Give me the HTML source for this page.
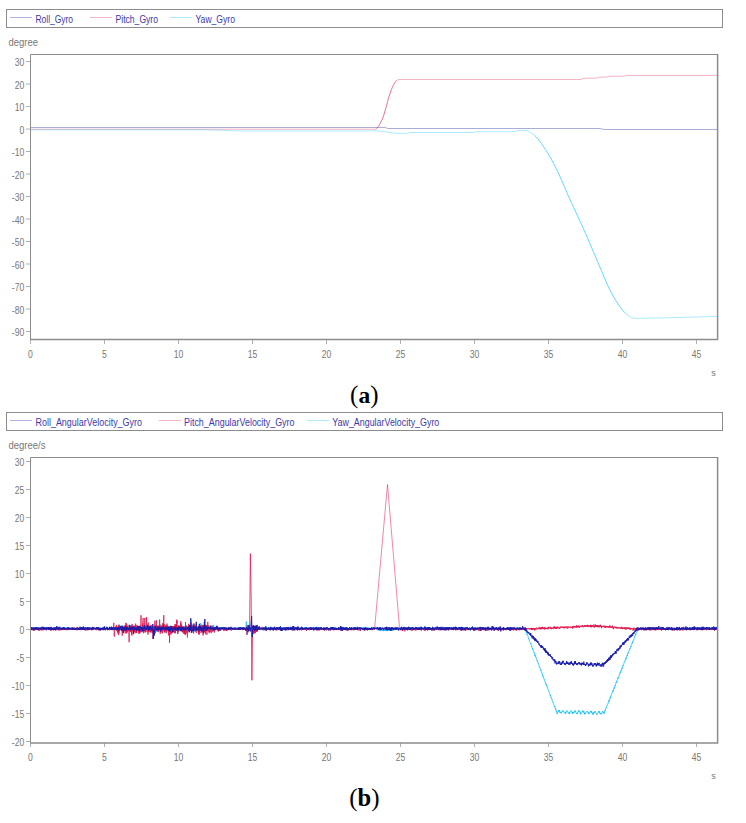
<!DOCTYPE html>
<html><head><meta charset="utf-8"><style>
html,body{margin:0;padding:0;background:#fff;width:746px;height:823px;overflow:hidden}
svg{display:block}

</style></head><body>
<svg width="746" height="823" viewBox="0 0 746 823">
<rect width="746" height="823" fill="#fff"/>
<rect x="6.5" y="9.5" width="716" height="18" fill="none" stroke="#8c8c8c" stroke-width="1"/>
<line x1="10" y1="17.5" x2="32" y2="17.5" stroke="#b4b4e0" stroke-width="1"/>
<text x="35.5" y="23" font-size="10" fill="#4038a8" text-anchor="start" font-family="'Liberation Sans', sans-serif" font-weight="normal" textLength="37.5" lengthAdjust="spacingAndGlyphs">Roll_Gyro</text>
<line x1="90" y1="17.5" x2="112" y2="17.5" stroke="#f2b4c6" stroke-width="1"/>
<text x="115.5" y="23" font-size="10" fill="#4038a8" text-anchor="start" font-family="'Liberation Sans', sans-serif" font-weight="normal" textLength="42.5" lengthAdjust="spacingAndGlyphs">Pitch_Gyro</text>
<line x1="170" y1="17.5" x2="192" y2="17.5" stroke="#afe9fa" stroke-width="1"/>
<text x="195.5" y="23" font-size="10" fill="#4038a8" text-anchor="start" font-family="'Liberation Sans', sans-serif" font-weight="normal" textLength="39.5" lengthAdjust="spacingAndGlyphs">Yaw_Gyro</text>
<text x="8.5" y="45.6" font-size="10" fill="#777777" text-anchor="start" font-family="'Liberation Sans', sans-serif" font-weight="normal" textLength="29.5" lengthAdjust="spacingAndGlyphs">degree</text>
<line x1="26" y1="61.5" x2="30" y2="61.5" stroke="#b0b0b0" stroke-width="1"/>
<text x="24.2" y="66.1" font-size="10" fill="#777777" text-anchor="end" font-family="'Liberation Sans', sans-serif" font-weight="normal" textLength="9.56" lengthAdjust="spacingAndGlyphs">30</text>
<line x1="26" y1="84" x2="30" y2="84" stroke="#b0b0b0" stroke-width="1"/>
<text x="24.2" y="88.6" font-size="10" fill="#777777" text-anchor="end" font-family="'Liberation Sans', sans-serif" font-weight="normal" textLength="9.56" lengthAdjust="spacingAndGlyphs">20</text>
<line x1="26" y1="106.5" x2="30" y2="106.5" stroke="#b0b0b0" stroke-width="1"/>
<text x="24.2" y="111.1" font-size="10" fill="#777777" text-anchor="end" font-family="'Liberation Sans', sans-serif" font-weight="normal" textLength="9.56" lengthAdjust="spacingAndGlyphs">10</text>
<line x1="26" y1="129" x2="30" y2="129" stroke="#b0b0b0" stroke-width="1"/>
<text x="24.2" y="133.6" font-size="10" fill="#777777" text-anchor="end" font-family="'Liberation Sans', sans-serif" font-weight="normal" textLength="4.78" lengthAdjust="spacingAndGlyphs">0</text>
<line x1="26" y1="151.5" x2="30" y2="151.5" stroke="#b0b0b0" stroke-width="1"/>
<text x="24.2" y="156.1" font-size="10" fill="#777777" text-anchor="end" font-family="'Liberation Sans', sans-serif" font-weight="normal" textLength="12.43" lengthAdjust="spacingAndGlyphs">-10</text>
<line x1="26" y1="174" x2="30" y2="174" stroke="#b0b0b0" stroke-width="1"/>
<text x="24.2" y="178.6" font-size="10" fill="#777777" text-anchor="end" font-family="'Liberation Sans', sans-serif" font-weight="normal" textLength="12.43" lengthAdjust="spacingAndGlyphs">-20</text>
<line x1="26" y1="196.5" x2="30" y2="196.5" stroke="#b0b0b0" stroke-width="1"/>
<text x="24.2" y="201.1" font-size="10" fill="#777777" text-anchor="end" font-family="'Liberation Sans', sans-serif" font-weight="normal" textLength="12.43" lengthAdjust="spacingAndGlyphs">-30</text>
<line x1="26" y1="219" x2="30" y2="219" stroke="#b0b0b0" stroke-width="1"/>
<text x="24.2" y="223.6" font-size="10" fill="#777777" text-anchor="end" font-family="'Liberation Sans', sans-serif" font-weight="normal" textLength="12.43" lengthAdjust="spacingAndGlyphs">-40</text>
<line x1="26" y1="241.5" x2="30" y2="241.5" stroke="#b0b0b0" stroke-width="1"/>
<text x="24.2" y="246.1" font-size="10" fill="#777777" text-anchor="end" font-family="'Liberation Sans', sans-serif" font-weight="normal" textLength="12.43" lengthAdjust="spacingAndGlyphs">-50</text>
<line x1="26" y1="264" x2="30" y2="264" stroke="#b0b0b0" stroke-width="1"/>
<text x="24.2" y="268.6" font-size="10" fill="#777777" text-anchor="end" font-family="'Liberation Sans', sans-serif" font-weight="normal" textLength="12.43" lengthAdjust="spacingAndGlyphs">-60</text>
<line x1="26" y1="286.5" x2="30" y2="286.5" stroke="#b0b0b0" stroke-width="1"/>
<text x="24.2" y="291.1" font-size="10" fill="#777777" text-anchor="end" font-family="'Liberation Sans', sans-serif" font-weight="normal" textLength="12.43" lengthAdjust="spacingAndGlyphs">-70</text>
<line x1="26" y1="309" x2="30" y2="309" stroke="#b0b0b0" stroke-width="1"/>
<text x="24.2" y="313.6" font-size="10" fill="#777777" text-anchor="end" font-family="'Liberation Sans', sans-serif" font-weight="normal" textLength="12.43" lengthAdjust="spacingAndGlyphs">-80</text>
<line x1="26" y1="331.5" x2="30" y2="331.5" stroke="#b0b0b0" stroke-width="1"/>
<text x="24.2" y="336.1" font-size="10" fill="#777777" text-anchor="end" font-family="'Liberation Sans', sans-serif" font-weight="normal" textLength="12.43" lengthAdjust="spacingAndGlyphs">-90</text>
<line x1="30.5" y1="340" x2="30.5" y2="344" stroke="#b0b0b0" stroke-width="1"/>
<text x="30.5" y="357.6" font-size="10" fill="#777777" text-anchor="middle" font-family="'Liberation Sans', sans-serif" font-weight="normal" textLength="4.78" lengthAdjust="spacingAndGlyphs">0</text>
<line x1="104.5" y1="340" x2="104.5" y2="344" stroke="#b0b0b0" stroke-width="1"/>
<text x="104.5" y="357.6" font-size="10" fill="#777777" text-anchor="middle" font-family="'Liberation Sans', sans-serif" font-weight="normal" textLength="4.78" lengthAdjust="spacingAndGlyphs">5</text>
<line x1="178.5" y1="340" x2="178.5" y2="344" stroke="#b0b0b0" stroke-width="1"/>
<text x="178.5" y="357.6" font-size="10" fill="#777777" text-anchor="middle" font-family="'Liberation Sans', sans-serif" font-weight="normal" textLength="9.56" lengthAdjust="spacingAndGlyphs">10</text>
<line x1="252.5" y1="340" x2="252.5" y2="344" stroke="#b0b0b0" stroke-width="1"/>
<text x="252.5" y="357.6" font-size="10" fill="#777777" text-anchor="middle" font-family="'Liberation Sans', sans-serif" font-weight="normal" textLength="9.56" lengthAdjust="spacingAndGlyphs">15</text>
<line x1="326.5" y1="340" x2="326.5" y2="344" stroke="#b0b0b0" stroke-width="1"/>
<text x="326.5" y="357.6" font-size="10" fill="#777777" text-anchor="middle" font-family="'Liberation Sans', sans-serif" font-weight="normal" textLength="9.56" lengthAdjust="spacingAndGlyphs">20</text>
<line x1="400.5" y1="340" x2="400.5" y2="344" stroke="#b0b0b0" stroke-width="1"/>
<text x="400.5" y="357.6" font-size="10" fill="#777777" text-anchor="middle" font-family="'Liberation Sans', sans-serif" font-weight="normal" textLength="9.56" lengthAdjust="spacingAndGlyphs">25</text>
<line x1="474.5" y1="340" x2="474.5" y2="344" stroke="#b0b0b0" stroke-width="1"/>
<text x="474.5" y="357.6" font-size="10" fill="#777777" text-anchor="middle" font-family="'Liberation Sans', sans-serif" font-weight="normal" textLength="9.56" lengthAdjust="spacingAndGlyphs">30</text>
<line x1="548.5" y1="340" x2="548.5" y2="344" stroke="#b0b0b0" stroke-width="1"/>
<text x="548.5" y="357.6" font-size="10" fill="#777777" text-anchor="middle" font-family="'Liberation Sans', sans-serif" font-weight="normal" textLength="9.56" lengthAdjust="spacingAndGlyphs">35</text>
<line x1="622.5" y1="340" x2="622.5" y2="344" stroke="#b0b0b0" stroke-width="1"/>
<text x="622.5" y="357.6" font-size="10" fill="#777777" text-anchor="middle" font-family="'Liberation Sans', sans-serif" font-weight="normal" textLength="9.56" lengthAdjust="spacingAndGlyphs">40</text>
<line x1="696.5" y1="340" x2="696.5" y2="344" stroke="#b0b0b0" stroke-width="1"/>
<text x="696.5" y="357.6" font-size="10" fill="#777777" text-anchor="middle" font-family="'Liberation Sans', sans-serif" font-weight="normal" textLength="9.56" lengthAdjust="spacingAndGlyphs">45</text>
<text x="713.6" y="375.6" font-size="9" fill="#777777" text-anchor="middle" font-family="'Liberation Sans', sans-serif" font-weight="normal">s</text>
<g fill="none" stroke-width="1" stroke-linejoin="round">
<path d="M30,127.5 L385,127.5 L388,128.5 L600,128.5 L604,129.5 L717,129.5" stroke="#00008b" stroke-width="0.33"/>
<path d="M30,129.2 L375.5,129.2" stroke="#dc143c" stroke-width="0.33"/>
<path d="M375.5,129.2 L375.86,128.87 L376.36,128.46 L376.95,127.96 L377.6,127.34 L378.26,126.59 L378.9,125.7 L379.54,124.65 L380.21,123.44 L380.91,122.1 L381.6,120.66 L382.27,119.15 L382.9,117.6 L383.5,115.94 L384.1,114.13 L384.67,112.24 L385.21,110.36 L385.73,108.56 L386.2,106.9 L386.61,105.41 L386.97,104.04 L387.29,102.74 L387.6,101.47 L387.93,100.21 L388.3,98.9 L388.72,97.53 L389.16,96.13 L389.62,94.73 L390.09,93.35 L390.55,92.03 L391,90.8 L391.44,89.66 L391.87,88.57 L392.3,87.54 L392.73,86.57 L393.16,85.66 L393.6,84.8 L394.04,83.99 L394.49,83.22 L394.94,82.51 L395.4,81.86 L395.85,81.29 L396.3,80.8 L396.78,80.41" stroke="#dc143c" stroke-width="0.62"/>
<path d="M396.78,80.41 L397.3,80.12 L397.82,79.9 L398.3,79.74 L398.71,79.61 L399,79.5 L581,79.5 L583,78.3 L597,78.1 L599,77.2 L607,77.1 L609,76.3 L624,76.2 L626,75.4 L717,75.4" stroke="#dc143c" stroke-width="0.33"/>
<path d="M30,129.9 L210,129.9 L236,130.9 L377,130.9 L390,132.4 L397,133.3 L408,133.3 L410,132.5 L473,132.5 L476,131.7 L515,131.7 L518,130.4 L527,130.4 L527.03,130.39" stroke="#00bfff" stroke-width="0.33"/>
<path d="M527.03,130.39 L527,130.33 L526.99,130.28" stroke="#00bfff" stroke-width="0.62"/>
<path d="M526.99,130.28 L527.1,130.31 L527.41,130.5 L528,130.9 L528.94,131.52 L530.18,132.29 L531.61,133.21 L533.14,134.28 L534.67,135.48" stroke="#00bfff" stroke-width="0.33"/>
<path d="M534.67,135.48 L536.1,136.8 L537.44,138.27 L538.77,139.91 L540.1,141.68 L541.43,143.56 L542.76,145.5 L544.1,147.5 L545.45,149.55 L546.8,151.67 L548.15,153.86 L549.5,156.13 L550.85,158.48 L552.2,160.9 L553.54,163.4 L554.87,165.97 L556.2,168.61 L557.53,171.33 L558.86,174.13 L560.2,177 L561.55,179.99 L562.9,183.12 L564.25,186.32 L565.6,189.54 L566.95,192.72 L568.3,195.8 L569.64,198.78 L570.97,201.7 L572.31,204.59 L573.64,207.45 L574.97,210.32 L576.3,213.2 L577.63,216.08 L578.96,218.95 L580.29,221.81 L581.63,224.7 L582.96,227.62 L584.3,230.6 L585.65,233.65 L587,236.76 L588.35,239.91 L589.7,243.08 L591.05,246.25 L592.4,249.4 L593.74,252.53 L595.07,255.67 L596.4,258.8 L597.73,261.93 L599.06,265.07 L600.4,268.2 L601.75,271.38 L603.1,274.62 L604.45,277.86 L605.8,281.04 L607.15,284.1 L608.5,287 L609.84,289.73 L611.17,292.35 L612.5,294.86 L613.83,297.25 L615.16,299.53 L616.5,301.7 L617.85,303.78 L619.2,305.76 L620.55,307.63 L621.9,309.37 L623.25,310.97 L624.6,312.4 L625.97,313.66" stroke="#00bfff" stroke-width="0.62"/>
<path d="M625.97,313.66 L627.37,314.77 L628.77,315.74 L630.13,316.56 L631.42,317.24 L632.6,317.8 L633.71,318.17 L634.79,318.35 L635.8,318.39 L636.7,318.35 L637.44,318.3 L638,318.3 L667.5,317.8 L694.3,317 L717,316.4" stroke="#00bfff" stroke-width="0.33"/>
</g>
<path d="M30.5,339.6 L30.5,54.5 L717.6,54.5" fill="none" stroke="#8c8c8c" stroke-width="1"/>
<path d="M30,339.6 L717.6,339.6 L717.6,54" fill="none" stroke="#8c8c8c" stroke-width="1.5"/>
<text x="364.3" y="403" font-size="23.5" fill="#000" text-anchor="middle" font-family="'Liberation Serif', serif"><tspan font-size="25">(</tspan><tspan font-weight="bold">a</tspan><tspan font-size="25">)</tspan></text>
<rect x="6.5" y="412.5" width="716" height="18" fill="none" stroke="#8c8c8c" stroke-width="1"/>
<line x1="10" y1="420.5" x2="32" y2="420.5" stroke="#b4b4e0" stroke-width="1"/>
<text x="35.5" y="426" font-size="10" fill="#4038a8" text-anchor="start" font-family="'Liberation Sans', sans-serif" font-weight="normal" textLength="106.5" lengthAdjust="spacingAndGlyphs">Roll_AngularVelocity_Gyro</text>
<line x1="159" y1="420.5" x2="181" y2="420.5" stroke="#f2b4c6" stroke-width="1"/>
<text x="184" y="426" font-size="10" fill="#4038a8" text-anchor="start" font-family="'Liberation Sans', sans-serif" font-weight="normal" textLength="110.5" lengthAdjust="spacingAndGlyphs">Pitch_AngularVelocity_Gyro</text>
<line x1="307" y1="420.5" x2="329" y2="420.5" stroke="#afe9fa" stroke-width="1"/>
<text x="332.3" y="426" font-size="10" fill="#4038a8" text-anchor="start" font-family="'Liberation Sans', sans-serif" font-weight="normal" textLength="107" lengthAdjust="spacingAndGlyphs">Yaw_AngularVelocity_Gyro</text>
<text x="8.5" y="448.6" font-size="10" fill="#777777" text-anchor="start" font-family="'Liberation Sans', sans-serif" font-weight="normal" textLength="37" lengthAdjust="spacingAndGlyphs">degree/s</text>
<line x1="26" y1="461.5" x2="30" y2="461.5" stroke="#b0b0b0" stroke-width="1"/>
<text x="24.2" y="466.1" font-size="10" fill="#777777" text-anchor="end" font-family="'Liberation Sans', sans-serif" font-weight="normal" textLength="9.56" lengthAdjust="spacingAndGlyphs">30</text>
<line x1="26" y1="489.5" x2="30" y2="489.5" stroke="#b0b0b0" stroke-width="1"/>
<text x="24.2" y="494.1" font-size="10" fill="#777777" text-anchor="end" font-family="'Liberation Sans', sans-serif" font-weight="normal" textLength="9.56" lengthAdjust="spacingAndGlyphs">25</text>
<line x1="26" y1="517.5" x2="30" y2="517.5" stroke="#b0b0b0" stroke-width="1"/>
<text x="24.2" y="522.1" font-size="10" fill="#777777" text-anchor="end" font-family="'Liberation Sans', sans-serif" font-weight="normal" textLength="9.56" lengthAdjust="spacingAndGlyphs">20</text>
<line x1="26" y1="545.5" x2="30" y2="545.5" stroke="#b0b0b0" stroke-width="1"/>
<text x="24.2" y="550.1" font-size="10" fill="#777777" text-anchor="end" font-family="'Liberation Sans', sans-serif" font-weight="normal" textLength="9.56" lengthAdjust="spacingAndGlyphs">15</text>
<line x1="26" y1="573.5" x2="30" y2="573.5" stroke="#b0b0b0" stroke-width="1"/>
<text x="24.2" y="578.1" font-size="10" fill="#777777" text-anchor="end" font-family="'Liberation Sans', sans-serif" font-weight="normal" textLength="9.56" lengthAdjust="spacingAndGlyphs">10</text>
<line x1="26" y1="601.5" x2="30" y2="601.5" stroke="#b0b0b0" stroke-width="1"/>
<text x="24.2" y="606.1" font-size="10" fill="#777777" text-anchor="end" font-family="'Liberation Sans', sans-serif" font-weight="normal" textLength="4.78" lengthAdjust="spacingAndGlyphs">5</text>
<line x1="26" y1="629.5" x2="30" y2="629.5" stroke="#b0b0b0" stroke-width="1"/>
<text x="24.2" y="634.1" font-size="10" fill="#777777" text-anchor="end" font-family="'Liberation Sans', sans-serif" font-weight="normal" textLength="4.78" lengthAdjust="spacingAndGlyphs">0</text>
<line x1="26" y1="657.5" x2="30" y2="657.5" stroke="#b0b0b0" stroke-width="1"/>
<text x="24.2" y="662.1" font-size="10" fill="#777777" text-anchor="end" font-family="'Liberation Sans', sans-serif" font-weight="normal" textLength="7.65" lengthAdjust="spacingAndGlyphs">-5</text>
<line x1="26" y1="685.5" x2="30" y2="685.5" stroke="#b0b0b0" stroke-width="1"/>
<text x="24.2" y="690.1" font-size="10" fill="#777777" text-anchor="end" font-family="'Liberation Sans', sans-serif" font-weight="normal" textLength="12.43" lengthAdjust="spacingAndGlyphs">-10</text>
<line x1="26" y1="713.5" x2="30" y2="713.5" stroke="#b0b0b0" stroke-width="1"/>
<text x="24.2" y="718.1" font-size="10" fill="#777777" text-anchor="end" font-family="'Liberation Sans', sans-serif" font-weight="normal" textLength="12.43" lengthAdjust="spacingAndGlyphs">-15</text>
<line x1="26" y1="741.5" x2="30" y2="741.5" stroke="#b0b0b0" stroke-width="1"/>
<text x="24.2" y="746.1" font-size="10" fill="#777777" text-anchor="end" font-family="'Liberation Sans', sans-serif" font-weight="normal" textLength="12.43" lengthAdjust="spacingAndGlyphs">-20</text>
<line x1="30.5" y1="743" x2="30.5" y2="747" stroke="#b0b0b0" stroke-width="1"/>
<text x="30.5" y="760.6" font-size="10" fill="#777777" text-anchor="middle" font-family="'Liberation Sans', sans-serif" font-weight="normal" textLength="4.78" lengthAdjust="spacingAndGlyphs">0</text>
<line x1="104.5" y1="743" x2="104.5" y2="747" stroke="#b0b0b0" stroke-width="1"/>
<text x="104.5" y="760.6" font-size="10" fill="#777777" text-anchor="middle" font-family="'Liberation Sans', sans-serif" font-weight="normal" textLength="4.78" lengthAdjust="spacingAndGlyphs">5</text>
<line x1="178.5" y1="743" x2="178.5" y2="747" stroke="#b0b0b0" stroke-width="1"/>
<text x="178.5" y="760.6" font-size="10" fill="#777777" text-anchor="middle" font-family="'Liberation Sans', sans-serif" font-weight="normal" textLength="9.56" lengthAdjust="spacingAndGlyphs">10</text>
<line x1="252.5" y1="743" x2="252.5" y2="747" stroke="#b0b0b0" stroke-width="1"/>
<text x="252.5" y="760.6" font-size="10" fill="#777777" text-anchor="middle" font-family="'Liberation Sans', sans-serif" font-weight="normal" textLength="9.56" lengthAdjust="spacingAndGlyphs">15</text>
<line x1="326.5" y1="743" x2="326.5" y2="747" stroke="#b0b0b0" stroke-width="1"/>
<text x="326.5" y="760.6" font-size="10" fill="#777777" text-anchor="middle" font-family="'Liberation Sans', sans-serif" font-weight="normal" textLength="9.56" lengthAdjust="spacingAndGlyphs">20</text>
<line x1="400.5" y1="743" x2="400.5" y2="747" stroke="#b0b0b0" stroke-width="1"/>
<text x="400.5" y="760.6" font-size="10" fill="#777777" text-anchor="middle" font-family="'Liberation Sans', sans-serif" font-weight="normal" textLength="9.56" lengthAdjust="spacingAndGlyphs">25</text>
<line x1="474.5" y1="743" x2="474.5" y2="747" stroke="#b0b0b0" stroke-width="1"/>
<text x="474.5" y="760.6" font-size="10" fill="#777777" text-anchor="middle" font-family="'Liberation Sans', sans-serif" font-weight="normal" textLength="9.56" lengthAdjust="spacingAndGlyphs">30</text>
<line x1="548.5" y1="743" x2="548.5" y2="747" stroke="#b0b0b0" stroke-width="1"/>
<text x="548.5" y="760.6" font-size="10" fill="#777777" text-anchor="middle" font-family="'Liberation Sans', sans-serif" font-weight="normal" textLength="9.56" lengthAdjust="spacingAndGlyphs">35</text>
<line x1="622.5" y1="743" x2="622.5" y2="747" stroke="#b0b0b0" stroke-width="1"/>
<text x="622.5" y="760.6" font-size="10" fill="#777777" text-anchor="middle" font-family="'Liberation Sans', sans-serif" font-weight="normal" textLength="9.56" lengthAdjust="spacingAndGlyphs">40</text>
<line x1="696.5" y1="743" x2="696.5" y2="747" stroke="#b0b0b0" stroke-width="1"/>
<text x="696.5" y="760.6" font-size="10" fill="#777777" text-anchor="middle" font-family="'Liberation Sans', sans-serif" font-weight="normal" textLength="9.56" lengthAdjust="spacingAndGlyphs">45</text>
<text x="713.6" y="778.6" font-size="9" fill="#777777" text-anchor="middle" font-family="'Liberation Sans', sans-serif" font-weight="normal">s</text>
<g fill="none" stroke-width="0.45" stroke-linejoin="round">
<path d="M30.5,627.92 L30.65,628.78 L30.8,628.13 L30.94,628.61 L31.09,628.43 L31.24,628.33 L31.39,629.03 L31.53,627.89 L31.68,627.95 L31.83,628.13 L31.98,628.77 L32.13,627.82 L32.27,628.46 L32.42,628.39 L32.57,628.57 L32.72,629.6 L32.86,628.53 L33.01,628.45 L33.16,627.97 L33.31,628.84 L33.45,628.78 L33.6,627.71 L33.75,627.74 L33.9,628.34 L34.05,629.26 L34.19,628.14 L34.34,628.38 L34.49,629.07 L34.64,629.38 L34.78,628.18 L34.93,628.8 L35.08,628.4 L35.23,628.09 L35.38,628.23 L35.52,627.43 L35.67,629.35 L35.82,628.53 L35.97,628.44 L36.11,628.8 L36.26,628.16 L36.41,628.45 L36.56,628.34 L36.71,628.03 L36.85,628.38 L37,627.56 L37.15,628.1 L37.3,627.71 L37.44,628.93 L37.59,628.46 L37.74,628.17 L37.89,628.55 L38.04,627.89 L38.18,628.04 L38.33,628.48 L38.48,627.63 L38.63,627.78 L38.77,628.38 L38.92,627.85 L39.07,628.17 L39.22,628.8 L39.36,628.61 L39.51,628.38 L39.66,629.01 L39.81,628.31 L39.96,627.98 L40.1,628.84 L40.25,628.14 L40.4,628.43 L40.55,627.7 L40.69,628.36 L40.84,628 L40.99,628.3 L41.14,627.96 L41.29,628.38 L41.43,628.16 L41.58,629.08 L41.73,628.22 L41.88,628.43 L42.02,628.33 L42.17,628.14 L42.32,628.14 L42.47,628.4 L42.62,628.39 L42.76,628.37 L42.91,628.15 L43.06,628.17 L43.21,628.18 L43.35,628.56 L43.5,628.19 L43.65,628.77 L43.8,628.42 L43.94,627.82 L44.09,629.39 L44.24,628.53 L44.39,629.1 L44.54,628.53 L44.68,628.65 L44.83,628.71 L44.98,627.97 L45.13,628.82 L45.27,629.5 L45.42,628.09 L45.57,628.1 L45.72,628.66 L45.87,628.28 L46.01,628.23 L46.16,628.74 L46.31,628.05 L46.46,628.37 L46.6,628.76 L46.75,628.65 L46.9,629.02 L47.05,627.52 L47.2,628.76 L47.34,628.44 L47.49,628.39 L47.64,629.22 L47.79,627.51 L47.93,628.6 L48.08,627.56 L48.23,628.94 L48.38,628.04 L48.52,627.93 L48.67,628.26 L48.82,628.17 L48.97,627.89 L49.12,628.23 L49.26,628.33 L49.41,628.77 L49.56,628.24 L49.71,628.52 L49.85,628.43 L50,628.56 L50.15,629.05 L50.3,628.69 L50.45,628.82 L50.59,629.59 L50.74,629.07 L50.89,628.97 L51.04,628.99 L51.18,628.62 L51.33,628.77 L51.48,628.17 L51.63,628.54 L51.78,627.73 L51.92,628.18 L52.07,628.99 L52.22,629.24 L52.37,628.91 L52.51,628.71 L52.66,628.99 L52.81,628.72 L52.96,628.17 L53.11,628.56 L53.25,628.09 L53.4,628.58 L53.55,628.23 L53.7,628.58 L53.84,627.96 L53.99,628.57 L54.14,628.32 L54.29,628.4 L54.43,627.73 L54.58,628.77 L54.73,628.97 L54.88,628.68 L55.03,629.14 L55.17,627.56 L55.32,628.49 L55.47,628.68 L55.62,629.22 L55.76,628.76 L55.91,628.32 L56.06,628.7 L56.21,628.29 L56.36,628.75 L56.5,628.63 L56.65,628.31 L56.8,628.55 L56.95,628.36 L57.09,627.75 L57.24,628.15 L57.39,628.43 L57.54,627.44 L57.69,629.28 L57.83,628.3 L57.98,628.11 L58.13,628.79 L58.28,628.43 L58.42,627.95 L58.57,627.84 L58.72,628.93 L58.87,628.07 L59.01,627.78 L59.16,628.91 L59.31,628.39 L59.46,628.31 L59.61,627.87 L59.75,628.86 L59.9,628.29 L60.05,628.85 L60.2,628.44 L60.34,627.9 L60.49,628.76 L60.64,628.17 L60.79,628.05 L60.94,628.15 L61.08,628.35 L61.23,629.53 L61.38,628.44 L61.53,628.23 L61.67,628.09 L61.82,629.94 L61.97,628.62 L62.12,628.96 L62.27,628.6 L62.41,628.91 L62.56,629.05 L62.71,628.95 L62.86,628.37 L63,628.33 L63.15,628.8 L63.3,627.58 L63.45,628.36 L63.59,628.56 L63.74,627.78 L63.89,627.99 L64.04,628.81 L64.19,628.47 L64.33,628.94 L64.48,627.99 L64.63,628.5 L64.78,628.14 L64.92,628.14 L65.07,628.22 L65.22,628.45 L65.37,628.01 L65.52,628.53 L65.66,628.44 L65.81,628.37 L65.96,627.99 L66.11,628.86 L66.25,629.1 L66.4,628.57 L66.55,628.56 L66.7,627.98 L66.85,628.58 L66.99,627.8 L67.14,628.76 L67.29,627.49 L67.44,629.49 L67.58,628.27 L67.73,628.16 L67.88,627.42 L68.03,628.55 L68.18,628.59 L68.32,628.17 L68.47,628.95 L68.62,629.21 L68.77,628.59 L68.91,627.78 L69.06,627.59 L69.21,628.47 L69.36,628.54 L69.5,628.15 L69.65,628.31 L69.8,628.57 L69.95,628.18 L70.1,627.79 L70.24,628.46 L70.39,627.84 L70.54,628.63 L70.69,628.97 L70.83,628.85 L70.98,628 L71.13,629.19 L71.28,628.47 L71.43,628.53 L71.57,628.11 L71.72,627.78 L71.87,628.23 L72.02,628.2 L72.16,628.56 L72.31,628.34 L72.46,628.14 L72.61,628.46 L72.76,628.22 L72.9,627.84 L73.05,628.34 L73.2,628.14 L73.35,628.78 L73.49,627.43 L73.64,628.16 L73.79,628.3 L73.94,628.75 L74.08,628.6 L74.23,628.42 L74.38,628.63 L74.53,629.43 L74.68,628.4 L74.82,628.52 L74.97,629.59 L75.12,628.55 L75.27,628.88 L75.41,627.99 L75.56,628.29 L75.71,629.59 L75.86,628.71 L76.01,628.45 L76.15,628.22 L76.3,628.22 L76.45,628.46 L76.6,628.87 L76.74,628.73 L76.89,627.65 L77.04,627.73 L77.19,627.04 L77.34,628.02 L77.48,628.89 L77.63,628.83 L77.78,629.38 L77.93,628.61 L78.07,628.25 L78.22,628.43 L78.37,628.72 L78.52,628.47 L78.66,628.48 L78.81,628.38 L78.96,628.51 L79.11,628.46 L79.26,628.57 L79.4,627.98 L79.55,628.02 L79.7,628.09 L79.85,629.32 L79.99,628.18 L80.14,629.03 L80.29,628.22 L80.44,628.36 L80.59,627.59 L80.73,627.93 L80.88,627.88 L81.03,628.12 L81.18,628.35 L81.32,628.2 L81.47,627.97 L81.62,628.54 L81.77,628.81 L81.92,628.23 L82.06,628.25 L82.21,627.92 L82.36,629.44 L82.51,629.18 L82.65,628.38 L82.8,628.96 L82.95,628.15 L83.1,628.27 L83.25,628.51 L83.39,628.11 L83.54,628.89 L83.69,629.03 L83.84,629.02 L83.98,628.09 L84.13,628.62 L84.28,628.11 L84.43,628.51 L84.57,628.42 L84.72,629.05 L84.87,628.43 L85.02,629.15 L85.17,628.22 L85.31,628.52 L85.46,627.57 L85.61,628.51 L85.76,628.15 L85.9,628.5 L86.05,628.05 L86.2,628.21 L86.35,628.23 L86.5,627.9 L86.64,628.42 L86.79,629.04 L86.94,628.17 L87.09,628.83 L87.23,628.51 L87.38,628.19 L87.53,627.8 L87.68,628.07 L87.83,629.16 L87.97,628.42 L88.12,628.58 L88.27,628.64 L88.42,628.59 L88.56,627.65 L88.71,629.03 L88.86,627.69 L89.01,627.62 L89.15,628.63 L89.3,629.21 L89.45,628.67 L89.6,627.7 L89.75,628.43 L89.89,628.49 L90.04,628.01 L90.19,628.09 L90.34,627.94 L90.48,628.85 L90.63,628.48 L90.78,628.28 L90.93,628.19 L91.08,627.85 L91.22,627.87 L91.37,628.4 L91.52,628.35 L91.67,628.89 L91.81,628.29 L91.96,629.3 L92.11,629.77 L92.26,628.58 L92.41,628.4 L92.55,628.97 L92.7,628.85 L92.85,628.47 L93,628.13 L93.14,628.64 L93.29,628.74 L93.44,627.62 L93.59,628.42 L93.74,628.77 L93.88,628.46 L94.03,628.71 L94.18,628.63 L94.33,628.06 L94.47,628.66 L94.62,628.87 L94.77,628.13 L94.92,628.13 L95.06,628.57 L95.21,628.31 L95.36,628.2 L95.51,627.8 L95.66,627.99 L95.8,628.72 L95.95,627.44 L96.1,628.03 L96.25,627.42 L96.39,628.24 L96.54,628.42 L96.69,628.4 L96.84,628.13 L96.99,628 L97.13,628.42 L97.28,627.81 L97.43,628.62 L97.58,628.2 L97.72,628.8 L97.87,628.29 L98.02,628.61 L98.17,629.1 L98.32,627.71 L98.46,629.2 L98.61,628.78 L98.76,629.05 L98.91,628.33 L99.05,629.42 L99.2,628.85 L99.35,628.66 L99.5,628.5 L99.64,628.07 L99.79,628.66 L99.94,629.5 L100.09,628.73 L100.24,628.43 L100.38,629 L100.53,628.96 L100.68,628.9 L100.83,628.85 L100.97,628.79 L101.12,628.05 L101.27,628.65 L101.42,628.23 L101.57,628.93 L101.71,628.46 L101.86,629.12 L102.01,627.89 L102.16,627.58 L102.3,628.67 L102.45,628.69 L102.6,627.7 L102.75,628.34 L102.9,627.95 L103.04,628.9 L103.19,628.38 L103.34,628.38 L103.49,628.52 L103.63,628.52 L103.78,627.62 L103.93,628.39 L104.08,628.26 L104.22,628.06 L104.37,628.08 L104.52,628.75 L104.67,628.32 L104.82,627.71 L104.96,629.21 L105.11,628.48 L105.26,627.81 L105.41,628.53 L105.55,629.06 L105.7,628.67 L105.85,628.35 L106,628.03 L106.15,628.52 L106.29,628.03 L106.44,628.61 L106.59,628.93 L106.74,627.87 L106.88,628.25 L107.03,629.46 L107.18,628.78 L107.33,627.96 L107.48,628.93 L107.62,627.83 L107.77,628.47 L107.92,628.28 L108.07,629.1 L108.21,628.3 L108.36,627.85 L108.51,628.81 L108.66,628.85 L108.81,628.64 L108.95,627.94 L109.1,627.71 L109.25,628.43 L109.4,629.01 L109.54,628.15 L109.69,628.23 L109.84,627.96 L109.99,628.54 L110.13,628.63 L110.28,628.77 L110.43,628.73 L110.58,628.07 L110.73,628.5 L110.87,629 L111.02,629.17 L111.17,628.47 L111.32,627.44 L111.46,627.98 L111.61,627.63 L111.76,627.52 L111.91,628.01 L112.06,627.97 L112.2,628.8 L112.35,628.15 L112.5,628.28 L112.65,628.32 L112.79,628.01 L112.94,628.19 L113.09,628.32 L113.24,628.73 L113.39,628.28 L113.53,628.85 L113.68,628.08 L113.83,628.88 L113.98,628.93 L114.12,628.31 L114.27,627.73 L114.42,628.84 L114.57,627.56 L114.71,628.05 L114.86,628.15 L115.01,628.93 L115.16,627.73 L115.31,627.44 L115.45,628.91 L115.6,630.08 L115.75,628.44 L115.9,627.23 L116.04,627.46 L116.19,626.58 L116.34,627.2 L116.49,630.45 L116.64,627.94 L116.78,629.68 L116.93,629.05 L117.08,627.45 L117.23,628.33 L117.37,628.23 L117.52,630.04 L117.67,630.38 L117.82,632.4 L117.97,626.41 L118.11,628.72 L118.26,627.66 L118.41,628.74 L118.56,627.94 L118.7,627.77 L118.85,630.35 L119,624.82 L119.15,626.82 L119.29,632.93 L119.44,628.68 L119.59,629.39 L119.74,626.34 L119.89,625.18 L120.03,630.67 L120.18,629.39 L120.33,628.13 L120.48,626.28 L120.62,629.77 L120.77,628.87 L120.92,627.8 L121.07,626.88 L121.22,628.62 L121.36,629.18 L121.51,626.25 L121.66,629.46 L121.81,628.3 L121.95,625.27 L122.1,628.59 L122.25,627.25 L122.4,628.01 L122.55,630.07 L122.69,629.51 L122.84,629.6 L122.99,630.29 L123.14,627.16 L123.28,625.7 L123.43,628.34 L123.58,629.97 L123.73,630.7 L123.88,627.1 L124.02,627.65 L124.17,629.18 L124.32,627.06 L124.47,627.08 L124.61,630.32 L124.76,627.15 L124.91,627.35 L125.06,629.05 L125.2,626.76 L125.35,631.03 L125.5,627.52 L125.65,627.56 L125.8,631.18 L125.94,628.68 L126.09,629.03 L126.24,630.28 L126.39,629.28 L126.53,628.15 L126.68,629.67 L126.83,626.84 L126.98,631.19 L127.13,628.98 L127.27,628.32 L127.42,630.47 L127.57,631.48 L127.72,627.92 L127.86,630.03 L128.01,626.8 L128.16,628.45 L128.31,629.02 L128.46,627.1 L128.6,630.06 L128.75,629.45 L128.9,627.29 L129.05,625.15 L129.19,631.99 L129.34,628.15 L129.49,629.91 L129.64,627.14 L129.78,627.37 L129.93,629.05 L130.08,626.22 L130.23,628.07 L130.38,629.36 L130.52,630.37 L130.67,631.48 L130.82,625.29 L130.97,630.14 L131.11,627.56 L131.26,625.51 L131.41,627.97 L131.56,627.64 L131.71,626.37 L131.85,630.39 L132,627.92 L132.15,629.49 L132.3,627 L132.44,627.84 L132.59,630.34 L132.74,630.34 L132.89,626.89 L133.04,630.76 L133.18,630.39 L133.33,628.64 L133.48,625.69 L133.63,627.62 L133.77,630.94 L133.92,629.03 L134.07,629.3 L134.22,628.19 L134.36,626.52 L134.51,629.33 L134.66,626.29 L134.81,630.39 L134.96,627.94 L135.1,626.76 L135.25,627.49 L135.4,625.53 L135.55,629.06 L135.69,631.04 L135.84,628.53 L135.99,626.09 L136.14,628.83 L136.29,631.94 L136.43,628.27 L136.58,627.58 L136.73,627.85 L136.88,630.17 L137.02,627.05 L137.17,630.56 L137.32,628.07 L137.47,627.04 L137.62,629.06 L137.76,630.57 L137.91,626.38 L138.06,626.23 L138.21,630.63 L138.35,627.29 L138.5,629.85 L138.65,627.9 L138.8,629.53 L138.95,631.17 L139.09,628.14 L139.24,627.07 L139.39,626.18 L139.54,628.3 L139.68,629.43 L139.83,628.87 L139.98,630.83 L140.13,627.43 L140.27,628.43 L140.42,626.46 L140.57,630.54 L140.72,625.64 L140.87,629.49 L141.01,628.64 L141.16,628.84 L141.31,627.68 L141.46,630.24 L141.6,628.3 L141.75,628.53 L141.9,627.32 L142.05,627.39 L142.2,627.6 L142.34,628.93 L142.49,626.78 L142.64,630.7 L142.79,630.59 L142.93,625.96 L143.08,630.3 L143.23,625.76 L143.38,625.18 L143.53,629.12 L143.67,626.03 L143.82,629.08 L143.97,626.48 L144.12,628.99 L144.26,629.29 L144.41,627.75 L144.56,630.6 L144.71,627.98 L144.85,629.32 L145,628.66 L145.15,626.51 L145.3,630.37 L145.45,627.28 L145.59,628.17 L145.74,626.83 L145.89,625.49 L146.04,626.45 L146.18,625.12 L146.33,627.65 L146.48,630 L146.63,629.82 L146.78,627.29 L146.92,629.28 L147.07,628.51 L147.22,627.47 L147.37,624.2 L147.51,625.37 L147.66,629.26 L147.81,625.94 L147.96,629.43 L148.11,629.52 L148.25,627.98 L148.4,628.68 L148.55,625.78 L148.7,630.59 L148.84,629.97 L148.99,625.82 L149.14,630.75 L149.29,630.44 L149.44,630 L149.58,627.64 L149.73,626.46 L149.88,626.46 L150.03,629.08 L150.17,631.55 L150.32,626.19 L150.47,631.58 L150.62,628.58 L150.76,629.08 L150.91,629.66 L151.06,630.15 L151.21,629.93 L151.36,627.12 L151.5,629.13 L151.65,629.04 L151.8,628.55 L151.95,628.75 L152.09,627.81 L152.24,631.34 L152.39,627.99 L152.54,628.67 L152.69,628.95 L152.83,631.37 L152.98,626.92 L153.13,628.9 L153.28,627.66 L153.42,628.6 L153.57,628.46 L153.72,625.92 L153.87,626.11 L154.02,629.61 L154.16,630.27 L154.31,629.72 L154.46,629.36 L154.61,627.69 L154.75,629.64 L154.9,629.39 L155.05,628 L155.2,629.36 L155.34,628.9 L155.49,627.6 L155.64,629.03 L155.79,629.47 L155.94,625.56 L156.08,629 L156.23,629.33 L156.38,626.56 L156.53,626.51 L156.67,630.01 L156.82,631.85 L156.97,628.76 L157.12,626.57 L157.27,628.02 L157.41,628.13 L157.56,629.15 L157.71,627.3 L157.86,627.1 L158,628.76 L158.15,630.64 L158.3,628.29 L158.45,627.41 L158.6,626.19 L158.74,628.02 L158.89,628.93 L159.04,626.72 L159.19,629.79 L159.33,630.86 L159.48,628.45 L159.63,626.41 L159.78,625.67 L159.92,627.27 L160.07,628.3 L160.22,626.35 L160.37,628.37 L160.52,628.78 L160.66,626.46 L160.81,628.11 L160.96,624.29 L161.11,627.34 L161.25,628.05 L161.4,628.67 L161.55,625.67 L161.7,627.11 L161.85,627.25 L161.99,629.16 L162.14,627.82 L162.29,630.73 L162.44,628.55 L162.58,627.6 L162.73,627.32 L162.88,626.73 L163.03,630.02 L163.18,631.43 L163.32,628.27 L163.47,629.44 L163.62,629.14 L163.77,626.61 L163.91,630.06 L164.06,626.56 L164.21,628.5 L164.36,630.54 L164.51,632.53 L164.65,630.02 L164.8,631.41 L164.95,627.51 L165.1,631.7 L165.24,628.23 L165.39,631.21 L165.54,626.96 L165.69,630.55 L165.83,628.51 L165.98,629.31 L166.13,627.21 L166.28,627.15 L166.43,626.52 L166.57,630.8 L166.72,628.37 L166.87,626.9 L167.02,628.76 L167.16,628.6 L167.31,631.59 L167.46,629.72 L167.61,627.96 L167.76,627.94 L167.9,625.44 L168.05,629.65 L168.2,628.65 L168.35,627.28 L168.49,627.47 L168.64,631.3 L168.79,630.2 L168.94,630.87 L169.09,625.97 L169.23,630.63 L169.38,629.85 L169.53,628.95 L169.68,630.3 L169.82,626.98 L169.97,628.5 L170.12,630.06 L170.27,625.7 L170.41,627.84 L170.56,626.06 L170.71,627.05 L170.86,626.85 L171.01,626.11 L171.15,625.79 L171.3,629.88 L171.45,626.98 L171.6,628.12 L171.74,628.2 L171.89,629.44 L172.04,628.14 L172.19,628.23 L172.34,627.13 L172.48,627.42 L172.63,627.64 L172.78,626.39 L172.93,626.36 L173.07,628.2 L173.22,628.41 L173.37,626.24 L173.52,628.3 L173.67,626.83 L173.81,627.35 L173.96,626.94 L174.11,629.29 L174.26,626.9 L174.4,629.76 L174.55,626.44 L174.7,628.53 L174.85,628.15 L174.99,626.89 L175.14,627.33 L175.29,629.92 L175.44,631.59 L175.59,628.15 L175.73,628.95 L175.88,629.38 L176.03,625.59 L176.18,628.91 L176.32,629.01 L176.47,626.47 L176.62,625.62 L176.77,627.61 L176.92,627.23 L177.06,629.82 L177.21,626.66 L177.36,627.51 L177.51,626.65 L177.65,633.71 L177.8,629.79 L177.95,630.66 L178.1,627.57 L178.25,629.56 L178.39,629.79 L178.54,628.03 L178.69,627.52 L178.84,627.24 L178.98,626.16 L179.13,625.3 L179.28,627.64 L179.43,630.17 L179.58,629.13 L179.72,627.56 L179.87,626.39 L180.02,626.95 L180.17,628.11 L180.31,628.8 L180.46,629.91 L180.61,625 L180.76,630.35 L180.9,629.04 L181.05,630.03 L181.2,628.78 L181.35,632.02 L181.5,626.65 L181.64,624.88 L181.79,624.7 L181.94,627.31 L182.09,627.42 L182.23,629.15 L182.38,628.06 L182.53,631.83 L182.68,630 L182.83,628.16 L182.97,627.63 L183.12,627.83 L183.27,628.23 L183.42,627.82 L183.56,629.65 L183.71,626.8 L183.86,629.37 L184.01,628.06 L184.16,628.91 L184.3,630.11 L184.45,631.11 L184.6,627.91 L184.75,628.98 L184.89,626.54 L185.04,626.13 L185.19,628.53 L185.34,626.92 L185.48,629.19 L185.63,627.13 L185.78,626.4 L185.93,627.9 L186.08,626.35 L186.22,627.7 L186.37,632.61 L186.52,628.27 L186.67,626.82 L186.81,630.61 L186.96,626.69 L187.11,630.33 L187.26,628.2 L187.41,628.6 L187.55,628.06 L187.7,629.89 L187.85,626.33 L188,630.09 L188.14,628.39 L188.29,626.24 L188.44,629.49 L188.59,629.24 L188.74,630.18 L188.88,625.86 L189.03,627.08 L189.18,629.76 L189.33,629.06 L189.47,626.75 L189.62,626.04 L189.77,628.33 L189.92,628.15 L190.07,628.02 L190.21,627.75 L190.36,630.73 L190.51,627.02 L190.66,628.94 L190.8,629.29 L190.95,627.68 L191.1,629.25 L191.25,625.89 L191.39,630.48 L191.54,628.47 L191.69,626.69 L191.84,627.96 L191.99,626.72 L192.13,629.05 L192.28,628.76 L192.43,629.34 L192.58,628.98 L192.72,625.81 L192.87,626.77 L193.02,631.75 L193.17,628.02 L193.32,626.59 L193.46,629.44 L193.61,628.28 L193.76,625.09 L193.91,630.35 L194.05,625.46 L194.2,629.7 L194.35,626.67 L194.5,627.84 L194.65,629.14 L194.79,626.47 L194.94,624.06 L195.09,627.87 L195.24,631.82 L195.38,625.72 L195.53,631.08 L195.68,626.5 L195.83,631.79 L195.97,626.96 L196.12,627.75 L196.27,627.02 L196.42,628.54 L196.57,629.14 L196.71,628.68 L196.86,627.62 L197.01,627.45 L197.16,627.28 L197.3,629.26 L197.45,627.89 L197.6,627.79 L197.75,627.51 L197.9,628.26 L198.04,628.97 L198.19,627.21 L198.34,629.89 L198.49,628.27 L198.63,627.35 L198.78,628.92 L198.93,627.72 L199.08,626.18 L199.23,628.18 L199.37,628.45 L199.52,628.62 L199.67,627.29 L199.82,627.96 L199.96,628.08 L200.11,629.24 L200.26,627.75 L200.41,626.07 L200.55,628.19 L200.7,623.11 L200.85,629.74 L201,628.12 L201.15,630.24 L201.29,630.6 L201.44,629.73 L201.59,627.63 L201.74,626.33 L201.88,628.67 L202.03,630.82 L202.18,628.97 L202.33,625.17 L202.48,625.01 L202.62,628.05 L202.77,633.57 L202.92,625.85 L203.07,627.97 L203.21,632.94 L203.36,628.69 L203.51,628.54 L203.66,625.54 L203.81,629.6 L203.95,628.05 L204.1,627.72 L204.25,628.41 L204.4,626.52 L204.54,630.14 L204.69,629.94 L204.84,628.72 L204.99,624.93 L205.14,630.01 L205.28,629.71 L205.43,628.39 L205.58,627.43 L205.73,629.43 L205.87,629.53 L206.02,629.6 L206.17,627.52 L206.32,626.16 L206.46,628.96 L206.61,626.73 L206.76,629.11 L206.91,631.38 L207.06,626.39 L207.2,629.58 L207.35,630.27 L207.5,628.98 L207.65,628.85 L207.79,627.97 L207.94,629.86 L208.09,626.26 L208.24,629.02 L208.39,627.12 L208.53,628.96 L208.68,628.41 L208.83,629.19 L208.98,631.25 L209.12,628.31 L209.27,629.93 L209.42,626.96 L209.57,628.37 L209.72,628.3 L209.86,629.89 L210.01,629.06 L210.16,629.23 L210.31,628 L210.45,628.27 L210.6,631.78 L210.75,627.78 L210.9,627.73 L211.04,626.19 L211.19,627.16 L211.34,630.13 L211.49,628.88 L211.64,627.2 L211.78,629.53 L211.93,627.98 L212.08,628.66 L212.23,629.72 L212.37,625.67 L212.52,630.24 L212.67,626.33 L212.82,627.04 L212.97,628.14 L213.11,628.38 L213.26,629.87 L213.41,628.74 L213.56,624.85 L213.7,630.8 L213.85,627.7 L214,626.78 L214.15,629.42 L214.3,627.21 L214.44,628.97 L214.59,629.9 L214.74,628.1 L214.89,628.11 L215.03,628.71 L215.18,627.32 L215.33,629.39 L215.48,629 L215.62,627.06 L215.77,627.9 L215.92,628.63 L216.07,628.63 L216.22,628.93 L216.36,627.19 L216.51,627.73 L216.66,625.93 L216.81,629.11 L216.95,629.12 L217.1,629.99 L217.25,629.93 L217.4,628.76 L217.55,627.63 L217.69,627.75 L217.84,627.86 L217.99,628.57 L218.14,628.95 L218.28,628.43 L218.43,628.21 L218.58,628.43 L218.73,628.51 L218.88,628.48 L219.02,629.24 L219.17,627.84 L219.32,628.56 L219.47,627.85 L219.61,629.22 L219.76,629.06 L219.91,628.75 L220.06,627.65 L220.21,628.09 L220.35,628.67 L220.5,627.63 L220.65,628.86 L220.8,627.76 L220.94,628.07 L221.09,627.55 L221.24,627.58 L221.39,628.39 L221.53,627.39 L221.68,628.53 L221.83,628.64 L221.98,627.76 L222.13,627.88 L222.27,628.22 L222.42,627.98 L222.57,628.66 L222.72,627.9 L222.86,628.18 L223.01,628.65 L223.16,627.67 L223.31,629.08 L223.46,628.48 L223.6,628.64 L223.75,628.71 L223.9,627.41 L224.05,628.17 L224.19,628.34 L224.34,628.48 L224.49,628.09 L224.64,629.07 L224.79,627.94 L224.93,628.24 L225.08,629.22 L225.23,628.21 L225.38,628.34 L225.52,627.5 L225.67,628.47 L225.82,628.5 L225.97,628.72 L226.11,628.52 L226.26,628.8 L226.41,628.52 L226.56,628.12 L226.71,627.69 L226.85,628.63 L227,628.49 L227.15,628.44 L227.3,627.59 L227.44,628.28 L227.59,628.31 L227.74,627.88 L227.89,629.08 L228.04,628.57 L228.18,628.87 L228.33,628.26 L228.48,628.56 L228.63,629.56 L228.77,628.44 L228.92,628.59 L229.07,628.64 L229.22,628.64 L229.37,628.39 L229.51,628.32 L229.66,628.46 L229.81,628.69 L229.96,628 L230.1,628.61 L230.25,627.94 L230.4,628.98 L230.55,627.64 L230.69,628.88 L230.84,628.83 L230.99,627.99 L231.14,628.46 L231.29,627.91 L231.43,627.88 L231.58,628.08 L231.73,628.82 L231.88,629.21 L232.02,628.76 L232.17,628.67 L232.32,628.37 L232.47,628.08 L232.62,628.33 L232.76,628.54 L232.91,628.33 L233.06,628.11 L233.21,628.16 L233.35,628.38 L233.5,627.95 L233.65,628.94 L233.8,628.55 L233.95,629 L234.09,628.55 L234.24,628.17 L234.39,627.7 L234.54,628.3 L234.68,628.14 L234.83,628.53 L234.98,628.9 L235.13,628.01 L235.28,628.5 L235.42,628.09 L235.57,629.24 L235.72,627.51 L235.87,627.96 L236.01,628.39 L236.16,628.45 L236.31,628.51 L236.46,628.02 L236.6,628.07 L236.75,628.69 L236.9,629.47 L237.05,628.51 L237.2,628.35 L237.34,627.99 L237.49,629.28 L237.64,628.89 L237.79,628.68 L237.93,629.28 L238.08,628.47 L238.23,629.01 L238.38,629.23 L238.53,628.61 L238.67,627.97 L238.82,628.86 L238.97,627.73 L239.12,628.27 L239.26,628.81 L239.41,628.5 L239.56,627.84 L239.71,628.03 L239.86,628.47 L240,628.27 L240.15,627.12 L240.3,628.03 L240.45,629.17 L240.59,628.21 L240.74,628.89 L240.89,628.44 L241.04,627.86 L241.18,628.01 L241.33,628.23 L241.48,628.39 L241.63,628.48 L241.78,628.01 L241.92,628.34 L242.07,628.24 L242.22,628.17 L242.37,628.65 L242.51,628.27 L242.66,628.21 L242.81,628.03 L242.96,628.5 L243.11,628.64 L243.25,628.97 L243.4,629.04 L243.55,628.52 L243.7,628.16 L243.84,628.34 L243.99,627.97 L244.14,628.36 L244.29,628.3 L244.44,627.93 L244.58,628.78 L244.73,628.29 L244.88,628.36 L245.03,628.66 L245.17,628.82 L245.32,628.03 L245.47,628.75 L245.62,628.42 L245.77,628.82 L245.8,629 L246.3,621.5 L246.8,634.6 L247.3,629 L247.39,628.43 L247.54,628.33 L247.69,628.4 L247.83,628.54 L247.98,628.39 L248.13,627.93 L248.28,628.76 L248.42,627.81 L248.57,629.07 L248.72,629.04 L248.87,629.59 L249.02,628.46 L249.16,627.95 L249.31,627.92 L249.46,627.91 L249.61,628.43 L249.75,628.06 L249.9,628.7 L250.05,628.28 L250.2,628.14 L250.35,627.61 L250.49,628.94 L250.64,628.49 L250.79,628.03 L250.94,628.44 L251.08,627.39 L251.23,627.94 L251.38,628.54 L251.53,627.77 L251.67,627.7 L251.82,628.42 L251.97,628.2 L252.12,628.96 L252.27,628.57 L252.41,628.65 L252.56,628.09 L252.71,628.31 L252.86,628.36 L253,627.23 L253.15,628.1 L253.3,628.74 L253.45,628.96 L253.6,628.53 L253.74,629.08 L253.89,628.75 L254.04,628.98 L254.19,627.62 L254.33,628.66 L254.48,628.31 L254.63,629.21 L254.78,628.84 L254.93,628.7 L255.07,628.16 L255.22,629.1 L255.37,628.28 L255.52,628.86 L255.66,628.81 L255.81,628.71 L255.96,628.36 L256.11,627.52 L256.25,629.36 L256.4,628.89 L256.55,628.13 L256.7,628.7 L256.85,628.33 L256.99,628.64 L257.14,628.24 L257.29,628.37 L257.44,628.95 L257.58,629.06 L257.73,628.97 L257.88,627.68 L258.03,628.23 L258.18,628.18 L258.32,628.77 L258.47,627.96 L258.62,628.38 L258.77,628.94 L258.91,628.28 L259.06,628.58 L259.21,628.56 L259.36,628.2 L259.51,628.62 L259.65,628.71 L259.8,628.04 L259.95,627.79 L260.1,628.17 L260.24,628.28 L260.39,629.01 L260.54,628.14 L260.69,629.36 L260.84,628.02 L260.98,628.45 L261.13,628.41 L261.28,627.79 L261.43,627.75 L261.57,628.18 L261.72,628.78 L261.87,628.6 L262.02,628.64 L262.16,628.29 L262.31,628.51 L262.46,629.06 L262.61,627.54 L262.76,629.07 L262.9,628.77 L263.05,628.86 L263.2,629.11 L263.35,628.65 L263.49,629.08 L263.64,628.98 L263.79,627.9 L263.94,627.94 L264.09,628.73 L264.23,629.25 L264.38,628.99 L264.53,628.58 L264.68,629.02 L264.82,629.1 L264.97,628.04 L265.12,628.63 L265.27,628.14 L265.42,627.85 L265.56,629.05 L265.71,627.52 L265.86,628.87 L266.01,628.33 L266.15,628.42 L266.3,628.17 L266.45,627.34 L266.6,628.45 L266.74,628.02 L266.89,628.43 L267.04,628.84 L267.19,628.47 L267.34,627.93 L267.48,628.43 L267.63,628.4 L267.78,627.96 L267.93,628.58 L268.07,628.31 L268.22,628.6 L268.37,628.2 L268.52,628.43 L268.67,628.43 L268.81,627.26 L268.96,628.27 L269.11,627.56 L269.26,628.85 L269.4,627.78 L269.55,627.98 L269.7,628.82 L269.85,628.29 L270,628.09 L270.14,628.26 L270.29,628.54 L270.44,628.05 L270.59,628.65 L270.73,628.5 L270.88,628.16 L271.03,628.55 L271.18,627.35 L271.32,629.34 L271.47,628.25 L271.62,627.45 L271.77,628.06 L271.92,628.71 L272.06,628.02 L272.21,628.23 L272.36,627.93 L272.51,628.69 L272.65,628.49 L272.8,628.35 L272.95,627.93 L273.1,628.02 L273.25,628.11 L273.39,627.76 L273.54,628.33 L273.69,628.23 L273.84,627.75 L273.98,628.05 L274.13,628.29 L274.28,627.59 L274.43,628 L274.58,628.41 L274.72,628.43 L274.87,628.52 L275.02,628.49 L275.17,628.08 L275.31,627.74 L275.46,627.9 L275.61,628.14 L275.76,628.92 L275.91,627.86 L276.05,629.52 L276.2,628.75 L276.35,628.61 L276.5,627.98 L276.64,628.62 L276.79,628.45 L276.94,627.6 L277.09,628.22 L277.23,628.2 L277.38,629 L277.53,629.03 L277.68,628.97 L277.83,628.28 L277.97,628.6 L278.12,627.3 L278.27,628.16 L278.42,628.18 L278.56,628.24 L278.71,627.58 L278.86,627.52 L279.01,627.76 L279.16,627.76 L279.3,628.57 L279.45,628.13 L279.6,628.63 L279.75,628.35 L279.89,628.52 L280.04,628.4 L280.19,628.86 L280.34,629.51 L280.49,628.24 L280.63,628.27 L280.78,628.64 L280.93,628.29 L281.08,628.59 L281.22,628.61 L281.37,627.76 L281.52,627.98 L281.67,627.61 L281.81,628.15 L281.96,628.68 L282.11,628.36 L282.26,628.41 L282.41,627.78 L282.55,627.95 L282.7,628.18 L282.85,628.74 L283,628.45 L283.14,629.06 L283.29,628.49 L283.44,628.38 L283.59,628.36 L283.74,627.78 L283.88,628.49 L284.03,628.76 L284.18,628.38 L284.33,628.13 L284.47,628.06 L284.62,628.8 L284.77,628.35 L284.92,628.56 L285.07,628.53 L285.21,628.79 L285.36,628.2 L285.51,628.57 L285.66,628.46 L285.8,628.11 L285.95,628.23 L286.1,627.86 L286.25,628.41 L286.39,628.42 L286.54,628.28 L286.69,628.67 L286.84,628.02 L286.99,628.9 L287.13,628.61 L287.28,628.03 L287.43,628.32 L287.58,627.64 L287.72,628.96 L287.87,628.45 L288.02,628.31 L288.17,628.45 L288.32,628.51 L288.46,628.21 L288.61,628.42 L288.76,628.82 L288.91,627.99 L289.05,628.17 L289.2,628.74 L289.35,628.79 L289.5,628.22 L289.65,628.22 L289.79,628.04 L289.94,629.31 L290.09,628.27 L290.24,628.24 L290.38,628.21 L290.53,627.88 L290.68,628.25 L290.83,628.18 L290.98,628.68 L291.12,628.3 L291.27,628.45 L291.42,628.22 L291.57,628.43 L291.71,629.07 L291.86,628.87 L292.01,628.38 L292.16,628.25 L292.3,628.35 L292.45,628.26 L292.6,628.68 L292.75,628.41 L292.9,628.35 L293.04,627.87 L293.19,628.3 L293.34,628.31 L293.49,628.82 L293.63,628.82 L293.78,628.17 L293.93,628.17 L294.08,627.96 L294.23,628.06 L294.37,628.25 L294.52,628.3 L294.67,628.24 L294.82,628.24 L294.96,628.91 L295.11,628.55 L295.26,629.06 L295.41,628.3 L295.56,629 L295.7,627.67 L295.85,628.3 L296,628.32 L296.15,628.21 L296.29,628.43 L296.44,628.66 L296.59,627.74 L296.74,628.41 L296.88,628.23 L297.03,628.81 L297.18,628.87 L297.33,628.63 L297.48,628.13 L297.62,627.86 L297.77,628.08 L297.92,629.11 L298.07,627.39 L298.21,628 L298.36,628.56 L298.51,627.87 L298.66,628.73 L298.81,628.94 L298.95,628.13 L299.1,627.91 L299.25,628.76 L299.4,627.75 L299.54,628.63 L299.69,628.22 L299.84,628.92 L299.99,628.84 L300.14,628.41 L300.28,628.16 L300.43,628.79 L300.58,627.95 L300.73,628.79 L300.87,627.68 L301.02,628.27 L301.17,628.25 L301.32,628.28 L301.47,628.52 L301.61,628.65 L301.76,627.99 L301.91,628.55 L302.06,628.76 L302.2,628.99 L302.35,627.9 L302.5,628.51 L302.65,629.11 L302.79,628.12 L302.94,628.21 L303.09,628.73 L303.24,628.61 L303.39,627.71 L303.53,628.49 L303.68,627.85 L303.83,628.6 L303.98,628.3 L304.12,628.32 L304.27,628.57 L304.42,629.06 L304.57,628.96 L304.72,627.19 L304.86,629.1 L305.01,627.97 L305.16,628.55 L305.31,628.38 L305.45,628.27 L305.6,629.36 L305.75,628.77 L305.9,629.45 L306.05,627.79 L306.19,627.4 L306.34,628.56 L306.49,628.51 L306.64,628.55 L306.78,628.42 L306.93,628.25 L307.08,627.87 L307.23,628.95 L307.37,628.86 L307.52,628.62 L307.67,628.66 L307.82,628.41 L307.97,628.29 L308.11,629.36 L308.26,628.74 L308.41,628.95 L308.56,628.74 L308.7,628.3 L308.85,628.15 L309,628.44 L309.15,628.38 L309.3,628.12 L309.44,628.51 L309.59,627.3 L309.74,628.78 L309.89,628.88 L310.03,628.24 L310.18,628.32 L310.33,628.53 L310.48,628.03 L310.63,628.49 L310.77,628.65 L310.92,628.22 L311.07,627.97 L311.22,628.62 L311.36,628.46 L311.51,627.88 L311.66,628.84 L311.81,627.79 L311.95,629.21 L312.1,628.62 L312.25,628.93 L312.4,628.03 L312.55,628.42 L312.69,628.25 L312.84,627.98 L312.99,628.77 L313.14,628.46 L313.28,627.94 L313.43,628.1 L313.58,628.37 L313.73,628.28 L313.88,629.62 L314.02,628.47 L314.17,628.43 L314.32,628.13 L314.47,628.75 L314.61,628.33 L314.76,628.72 L314.91,628.26 L315.06,627.27 L315.21,628.41 L315.35,628.04 L315.5,628.16 L315.65,628.03 L315.8,628.29 L315.94,627.98 L316.09,628.43 L316.24,628.73 L316.39,628.72 L316.54,626.86 L316.68,628.63 L316.83,628.13 L316.98,628.33 L317.13,627.55 L317.27,628.39 L317.42,627.55 L317.57,628.2 L317.72,628.4 L317.86,629.04 L318.01,628.35 L318.16,628.77 L318.31,628.23 L318.46,628.36 L318.6,627.54 L318.75,628.69 L318.9,628.58 L319.05,628.57 L319.19,628.32 L319.34,628.63 L319.49,628.84 L319.64,627.92 L319.79,627.94 L319.93,628.38 L320.08,627.85 L320.23,628.93 L320.38,628.14 L320.52,627.76 L320.67,628.84 L320.82,628.44 L320.97,628.57 L321.12,628.05 L321.26,628.92 L321.41,627.64 L321.56,627.89 L321.71,628.49 L321.85,628.45 L322,628.02 L322.15,628.36 L322.3,628.71 L322.44,628.35 L322.59,627.93 L322.74,628.07 L322.89,629.02 L323.04,628.62 L323.18,628.43 L323.33,628.42 L323.48,628.92 L323.63,628.52 L323.77,628.31 L323.92,628.24 L324.07,629.23 L324.22,627.91 L324.37,628.43 L324.51,628.52 L324.66,628.26 L324.81,629.06 L324.96,628.05 L325.1,628.19 L325.25,628.26 L325.4,628.55 L325.55,628.32 L325.7,629.06 L325.84,628.9 L325.99,628.26 L326.14,628.72 L326.29,627.72 L326.43,628.66 L326.58,628.56 L326.73,628.64 L326.88,627.21 L327.02,628.1 L327.17,627.96 L327.32,628.95 L327.47,628.35 L327.62,628.41 L327.76,628.02 L327.91,628 L328.06,628.58 L328.21,628.08 L328.35,628.1 L328.5,629.18 L328.65,627.94 L328.8,629.12 L328.95,627.97 L329.09,628.19 L329.24,628.15 L329.39,628.26 L329.54,628.42 L329.68,628.22 L329.83,628.56 L329.98,628.47 L330.13,628.14 L330.28,627.93 L330.42,628.08 L330.57,627.56 L330.72,627.95 L330.87,628.55 L331.01,628.6 L331.16,628.59 L331.31,627.25 L331.46,627.89 L331.61,629.31 L331.75,627.94 L331.9,628.36 L332.05,628.4 L332.2,629.02 L332.34,628.08 L332.49,628.51 L332.64,627.7 L332.79,628.7 L332.93,628.81 L333.08,628.04 L333.23,628.7 L333.38,628.86 L333.53,628.24 L333.67,627.75 L333.82,628.48 L333.97,628.11 L334.12,629.28 L334.26,628.64 L334.41,628.7 L334.56,628.29 L334.71,627.68 L334.86,628.34 L335,628.28 L335.15,628.41 L335.3,627.99 L335.45,628.28 L335.59,628.14 L335.74,628.67 L335.89,628.95 L336.04,628.27 L336.19,628.74 L336.33,628.54 L336.48,628.19 L336.63,628.64 L336.78,629.03 L336.92,628.93 L337.07,629.2 L337.22,628.39 L337.37,628.07 L337.51,629.11 L337.66,629.28 L337.81,628.47 L337.96,628.87 L338.11,629.03 L338.25,628.28 L338.4,627.85 L338.55,628.5 L338.7,628.56 L338.84,628.48 L338.99,627.71 L339.14,627.45 L339.29,628.74 L339.44,627.47 L339.58,628.41 L339.73,628.97 L339.88,628.2 L340.03,628.08 L340.17,628.49 L340.32,628.24 L340.47,628.41 L340.62,628.58 L340.77,628.52 L340.91,628.84 L341.06,628.43 L341.21,627.48 L341.36,629.06 L341.5,627.75 L341.65,629.23 L341.8,629.16 L341.95,628.05 L342.09,629.14 L342.24,628.38 L342.39,628.33 L342.54,628.2 L342.69,628.91 L342.83,628.52 L342.98,628.57 L343.13,628.25 L343.28,628.8 L343.42,628 L343.57,628.12 L343.72,627.92 L343.87,627.9 L344.02,628.81 L344.16,628.95 L344.31,628.35 L344.46,628.19 L344.61,627.43 L344.75,628.31 L344.9,627.54 L345.05,629.06 L345.2,628.67 L345.35,628.07 L345.49,628.27 L345.64,627.68 L345.79,628.56 L345.94,629.06 L346.08,628.52 L346.23,627.88 L346.38,627.82 L346.53,628.97 L346.68,628.46 L346.82,627.59 L346.97,628.51 L347.12,628.52 L347.27,628.79 L347.41,628.56 L347.56,627.69 L347.71,627.9 L347.86,627.91 L348,628.64 L348.15,629.44 L348.3,628.43 L348.45,628.6 L348.6,629.04 L348.74,628.19 L348.89,628.45 L349.04,628.38 L349.19,628.09 L349.33,628.38 L349.48,628.25 L349.63,628.79 L349.78,629.09 L349.93,627.99 L350.07,627.65 L350.22,628.52 L350.37,628.12 L350.52,628.59 L350.66,629.22 L350.81,628.2 L350.96,628.8 L351.11,628.01 L351.26,628.41 L351.4,628.18 L351.55,628.78 L351.7,627.76 L351.85,628.31 L351.99,628.4 L352.14,628.71 L352.29,628.25 L352.44,628.42 L352.58,628.64 L352.73,628.17 L352.88,628.17 L353.03,628.75 L353.18,629.53 L353.32,628.48 L353.47,629.1 L353.62,627.84 L353.77,628.9 L353.91,628.64 L354.06,627.81 L354.21,627.69 L354.36,628.38 L354.51,628.91 L354.65,627.78 L354.8,628.24 L354.95,628.26 L355.1,628.6 L355.24,627.82 L355.39,628 L355.54,628.39 L355.69,629.3 L355.84,627.37 L355.98,629.58 L356.13,628.13 L356.28,628.45 L356.43,628.51 L356.57,628.74 L356.72,628.75 L356.87,627.88 L357.02,628.27 L357.17,628.57 L357.31,627.79 L357.46,628.51 L357.61,628.66 L357.76,627.94 L357.9,627.87 L358.05,627.88 L358.2,629.18 L358.35,628.09 L358.49,628.21 L358.64,628.57 L358.79,628.85 L358.94,628.09 L359.09,628.86 L359.23,628.4 L359.38,628.76 L359.53,628.09 L359.68,628.43 L359.82,628.14 L359.97,627.94 L360.12,628.54 L360.27,628.4 L360.42,627.72 L360.56,628.07 L360.71,628.51 L360.86,629.46 L361.01,628.91 L361.15,627.52 L361.3,628.16 L361.45,628.77 L361.6,628.68 L361.75,628.94 L361.89,627.57 L362.04,628.1 L362.19,628.24 L362.34,628.1 L362.48,627.52 L362.63,628.81 L362.78,629.13 L362.93,629.3 L363.07,628.34 L363.22,627.94 L363.37,628.83 L363.52,628.99 L363.67,628.16 L363.81,628.98 L363.96,628.06 L364.11,628.23 L364.26,628.97 L364.4,629.35 L364.55,628.08 L364.7,628.06 L364.85,628.11 L365,628.25 L365.14,628.87 L365.29,628.36 L365.44,628.73 L365.59,628.04 L365.73,628.08 L365.88,628.41 L366.03,628.51 L366.18,627.94 L366.33,628.32 L366.47,628.53 L366.62,628.38 L366.77,627.99 L366.92,628.76 L367.06,628.68 L367.21,628.44 L367.36,628.77 L367.51,627.92 L367.65,628.68 L367.8,627.73 L367.95,628.42 L368.1,628.44 L368.25,628.28 L368.39,627.95 L368.54,628.06 L368.69,627.95 L368.84,628.41 L368.98,628.89 L369.13,627.96 L369.28,628.72 L369.43,628.52 L369.58,628.01 L369.72,628.42 L369.87,627.75 L370.02,627.61 L370.17,628.21 L370.31,628.32 L370.46,628.61 L370.61,628.69 L370.76,628.29 L370.91,628.9 L371.05,628.86 L371.2,627.85 L371.35,628.14 L371.5,628.68 L371.64,628.09 L371.79,627.78 L371.94,628.67 L372.09,628.94 L372.24,628.48 L372.38,628.61 L372.53,628.55 L372.68,628.19 L372.83,628.74 L372.97,628.4 L373.12,627.89 L373.27,628.12 L373.42,627.94 L373.56,627.93 L373.71,628.49 L373.86,628.03 L374.01,628.88 L374.16,628.47 L374.3,628.12 L374.45,628.81 L374.6,628.49 L374.75,629.28 L374.89,628.37 L375.04,627.75 L375.19,628.45 L375.34,628.09 L375.49,627.7 L375.63,628.09 L375.78,628.69 L375.93,626.92 L376.08,627.66 L376.22,628.76 L376.37,628.52 L376.52,627.94 L376.67,629.3 L376.82,628.27 L376.96,628.9 L377.11,629.24 L377.26,627.27 L377.41,628.69 L377.55,627.81 L377.7,628.2 L377.85,628.74 L378,629.33 L378.14,629.35 L378.29,629.37 L378.44,629.35 L378.59,629.27 L378.74,628.79 L378.88,628.7 L379.03,629.6 L379.18,629.17 L379.33,630.3 L379.47,630.11 L379.62,630.72 L379.77,630.24 L379.92,630.28 L380.07,630.58 L380.21,630.76 L380.36,629.75 L380.51,630.76 L380.66,630.46 L380.8,629.67 L380.95,630.14 L381.1,629.65 L381.25,629.7 L381.4,630.21 L381.54,630.25 L381.69,631.01 L381.84,630.75 L381.99,630.07 L382.13,630.09 L382.28,629.88 L382.43,630.46 L382.58,630.55 L382.72,630.21 L382.87,630.34 L383.02,630.78 L383.17,630.88 L383.32,630.42 L383.46,630.08 L383.61,630.27 L383.76,629.98 L383.91,630.89 L384.05,630.05 L384.2,629.89 L384.35,630.7 L384.5,629.53 L384.65,630.79 L384.79,629.76 L384.94,629.88 L385.09,630.35 L385.24,630.46 L385.38,630.6 L385.53,630.09 L385.68,629.84 L385.83,630.68 L385.98,630.75 L386.12,631.14 L386.27,630.46 L386.42,630.62 L386.57,630.1 L386.71,630.31 L386.86,630.35 L387.01,629.87 L387.16,630.85 L387.31,630.84 L387.45,629.89 L387.6,630.71 L387.75,629.81 L387.9,630.04 L388.04,630.4 L388.19,630.74 L388.34,630.19 L388.49,630.03 L388.63,630.14 L388.78,629.43 L388.93,629.24 L389.08,629.72 L389.23,630.54 L389.37,630.37 L389.52,630.4 L389.67,630.41 L389.82,630.65 L389.96,630.89 L390.11,630.55 L390.26,630.12 L390.41,630.97 L390.56,630.02 L390.7,630.02 L390.85,630.23 L391,630.3 L391.15,630.78 L391.29,630 L391.44,630.64 L391.59,629.28 L391.74,630.55 L391.89,630.62 L392.03,630.39 L392.18,630.57 L392.33,630.89 L392.48,630.32 L392.62,630.02 L392.77,630.31 L392.92,629.99 L393.07,630.53 L393.21,630.53 L393.36,629.62 L393.51,629.37 L393.66,629.61 L393.81,629.25 L393.95,630.06 L394.1,629.36 L394.25,629.3 L394.4,628.55 L394.54,629.4 L394.69,629.56 L394.84,629.14 L394.99,629.05 L395.14,629.09 L395.28,628.98 L395.43,628 L395.58,628.52 L395.73,628.83 L395.87,628.66 L396.02,629.12 L396.17,628.29 L396.32,628.31 L396.47,628.13 L396.61,628.59 L396.76,628.43 L396.91,628.41 L397.06,628.27 L397.2,629.12 L397.35,628.39 L397.5,628.75 L397.65,628.86 L397.8,628.6 L397.94,629.19 L398.09,628.06 L398.24,628.26 L398.39,628.29 L398.53,628.6 L398.68,627.85 L398.83,628.98 L398.98,628.81 L399.12,627.9 L399.27,628.78 L399.42,627.99 L399.57,628.23 L399.72,628.59 L399.86,628.72 L400.01,628.68 L400.16,629.35 L400.31,629 L400.45,627.72 L400.6,628.85 L400.75,628.5 L400.9,628.35 L401.05,627.97 L401.19,628.89 L401.34,628.21 L401.49,627.77 L401.64,627.95 L401.78,628.26 L401.93,628.93 L402.08,628.72 L402.23,628.64 L402.38,628.1 L402.52,627.88 L402.67,628.04 L402.82,628.56 L402.97,628.54 L403.11,628.12 L403.26,628.91 L403.41,628.71 L403.56,628.15 L403.7,627.95 L403.85,628.83 L404,628.5 L404.15,628.38 L404.3,628.07 L404.44,628.92 L404.59,627.76 L404.74,627.5 L404.89,627.79 L405.03,628.44 L405.18,628.16 L405.33,628.74 L405.48,627.27 L405.63,628.34 L405.77,627.95 L405.92,629.07 L406.07,628.84 L406.22,628.09 L406.36,628.21 L406.51,629.02 L406.66,628.52 L406.81,628.96 L406.96,628.1 L407.1,627.31 L407.25,627.97 L407.4,628.21 L407.55,627.96 L407.69,627.7 L407.84,627.6 L407.99,628.44 L408.14,628.44 L408.28,628.48 L408.43,628.28 L408.58,629.14 L408.73,627.67 L408.88,628.37 L409.02,628.73 L409.17,628.51 L409.32,628.44 L409.47,628.46 L409.61,628.6 L409.76,627.83 L409.91,628.57 L410.06,627.89 L410.21,628.74 L410.35,628.17 L410.5,627.38 L410.65,628.35 L410.8,627.81 L410.94,628.19 L411.09,628.16 L411.24,627.77 L411.39,628.92 L411.54,627.87 L411.68,628.74 L411.83,628.68 L411.98,628.27 L412.13,627.94 L412.27,628.08 L412.42,628.54 L412.57,628.64 L412.72,628.15 L412.87,627.79 L413.01,628.53 L413.16,627.57 L413.31,628.35 L413.46,628.17 L413.6,629.15 L413.75,628.3 L413.9,628.31 L414.05,627.97 L414.19,629.61 L414.34,628.98 L414.49,627.99 L414.64,628.04 L414.79,628.48 L414.93,627.95 L415.08,628.81 L415.23,628.32 L415.38,628.42 L415.52,627.67 L415.67,628.9 L415.82,628.97 L415.97,628.49 L416.12,629.01 L416.26,628.34 L416.41,627.35 L416.56,628.99 L416.71,627.81 L416.85,628.04 L417,628.37 L417.15,628.24 L417.3,627.63 L417.45,628.33 L417.59,628.58 L417.74,627.78 L417.89,628.28 L418.04,627.98 L418.18,627.41 L418.33,628.78 L418.48,628.55 L418.63,628.99 L418.77,628.34 L418.92,629.11 L419.07,627.86 L419.22,628.15 L419.37,628.63 L419.51,628.44 L419.66,628.12 L419.81,628.37 L419.96,628.49 L420.1,627.97 L420.25,627.91 L420.4,628.58 L420.55,628.32 L420.7,628.78 L420.84,628.63 L420.99,628.81 L421.14,627.69 L421.29,628.65 L421.43,627.85 L421.58,628.42 L421.73,628.36 L421.88,627.83 L422.03,628.32 L422.17,629.11 L422.32,627.1 L422.47,628.79 L422.62,628.59 L422.76,628.95 L422.91,629.12 L423.06,627.29 L423.21,628.32 L423.35,628.57 L423.5,628.08 L423.65,627.81 L423.8,628 L423.95,628.76 L424.09,628.2 L424.24,629.19 L424.39,627.62 L424.54,629.04 L424.68,627.89 L424.83,629.02 L424.98,628.27 L425.13,628.27 L425.28,628.28 L425.42,628.14 L425.57,628.62 L425.72,628.65 L425.87,628.19 L426.01,627.51 L426.16,628.15 L426.31,628.55 L426.46,628.56 L426.61,628.84 L426.75,628.41 L426.9,627.72 L427.05,628.3 L427.2,628.02 L427.34,628.15 L427.49,628.27 L427.64,627.87 L427.79,628.23 L427.94,627.38 L428.08,628.18 L428.23,627.88 L428.38,628.21 L428.53,628.33 L428.67,627.5 L428.82,627.91 L428.97,628.11 L429.12,629.38 L429.26,629.01 L429.41,628.67 L429.56,628.36 L429.71,627.75 L429.86,627.91 L430,629.13 L430.15,628.61 L430.3,628.06 L430.45,628.65 L430.59,628.42 L430.74,628.58 L430.89,628.52 L431.04,627.97 L431.19,628.43 L431.33,628.84 L431.48,629.32 L431.63,628.2 L431.78,628.15 L431.92,628.86 L432.07,628.57 L432.22,628.1 L432.37,628.33 L432.52,628.66 L432.66,628 L432.81,628.46 L432.96,628.42 L433.11,628.35 L433.25,628.33 L433.4,628.66 L433.55,628.69 L433.7,628.09 L433.84,628.72 L433.99,628.55 L434.14,628.43 L434.29,627.87 L434.44,628.38 L434.58,628.66 L434.73,628.53 L434.88,628.57 L435.03,628.27 L435.17,628.35 L435.32,628.31 L435.47,628.39 L435.62,628.4 L435.77,627.98 L435.91,628.23 L436.06,628.79 L436.21,628.35 L436.36,628.29 L436.5,627.91 L436.65,628.47 L436.8,628.23 L436.95,627.63 L437.1,628.68 L437.24,629.34 L437.39,628.51 L437.54,628.03 L437.69,628.63 L437.83,627.95 L437.98,629.52 L438.13,628.6 L438.28,628.44 L438.42,628.29 L438.57,627.82 L438.72,628.23 L438.87,628.19 L439.02,628.73 L439.16,628.24 L439.31,628.59 L439.46,628.84 L439.61,628.22 L439.75,627.93 L439.9,628.11 L440.05,627.88 L440.2,628.12 L440.35,628.8 L440.49,627.98 L440.64,628.5 L440.79,628.36 L440.94,628.09 L441.08,628.65 L441.23,629.09 L441.38,628.01 L441.53,628.12 L441.68,628.05 L441.82,629.07 L441.97,629.42 L442.12,628.13 L442.27,627.92 L442.41,628.61 L442.56,628.74 L442.71,628.19 L442.86,628.64 L443.01,628.67 L443.15,627.35 L443.3,628.79 L443.45,628.46 L443.6,628.21 L443.74,627.65 L443.89,628.36 L444.04,628.28 L444.19,629.06 L444.33,628.4 L444.48,628.76 L444.63,628.19 L444.78,628.91 L444.93,628.27 L445.07,628.35 L445.22,628.33 L445.37,628.26 L445.52,628.43 L445.66,628.15 L445.81,628.22 L445.96,628.1 L446.11,628.08 L446.26,628.69 L446.4,627.83 L446.55,629.1 L446.7,629.66 L446.85,627.95 L446.99,628.37 L447.14,628.64 L447.29,628.69 L447.44,628.31 L447.59,628.14 L447.73,628.18 L447.88,628 L448.03,628.84 L448.18,628.25 L448.32,627.58 L448.47,628.33 L448.62,628.2 L448.77,627.79 L448.91,628.76 L449.06,628.27 L449.21,629.17 L449.36,627.9 L449.51,628.17 L449.65,628.23 L449.8,628.12 L449.95,627.93 L450.1,628.69 L450.24,628.02 L450.39,628.43 L450.54,628.58 L450.69,628.73 L450.84,628.61 L450.98,627.7 L451.13,628.75 L451.28,628.08 L451.43,628.26 L451.57,628.8 L451.72,627.5 L451.87,628.5 L452.02,627.09 L452.17,628.04 L452.31,627.67 L452.46,628.63 L452.61,628.54 L452.76,628.1 L452.9,628.26 L453.05,628.3 L453.2,628.47 L453.35,628.92 L453.5,629.11 L453.64,629.2 L453.79,628.97 L453.94,628.31 L454.09,628.74 L454.23,628.96 L454.38,628.37 L454.53,627.7 L454.68,628.64 L454.82,627.93 L454.97,628.57 L455.12,628.38 L455.27,628.98 L455.42,628.23 L455.56,627.75 L455.71,628.8 L455.86,628.64 L456.01,627.96 L456.15,629.32 L456.3,628.13 L456.45,627.96 L456.6,628.07 L456.75,628.09 L456.89,628.18 L457.04,628.33 L457.19,628.13 L457.34,628.79 L457.48,628.35 L457.63,628.04 L457.78,628.41 L457.93,628.02 L458.08,628.51 L458.22,628.25 L458.37,628.36 L458.52,628.08 L458.67,629.31 L458.81,628.86 L458.96,628.04 L459.11,627.91 L459.26,628.06 L459.4,628.77 L459.55,628 L459.7,627.92 L459.85,628.72 L460,628.05 L460.14,627.55 L460.29,628.92 L460.44,628.01 L460.59,628.13 L460.73,628.7 L460.88,627.95 L461.03,628.06 L461.18,627.75 L461.33,628.47 L461.47,627.83 L461.62,628.38 L461.77,628.8 L461.92,628.06 L462.06,628.33 L462.21,627.9 L462.36,628.84 L462.51,628.66 L462.66,628.54 L462.8,628.86 L462.95,627.11 L463.1,628.91 L463.25,628.25 L463.39,628.39 L463.54,628.33 L463.69,628.48 L463.84,628.76 L463.98,627.37 L464.13,627.37 L464.28,628.35 L464.43,627.85 L464.58,627.69 L464.72,627.69 L464.87,627.96 L465.02,627.94 L465.17,627.49 L465.31,627.7 L465.46,628.24 L465.61,628.61 L465.76,628.21 L465.91,628.68 L466.05,628.53 L466.2,628.41 L466.35,629.24 L466.5,628.21 L466.64,628.39 L466.79,628.16 L466.94,629.08 L467.09,629.22 L467.24,629 L467.38,628.37 L467.53,628.23 L467.68,627.78 L467.83,628.6 L467.97,628.81 L468.12,628.2 L468.27,628.15 L468.42,628.37 L468.57,628.79 L468.71,628.56 L468.86,628.59 L469.01,628.03 L469.16,628.32 L469.3,628.37 L469.45,628.27 L469.6,628.06 L469.75,628.58 L469.89,628.18 L470.04,629.03 L470.19,628.8 L470.34,628.54 L470.49,627.92 L470.63,627.8 L470.78,628.7 L470.93,628.11 L471.08,628.52 L471.22,628.6 L471.37,628.47 L471.52,628.19 L471.67,628.66 L471.82,628.01 L471.96,627.9 L472.11,629.04 L472.26,628.2 L472.41,629.01 L472.55,629.13 L472.7,627.51 L472.85,627.99 L473,628.93 L473.15,627.9 L473.29,627.87 L473.44,628.36 L473.59,628.14 L473.74,627.44 L473.88,628.04 L474.03,628.04 L474.18,628.58 L474.33,628.5 L474.47,628.74 L474.62,628.33 L474.77,627.14 L474.92,627.97 L475.07,628.28 L475.21,628.27 L475.36,629.03 L475.51,628.51 L475.66,627.62 L475.8,627.79 L475.95,628.62 L476.1,628.07 L476.25,628.63 L476.4,628.29 L476.54,628.45 L476.69,628.44 L476.84,627.77 L476.99,628.61 L477.13,628.62 L477.28,627.98 L477.43,628 L477.58,627.85 L477.73,628.42 L477.87,628.31 L478.02,628.45 L478.17,628.12 L478.32,628.67 L478.46,629.04 L478.61,628.74 L478.76,629.06 L478.91,627.99 L479.05,628.27 L479.2,628.54 L479.35,628.6 L479.5,627.75 L479.65,628.78 L479.79,628.19 L479.94,629.07 L480.09,627.75 L480.24,628.9 L480.38,628.26 L480.53,628.22 L480.68,629.37 L480.83,628.74 L480.98,628.83 L481.12,628 L481.27,628.78 L481.42,627.78 L481.57,627.67 L481.71,628.56 L481.86,627.83 L482.01,629.09 L482.16,628.4 L482.31,628.18 L482.45,628.48 L482.6,628.31 L482.75,627.82 L482.9,628.92 L483.04,628.2 L483.19,628.33 L483.34,628.58 L483.49,628.21 L483.64,628.59 L483.78,629.27 L483.93,628.5 L484.08,628.6 L484.23,628.28 L484.37,627.93 L484.52,628.04 L484.67,628.5 L484.82,628.97 L484.96,628.47 L485.11,628.57 L485.26,627.77 L485.41,627.96 L485.56,627.95 L485.7,628.97 L485.85,628.08 L486,628.08 L486.15,628.53 L486.29,628.73 L486.44,627.98 L486.59,628.36 L486.74,627.7 L486.89,628.31 L487.03,628.05 L487.18,628.38 L487.33,628.14 L487.48,628.7 L487.62,629.03 L487.77,628.61 L487.92,628.19 L488.07,628.1 L488.22,628.91 L488.36,628.3 L488.51,628.65 L488.66,628.71 L488.81,628.17 L488.95,628.68 L489.1,628.62 L489.25,628.29 L489.4,628.39 L489.54,628.17 L489.69,628.7 L489.84,628.21 L489.99,628.63 L490.14,628.27 L490.28,628.59 L490.43,627.89 L490.58,627.93 L490.73,628.33 L490.87,628.97 L491.02,628 L491.17,627.49 L491.32,628.55 L491.47,628.44 L491.61,628.39 L491.76,628.09 L491.91,627.95 L492.06,627.64 L492.2,628.35 L492.35,628.59 L492.5,628.84 L492.65,628.66 L492.8,628.96 L492.94,628.58 L493.09,628.87 L493.24,628.62 L493.39,628.44 L493.53,627.86 L493.68,628.77 L493.83,628.89 L493.98,629.29 L494.12,628.8 L494.27,628.01 L494.42,629.04 L494.57,628.6 L494.72,628.24 L494.86,627.92 L495.01,628.12 L495.16,628.47 L495.31,628.91 L495.45,627.81 L495.6,628.56 L495.75,627.39 L495.9,628.79 L496.05,628.18 L496.19,627.77 L496.34,628.03 L496.49,628.21 L496.64,629.86 L496.78,628.62 L496.93,628.44 L497.08,628.76 L497.23,628.91 L497.38,628.28 L497.52,628.49 L497.67,628.78 L497.82,628.42 L497.97,627.96 L498.11,628.89 L498.26,628.28 L498.41,629.35 L498.56,627.62 L498.71,629.18 L498.85,628.32 L499,628.96 L499.15,627.95 L499.3,627.92 L499.44,628.5 L499.59,628.35 L499.74,627.92 L499.89,628.99 L500.03,627.85 L500.18,628.35 L500.33,628.52 L500.48,628.49 L500.63,628.88 L500.77,627.41 L500.92,629.01 L501.07,628.75 L501.22,629.27 L501.36,628.08 L501.51,628.44 L501.66,627.97 L501.81,628.21 L501.96,628.57 L502.1,628.42 L502.25,628.53 L502.4,628.29 L502.55,628.2 L502.69,628.45 L502.84,628.4 L502.99,628.22 L503.14,628.51 L503.29,628.55 L503.43,628.56 L503.58,628.58 L503.73,628.45 L503.88,628.36 L504.02,628.52 L504.17,628.81 L504.32,628.15 L504.47,628.84 L504.61,628.04 L504.76,628.56 L504.91,628.45 L505.06,629.38 L505.21,628.74 L505.35,628.17 L505.5,628.15 L505.65,628.31 L505.8,628.63 L505.94,629.44 L506.09,629.07 L506.24,628.79 L506.39,628.83 L506.54,628.29 L506.68,628.62 L506.83,628.91 L506.98,628.92 L507.13,628.6 L507.27,627.86 L507.42,628.09 L507.57,628.08 L507.72,628.66 L507.87,628.89 L508.01,628.46 L508.16,628.18 L508.31,628.45 L508.46,627.92 L508.6,628.59 L508.75,628.88 L508.9,628.37 L509.05,628.3 L509.2,628.65 L509.34,628.09 L509.49,628.44 L509.64,628.78 L509.79,628.56 L509.93,629.23 L510.08,627.74 L510.23,627.76 L510.38,628.38 L510.52,627.71 L510.67,628.59 L510.82,628.27 L510.97,629.14 L511.12,627.67 L511.26,628.31 L511.41,628.56 L511.56,628.53 L511.71,628.73 L511.85,628.81 L512,628.78 L512.15,627.98 L512.3,627.84 L512.45,628.89 L512.59,628.4 L512.74,628.05 L512.89,628.1 L513.04,628.78 L513.18,628.35 L513.33,628 L513.48,629.22 L513.63,628.38 L513.78,629.4 L513.92,628.47 L514.07,628.37 L514.22,627.87 L514.37,627.5 L514.51,627.65 L514.66,628.09 L514.81,628.21 L514.96,628.84 L515.1,628.21 L515.25,627.79 L515.4,628.21 L515.55,628.68 L515.7,628.54 L515.84,628.29 L515.99,628.32 L516.14,628.51 L516.29,628.34 L516.43,627.79 L516.58,628.41 L516.73,628.56 L516.88,628.65 L517.03,629.04 L517.17,628.29 L517.32,628.03 L517.47,628.07 L517.62,628.89 L517.76,628.84 L517.91,628.74 L518.06,628.86 L518.21,628.37 L518.36,628.29 L518.5,628.46 L518.65,629.14 L518.8,628.06 L518.95,629.23 L519.09,627.55 L519.24,628.83 L519.39,628.06 L519.54,628.87 L519.68,628.89 L519.83,627.41 L519.98,628.77 L520.13,628.4 L520.28,627.96 L520.42,628.16 L520.57,628.36 L520.72,629.11 L520.87,628.35 L521.01,628.11 L521.16,628.63 L521.31,628.15 L521.46,628.98 L521.61,628.56 L521.75,628.08 L521.9,627.82 L522.05,628.48 L522.2,628.91 L522.34,628.37 L522.49,628.95 L522.64,628.03 L522.79,627.84 L522.94,628.44 L523.08,628.21 L523.23,628.01 L523.38,627.91 L523.53,629.16 L523.67,628.62 L523.82,627.52 L523.97,629 L524.12,628.18 L524.27,628.22 L524.41,629.07 L524.56,628.07 L524.71,628.37 L524.86,628.25 L525,628.23 L525.15,629.03 L525.3,629 L525.45,630.26 L525.59,629.62 L525.74,630.11 L525.89,631.27 L526.04,632.07 L526.19,631.59 L526.33,632.25 L526.48,633.18 L526.63,632.3 L526.78,634.02 L526.92,634.4 L527.07,634.08 L527.22,634.57 L527.37,634.4 L527.52,635 L527.66,635.36 L527.81,635.67 L527.96,636.35 L528.11,636.74 L528.25,637 L528.4,638.61 L528.55,638.52 L528.7,639.12 L528.85,638.57 L528.99,639.47 L529.14,639.49 L529.29,639.95 L529.44,641.14 L529.58,641.41 L529.73,641.69 L529.88,642.02 L530.03,642.24 L530.17,642.49 L530.32,642.97 L530.47,642.96 L530.62,643.88 L530.77,644.13 L530.91,643.46 L531.06,644.54 L531.21,645.26 L531.36,645.75 L531.5,645.86 L531.65,647 L531.8,646.73 L531.95,647.53 L532.1,647.7 L532.24,648.07 L532.39,648.78 L532.54,648.04 L532.69,649.4 L532.83,649.27 L532.98,648.99 L533.13,650.29 L533.28,650.12 L533.43,650.66 L533.57,651.08 L533.72,651.74 L533.87,651.81 L534.02,651.85 L534.16,653.05 L534.31,652.74 L534.46,653.56 L534.61,653.25 L534.75,655.26 L534.9,654.67 L535.05,655.91 L535.2,655.11 L535.35,656.39 L535.49,656.66 L535.64,656.19 L535.79,656.62 L535.94,657.33 L536.08,658.03 L536.23,657.67 L536.38,658.08 L536.53,658.57 L536.68,659.62 L536.82,660.48 L536.97,660.35 L537.12,660.75 L537.27,660.74 L537.41,661.34 L537.56,660.68 L537.71,662.21 L537.86,662.48 L538.01,662.88 L538.15,663.61 L538.3,664.14 L538.45,663.64 L538.6,663.97 L538.74,664.36 L538.89,664.8 L539.04,666.12 L539.19,666.21 L539.34,667.13 L539.48,667.64 L539.63,666.82 L539.78,667.34 L539.93,667.98 L540.07,668.1 L540.22,668.78 L540.37,668.85 L540.52,669.35 L540.66,670 L540.81,670.51 L540.96,669.5 L541.11,670.96 L541.26,671.81 L541.4,671.79 L541.55,672.44 L541.7,672.33 L541.85,672.8 L541.99,672.62 L542.14,673.82 L542.29,673.66 L542.44,674.99 L542.59,674.83 L542.73,675.54 L542.88,675.18 L543.03,677.08 L543.18,676.72 L543.32,677.21 L543.47,677.02 L543.62,678.14 L543.77,678.13 L543.92,678.49 L544.06,679.26 L544.21,678.94 L544.36,679.27 L544.51,679.77 L544.65,680.49 L544.8,681.39 L544.95,682.09 L545.1,682.19 L545.24,682.16 L545.39,681.87 L545.54,683.4 L545.69,682.96 L545.84,683.33 L545.98,684.17 L546.13,685.03 L546.28,684.38 L546.43,685.7 L546.57,685.77 L546.72,685.08 L546.87,685.48 L547.02,686.59 L547.17,686.71 L547.31,687.6 L547.46,688.25 L547.61,687.59 L547.76,688.77 L547.9,689.23 L548.05,689.34 L548.2,690 L548.35,690.02 L548.5,690.86 L548.64,690.97 L548.79,691.45 L548.94,691.92 L549.09,692.31 L549.23,692.45 L549.38,693 L549.53,693.13 L549.68,693.78 L549.82,694.27 L549.97,694.15 L550.12,695.39 L550.27,694.87 L550.42,696 L550.56,695.87 L550.71,695.94 L550.86,696.92 L551.01,697.81 L551.15,697.91 L551.3,697.39 L551.45,697.75 L551.6,698.43 L551.75,699.15 L551.89,699.72 L552.04,699.4 L552.19,699.99 L552.34,700.65 L552.48,701.27 L552.63,702.47 L552.78,702.51 L552.93,702.26 L553.08,702.67 L553.22,702.8 L553.37,703.3 L553.52,703.31 L553.67,704.12 L553.81,704.26 L553.96,705.1 L554.11,705.2 L554.26,705.86 L554.41,706.33 L554.55,706.39 L554.7,707.05 L554.85,706.21 L555,707.56 L555.14,708.37 L555.29,708.65 L555.44,708.08 L555.59,708.26 L555.73,709.91 L555.88,710.44 L556.03,709.8 L556.18,710.25 L556.33,711.93 L556.47,711.42 L556.62,711.66 L556.77,712.84 L556.92,713.91 L557.06,713.99 L557.21,713.25 L557.36,713.24 L557.51,713.45 L557.66,711.81 L557.8,711.73 L557.95,711.46 L558.1,711.32 L558.25,711.93 L558.39,711.04 L558.54,711.26 L558.69,710.59 L558.84,710.06 L558.99,709.95 L559.13,711.24 L559.28,711.17 L559.43,710.19 L559.58,710.84 L559.72,712.02 L559.87,711.53 L560.02,712.87 L560.17,712.03 L560.31,712.55 L560.46,712.37 L560.61,712.85 L560.76,712.82 L560.91,713.11 L561.05,712.9 L561.2,712.63 L561.35,713.3 L561.5,712.44 L561.64,712.06 L561.79,711.89 L561.94,712.21 L562.09,711.56 L562.24,710.95 L562.38,711.09 L562.53,710.88 L562.68,711.29 L562.83,710.65 L562.97,710.16 L563.12,710.76 L563.27,711.42 L563.42,710.97 L563.57,711.48 L563.71,711.39 L563.86,712.04 L564.01,712.28 L564.16,712.06 L564.3,712.3 L564.45,712.82 L564.6,712.89 L564.75,713.08 L564.9,712.93 L565.04,713.38 L565.19,712.67 L565.34,712.7 L565.49,712.65 L565.63,713.92 L565.78,711.87 L565.93,711.83 L566.08,712.35 L566.22,711.44 L566.37,711.61 L566.52,710.81 L566.67,710.53 L566.82,710.79 L566.96,711.29 L567.11,710.99 L567.26,710.77 L567.41,711.09 L567.55,711 L567.7,711.56 L567.85,711.53 L568,712.03 L568.15,712.86 L568.29,713.39 L568.44,713.44 L568.59,713.49 L568.74,713.5 L568.88,713.02 L569.03,713 L569.18,713.94 L569.33,712.09 L569.48,713.57 L569.62,712.49 L569.77,712.42 L569.92,712.89 L570.07,712.52 L570.21,711.62 L570.36,711.55 L570.51,710.78 L570.66,710.77 L570.8,711.09 L570.95,711.18 L571.1,710.86 L571.25,710.76 L571.4,710.91 L571.54,711.5 L571.69,711.43 L571.84,711.53 L571.99,712.51 L572.13,712.42 L572.28,711.94 L572.43,713.9 L572.58,712.36 L572.73,713.45 L572.87,713.52 L573.02,713.09 L573.17,712.95 L573.32,713.15 L573.46,712.31 L573.61,712.43 L573.76,712.95 L573.91,712.3 L574.06,711.89 L574.2,712.61 L574.35,712 L574.5,710.77 L574.65,710.91 L574.79,711.54 L574.94,710.71 L575.09,711.2 L575.24,710.97 L575.38,711.11 L575.53,710.81 L575.68,712.05 L575.83,712.11 L575.98,712.25 L576.12,713.04 L576.27,713.46 L576.42,713.04 L576.57,714.05 L576.71,713.65 L576.86,713.73 L577.01,713.43 L577.16,713.56 L577.31,712.76 L577.45,713.81 L577.6,713.3 L577.75,712.75 L577.9,712.66 L578.04,712.24 L578.19,712.03 L578.34,711.57 L578.49,710.45 L578.64,710.9 L578.78,710.54 L578.93,711.8 L579.08,710.69 L579.23,711.04 L579.37,711.49 L579.52,711.73 L579.67,711.86 L579.82,711.34 L579.97,712.86 L580.11,712.89 L580.26,712.27 L580.41,713.42 L580.56,712.95 L580.7,714.39 L580.85,714.4 L581,714.18 L581.15,713.46 L581.29,713.45 L581.44,712.93 L581.59,712.75 L581.74,712.56 L581.89,712.38 L582.03,712.18 L582.18,711.71 L582.33,712.22 L582.48,710.88 L582.62,710.72 L582.77,711.33 L582.92,710.72 L583.07,711.29 L583.22,711.61 L583.36,711.09 L583.51,711.9 L583.66,711.8 L583.81,712.4 L583.95,711.36 L584.1,712.88 L584.25,713.29 L584.4,713.37 L584.55,714.17 L584.69,712.83 L584.84,714.27 L584.99,713.45 L585.14,713.11 L585.28,713.73 L585.43,713.74 L585.58,713.83 L585.73,712.5 L585.87,712.56 L586.02,712.5 L586.17,712.16 L586.32,712.02 L586.47,711.73 L586.61,711.82 L586.76,711.71 L586.91,711.66 L587.06,711.28 L587.2,711.61 L587.35,712.06 L587.5,711.64 L587.65,712.37 L587.8,712.06 L587.94,711.75 L588.09,712.35 L588.24,712.63 L588.39,712.64 L588.53,714.13 L588.68,712.7 L588.83,713.75 L588.98,713.83 L589.13,713.93 L589.27,713.16 L589.42,712.81 L589.57,713.07 L589.72,712.78 L589.86,712.84 L590.01,712 L590.16,711.82 L590.31,712.16 L590.45,711.59 L590.6,710.89 L590.75,711.61 L590.9,710.89 L591.05,711.56 L591.19,711.89 L591.34,712.42 L591.49,711.11 L591.64,712.52 L591.78,712.27 L591.93,712.83 L592.08,713.39 L592.23,713.35 L592.38,713.52 L592.52,714.11 L592.67,713.1 L592.82,714.14 L592.97,714.79 L593.11,714.64 L593.26,712.43 L593.41,714.05 L593.56,713.14 L593.71,713.21 L593.85,713.27 L594,713.03 L594.15,711.96 L594.3,712.65 L594.44,712.4 L594.59,711.85 L594.74,712.49 L594.89,711.76 L595.04,711.98 L595.18,711.37 L595.33,711.85 L595.48,711.34 L595.63,712.48 L595.77,712.92 L595.92,712.96 L596.07,713.15 L596.22,713.73 L596.36,714.42 L596.51,714.03 L596.66,713.88 L596.81,714.22 L596.96,714.72 L597.1,714.39 L597.25,713.66 L597.4,713.83 L597.55,713.74 L597.69,713.09 L597.84,712.91 L597.99,712.45 L598.14,712.21 L598.29,711.8 L598.43,712.24 L598.58,711.31 L598.73,711.56 L598.88,711.63 L599.02,711.45 L599.17,712.56 L599.32,711.08 L599.47,711.71 L599.62,712.53 L599.76,712.02 L599.91,713.5 L600.06,713.67 L600.21,713.39 L600.35,713.05 L600.5,713.63 L600.65,714.08 L600.8,713.24 L600.94,714.12 L601.09,713.79 L601.24,713.86 L601.39,714.19 L601.54,713.86 L601.68,713.27 L601.83,713.45 L601.98,712.62 L602.13,712.57 L602.27,712.38 L602.42,711.5 L602.57,711.81 L602.72,712.27 L602.87,711.36 L603.01,711.07 L603.16,712.13 L603.31,712.23 L603.46,711.99 L603.6,712.52 L603.75,712.77 L603.9,713.63 L604.05,713.02 L604.2,712.32 L604.34,713.48 L604.49,712.45 L604.64,711.23 L604.79,711.16 L604.93,711.26 L605.08,710.21 L605.23,710.79 L605.38,710 L605.53,709.1 L605.67,708.35 L605.82,707.98 L605.97,708.15 L606.12,708.3 L606.26,707.4 L606.41,707.09 L606.56,707.58 L606.71,707.07 L606.85,706.02 L607,705.73 L607.15,704.89 L607.3,704.88 L607.45,705.14 L607.59,704.72 L607.74,704.18 L607.89,703.2 L608.04,703.38 L608.18,703.39 L608.33,703.19 L608.48,702.13 L608.63,701.12 L608.78,700.35 L608.92,700.94 L609.07,701.2 L609.22,700.31 L609.37,701.1 L609.51,699.36 L609.66,699.06 L609.81,699.23 L609.96,698.45 L610.11,698.71 L610.25,696.97 L610.4,697.93 L610.55,697.93 L610.7,696.21 L610.84,696.59 L610.99,695.73 L611.14,695.97 L611.29,694.56 L611.43,694.37 L611.58,694.11 L611.73,693.92 L611.88,693.22 L612.03,693.45 L612.17,692.57 L612.32,692.23 L612.47,692.29 L612.62,691.37 L612.76,692.06 L612.91,690.24 L613.06,690.62 L613.21,690.24 L613.36,690.81 L613.5,690.21 L613.65,689.97 L613.8,687.96 L613.95,688.12 L614.09,688.61 L614.24,687.18 L614.39,687.67 L614.54,686.73 L614.69,687.16 L614.83,686.47 L614.98,685.7 L615.13,685.44 L615.28,686.02 L615.42,684.46 L615.57,684.62 L615.72,684.12 L615.87,683.67 L616.01,682.3 L616.16,682.92 L616.31,682.94 L616.46,681.65 L616.61,681.97 L616.75,680.95 L616.9,681.7 L617.05,680.59 L617.2,680.36 L617.34,680.3 L617.49,679.35 L617.64,679.22 L617.79,678.64 L617.94,677.45 L618.08,678.64 L618.23,678.28 L618.38,677.39 L618.53,677.08 L618.67,677.38 L618.82,676.6 L618.97,675.81 L619.12,674.97 L619.27,675.12 L619.41,674.59 L619.56,674.62 L619.71,674.81 L619.86,673.54 L620,673.71 L620.15,672.26 L620.3,672.8 L620.45,672.03 L620.6,672.23 L620.74,670.92 L620.89,671.34 L621.04,670.11 L621.19,670.46 L621.33,669.97 L621.48,668.83 L621.63,669.46 L621.78,668.73 L621.92,668.61 L622.07,668.04 L622.22,667.7 L622.37,668.61 L622.52,668.17 L622.66,666.46 L622.81,665.66 L622.96,664.9 L623.11,665.86 L623.25,665.57 L623.4,665.36 L623.55,664.83 L623.7,664.22 L623.85,664.09 L623.99,663.27 L624.14,662.59 L624.29,662.2 L624.44,661.58 L624.58,662.02 L624.73,661.25 L624.88,661.15 L625.03,660.66 L625.18,660.8 L625.32,660.28 L625.47,659.05 L625.62,659.98 L625.77,658.76 L625.91,658.5 L626.06,658.88 L626.21,657.74 L626.36,658.29 L626.5,656.88 L626.65,656.38 L626.8,656.2 L626.95,656.3 L627.1,656.25 L627.24,654.68 L627.39,655.93 L627.54,654.49 L627.69,654.32 L627.83,653.61 L627.98,652.94 L628.13,653.42 L628.28,652.03 L628.43,652.54 L628.57,651.98 L628.72,651.59 L628.87,650.72 L629.02,651 L629.16,650.56 L629.31,650.38 L629.46,650.53 L629.61,649.34 L629.76,648.42 L629.9,649.17 L630.05,648.55 L630.2,648.24 L630.35,647.79 L630.49,646.59 L630.64,646.41 L630.79,646.97 L630.94,646.41 L631.08,646.72 L631.23,645.45 L631.38,645.38 L631.53,644.93 L631.68,644.51 L631.82,643.8 L631.97,644.11 L632.12,643.08 L632.27,642.59 L632.41,641.8 L632.56,642.88 L632.71,642.17 L632.86,641.49 L633.01,641.73 L633.15,640.22 L633.3,640.15 L633.45,640.13 L633.6,640.37 L633.74,639.65 L633.89,638.68 L634.04,638.77 L634.19,638.09 L634.34,637.92 L634.48,637.55 L634.63,636.26 L634.78,636.79 L634.93,635.94 L635.07,635.64 L635.22,635.48 L635.37,635.84 L635.52,635.6 L635.67,633.94 L635.81,634.6 L635.96,633.33 L636.11,633.59 L636.26,633.35 L636.4,632.21 L636.55,632.06 L636.7,631.9 L636.85,631.19 L636.99,630.76 L637.14,631.15 L637.29,631.29 L637.44,629.88 L637.59,629.85 L637.73,629.42 L637.88,629.43 L638.03,628.58 L638.18,629.31 L638.32,629.6 L638.47,629.01 L638.62,629.54 L638.77,629.15 L638.92,628.94 L639.06,628.97 L639.21,629.18 L639.36,628.86 L639.51,629.51 L639.65,628.51 L639.8,628.53 L639.95,629.29 L640.1,629.71 L640.25,629.26 L640.39,629.06 L640.54,628.98 L640.69,628.93 L640.84,629.39 L640.98,629.52 L641.13,629.83 L641.28,629.33 L641.43,630.17 L641.57,628.91 L641.72,628.88 L641.87,629.84 L642.02,629.29 L642.17,629.85 L642.31,629.09 L642.46,628.86 L642.61,629.33 L642.76,629.15 L642.9,629.6 L643.05,628.67 L643.2,628.63 L643.35,628.4 L643.5,628.43 L643.64,629.51 L643.79,628.87 L643.94,628.79 L644.09,629.12 L644.23,629.24 L644.38,628.4 L644.53,628.82 L644.68,628.66 L644.83,628.24 L644.97,629.11 L645.12,629.31 L645.27,629.49 L645.42,628.78 L645.56,629.33 L645.71,629.38 L645.86,628.97 L646.01,629.15 L646.15,628.58 L646.3,629.51 L646.45,628.44 L646.6,628.35 L646.75,629.12 L646.89,629.29 L647.04,629.09 L647.19,628.94 L647.34,628.43 L647.48,628.76 L647.63,629.07 L647.78,629.63 L647.93,629.01 L648.08,628.98 L648.22,629.96 L648.37,628.36 L648.52,628.71 L648.67,629.25 L648.81,628.89 L648.96,629.53 L649.11,628.97 L649.26,628.88 L649.41,628.09 L649.55,628.78 L649.7,628.88 L649.85,629.02 L650,629.29 L650.14,630.05 L650.29,628.97 L650.44,629.77 L650.59,629.55 L650.74,629.39 L650.88,629.35 L651.03,628.97 L651.18,629.36 L651.33,628.23 L651.47,629.62 L651.62,628.77 L651.77,629.25 L651.92,628.83 L652.06,628.78 L652.21,629.05 L652.36,629.18 L652.51,628.89 L652.66,628.13 L652.8,629.84 L652.95,628.09 L653.1,628.63 L653.25,629.48 L653.39,629.42 L653.54,628.75 L653.69,628.8 L653.84,627.95 L653.99,628.76 L654.13,629.45 L654.28,629.13 L654.43,629.52 L654.58,628.71 L654.72,629.12 L654.87,628.81 L655.02,629.14 L655.17,629.6 L655.32,628.9 L655.46,629.05 L655.61,629.78 L655.76,628.79 L655.91,629.35 L656.05,629.19 L656.2,629.48 L656.35,628.56 L656.5,628.8 L656.64,629.06 L656.79,629.27 L656.94,628.93 L657.09,629.96 L657.24,627.73 L657.38,629.42 L657.53,629.11 L657.68,629.24 L657.83,629.61 L657.97,628.87 L658.12,628.65 L658.27,629.61 L658.42,628.73 L658.57,628.57 L658.71,628.74 L658.86,629.02 L659.01,629.11 L659.16,628.38 L659.3,628.72 L659.45,629.86 L659.6,628.58 L659.75,628.48 L659.9,628.86 L660.04,629.71 L660.19,628.87 L660.34,629.27 L660.49,629.17 L660.63,628.82 L660.78,628.82 L660.93,628.7 L661.08,628.59 L661.23,629.05 L661.37,629.38 L661.52,628.76 L661.67,629.12 L661.82,628.78 L661.96,628.66 L662.11,629.4 L662.26,628.98 L662.41,629 L662.55,629.77 L662.7,629.08 L662.85,629.2 L663,629.19 L663.15,628.75 L663.29,629.03 L663.44,629.23 L663.59,628.7 L663.74,628.62 L663.88,628.82 L664.03,628.84 L664.18,629.53 L664.33,628.77 L664.48,629.04 L664.62,629.21 L664.77,628.37 L664.92,629.25 L665.07,629.39 L665.21,627.99 L665.36,629.55 L665.51,628.96 L665.66,628.93 L665.81,629.44 L665.95,629.43 L666.1,629.13 L666.25,628.94 L666.4,628.56 L666.54,628.18 L666.69,629.35 L666.84,628.48 L666.99,628.9 L667.13,629.5 L667.28,629.12 L667.43,628.63 L667.58,629.67 L667.73,628.06 L667.87,628.99 L668.02,629.06 L668.17,629.05 L668.32,629.23 L668.46,629.48 L668.61,629.39 L668.76,628.33 L668.91,628.59 L669.06,628.78 L669.2,628.94 L669.35,629.39 L669.5,628.96 L669.65,629.4 L669.79,629.2 L669.94,628.23 L670.09,629.03 L670.24,629.59 L670.39,628.9 L670.53,628.77 L670.68,628.63 L670.83,629.06 L670.98,629.18 L671.12,629.6 L671.27,629.48 L671.42,629.11 L671.57,628.69 L671.71,628.46 L671.86,628.35 L672.01,628.97 L672.16,628.74 L672.31,628.6 L672.45,628.32 L672.6,629.36 L672.75,628.32 L672.9,628.74 L673.04,629.25 L673.19,628.23 L673.34,628.32 L673.49,628.58 L673.64,628.64 L673.78,629.22 L673.93,629.35 L674.08,629.58 L674.23,628.81 L674.37,628.63 L674.52,629.12 L674.67,628.34 L674.82,627.96 L674.97,628.92 L675.11,629.21 L675.26,629.44 L675.41,628.71 L675.56,629.15 L675.7,628.56 L675.85,629.06 L676,628.18 L676.15,628.59 L676.3,629.07 L676.44,629.49 L676.59,629.42 L676.74,628.71 L676.89,628.21 L677.03,628.74 L677.18,628.96 L677.33,628.11 L677.48,629.1 L677.62,629.01 L677.77,628.22 L677.92,628.49 L678.07,628.95 L678.22,628.63 L678.36,628.66 L678.51,629.02 L678.66,628.93 L678.81,628.37 L678.95,628.83 L679.1,628.22 L679.25,627.87 L679.4,627.74 L679.55,628.45 L679.69,628.79 L679.84,628.75 L679.99,628.21 L680.14,628.66 L680.28,628.52 L680.43,628.94 L680.58,628.89 L680.73,628.99 L680.88,628.91 L681.02,629.49 L681.17,628.17 L681.32,628.67 L681.47,628.7 L681.61,628.37 L681.76,628.34 L681.91,629.15 L682.06,629 L682.2,628.7 L682.35,628.39 L682.5,629.27 L682.65,627.94 L682.8,628.89 L682.94,628.84 L683.09,628.72 L683.24,628.1 L683.39,628.57 L683.53,628.33 L683.68,628.8 L683.83,628.65 L683.98,628.61 L684.13,629.38 L684.27,628.18 L684.42,629.13 L684.57,628.67 L684.72,628.73 L684.86,629.45 L685.01,628.3 L685.16,628.29 L685.31,628.05 L685.46,628.92 L685.6,628.91 L685.75,628.02 L685.9,629.32 L686.05,628.22 L686.19,628.97 L686.34,628.22 L686.49,629.23 L686.64,629.1 L686.78,628.96 L686.93,627.96 L687.08,628.25 L687.23,628.24 L687.38,628.27 L687.52,629.27 L687.67,628.96 L687.82,628.41 L687.97,628.84 L688.11,628.57 L688.26,628.01 L688.41,628.48 L688.56,628.92 L688.71,628.83 L688.85,628.73 L689,628.74 L689.15,627.88 L689.3,627.86 L689.44,629.23 L689.59,629.3 L689.74,628.56 L689.89,628.75 L690.04,629.63 L690.18,629.49 L690.33,628.41 L690.48,629 L690.63,628.92 L690.77,629 L690.92,629.11 L691.07,628.94 L691.22,628.97 L691.37,628.2 L691.51,629.29 L691.66,628.88 L691.81,628.71 L691.96,628.95 L692.1,629.42 L692.25,628.87 L692.4,629.22 L692.55,629.01 L692.69,628.76 L692.84,628.28 L692.99,629.38 L693.14,629.41 L693.29,629.2 L693.43,628.92 L693.58,628.4 L693.73,628.34 L693.88,628.09 L694.02,628.52 L694.17,628.64 L694.32,628.38 L694.47,628.37 L694.62,628.69 L694.76,627.99 L694.91,628.67 L695.06,628.66 L695.21,628.33 L695.35,628.3 L695.5,628.67 L695.65,628.54 L695.8,627.91 L695.95,628.1 L696.09,628.46 L696.24,628.71 L696.39,629.55 L696.54,628.46 L696.68,628.02 L696.83,628.4 L696.98,629 L697.13,628.42 L697.27,628.69 L697.42,627.94 L697.57,628.3 L697.72,628.08 L697.87,628.55 L698.01,628.25 L698.16,629.47 L698.31,628.86 L698.46,629 L698.6,628.74 L698.75,628.35 L698.9,628.44 L699.05,628.88 L699.2,629.13 L699.34,629 L699.49,628.75 L699.64,628.76 L699.79,627.73 L699.93,629.65 L700.08,629.12 L700.23,629.37 L700.38,629.23 L700.53,628.37 L700.67,627.82 L700.82,627.79 L700.97,627.95 L701.12,628.1 L701.26,627.97 L701.41,628.66 L701.56,628.65 L701.71,627.88 L701.85,629.47 L702,628.53 L702.15,628.08 L702.3,628.48 L702.45,627.45 L702.59,628.75 L702.74,628.3 L702.89,628.42 L703.04,628.17 L703.18,628.98 L703.33,628.83 L703.48,628.82 L703.63,627.89 L703.78,628.12 L703.92,628.81 L704.07,628.47 L704.22,627.84 L704.37,627.86 L704.51,628.16 L704.66,628.67 L704.81,628.13 L704.96,628.99 L705.11,627.78 L705.25,628.84 L705.4,629.46 L705.55,629.12 L705.7,628.93 L705.84,628.51 L705.99,628.55 L706.14,628.55 L706.29,627.61 L706.44,628.3 L706.58,628.57 L706.73,628.38 L706.88,628.18 L707.03,628.69 L707.17,628.75 L707.32,628.32 L707.47,628.06 L707.62,628.47 L707.76,628.43 L707.91,628.5 L708.06,628.31 L708.21,628.2 L708.36,629.11 L708.5,628.61 L708.65,628.84 L708.8,628.49 L708.95,627.75 L709.09,629.25 L709.24,628.46 L709.39,628.61 L709.54,628.71 L709.69,628.93 L709.83,628.89 L709.98,628.13 L710.13,628.25 L710.28,628.64 L710.42,628.16 L710.57,628.61 L710.72,628.53 L710.87,628.36 L711.02,627.84 L711.16,627.66 L711.31,628.5 L711.46,628.91 L711.61,628.59 L711.75,627.93 L711.9,629.1 L712.05,627.87 L712.2,628.95 L712.34,629.43 L712.49,628.85 L712.64,628.66 L712.79,628.39 L712.94,629.45 L713.08,627.93 L713.23,628 L713.38,627.87 L713.53,628.53 L713.67,628.94 L713.82,628.18 L713.97,628.6 L714.12,629.29 L714.27,628.45 L714.41,628.04 L714.56,628.8 L714.71,627.9 L714.86,628.06 L715,628.53 L715.15,627.65 L715.3,628.33 L715.45,628.75 L715.6,628.16 L715.74,628.47 L715.89,628.85 L716.04,627.47 L716.19,627.98 L716.33,628.6 L716.48,628.2 L716.63,628.22 L716.78,627.32 L716.93,628.2 L717.07,628.44 L717.22,628.98 L717.37,628.09 L717.52,628.17" stroke="#18bff6" stroke-width="0.8"/>
<path d="M30.5,628.83 L30.65,629.44 L30.8,628.83 L30.94,629.08 L31.09,629.6 L31.24,629.52 L31.39,629.62 L31.53,629.21 L31.68,629.49 L31.83,629.54 L31.98,629.09 L32.13,629.79 L32.27,629.33 L32.42,629.06 L32.57,629.19 L32.72,629.39 L32.86,628.89 L33.01,630.23 L33.16,630.61 L33.31,628.34 L33.45,630.17 L33.6,629.49 L33.75,629.64 L33.9,630 L34.05,629.47 L34.19,629.09 L34.34,629.25 L34.49,630.52 L34.64,629.51 L34.78,629.08 L34.93,628.17 L35.08,628.85 L35.23,628.41 L35.38,629.65 L35.52,629.42 L35.67,629.34 L35.82,628.87 L35.97,628.65 L36.11,628.46 L36.26,630 L36.41,628.94 L36.56,629 L36.71,628.69 L36.85,629.09 L37,627.58 L37.15,629.48 L37.3,629.58 L37.44,629.81 L37.59,628.92 L37.74,630.13 L37.89,629.15 L38.04,628.28 L38.18,628.74 L38.33,629.23 L38.48,628.84 L38.63,630.45 L38.77,629.08 L38.92,629.51 L39.07,628.85 L39.22,630.85 L39.36,629.57 L39.51,628.92 L39.66,628.98 L39.81,628.54 L39.96,629.03 L40.1,628.55 L40.25,629.6 L40.4,628.84 L40.55,630.17 L40.69,629.74 L40.84,628.12 L40.99,629.68 L41.14,628.9 L41.29,629.19 L41.43,628.84 L41.58,630.19 L41.73,629.04 L41.88,629.5 L42.02,630.54 L42.17,628.51 L42.32,628.69 L42.47,629.34 L42.62,629.02 L42.76,628.4 L42.91,628.62 L43.06,630.23 L43.21,628.28 L43.35,628.91 L43.5,628.67 L43.65,628.96 L43.8,628.55 L43.94,629.73 L44.09,629.58 L44.24,629.25 L44.39,629.95 L44.54,628.73 L44.68,628.89 L44.83,629.73 L44.98,628.53 L45.13,628.67 L45.27,629.19 L45.42,629.26 L45.57,629.37 L45.72,629.39 L45.87,629.36 L46.01,629.83 L46.16,629.62 L46.31,628.28 L46.46,628.34 L46.6,629.78 L46.75,629.63 L46.9,629.62 L47.05,628.98 L47.2,629.03 L47.34,628.39 L47.49,629.12 L47.64,629.64 L47.79,629.95 L47.93,629.41 L48.08,629.48 L48.23,628.88 L48.38,628.57 L48.52,627.73 L48.67,629.9 L48.82,629.17 L48.97,629.34 L49.12,630.01 L49.26,627.84 L49.41,629.62 L49.56,629.32 L49.71,628.78 L49.85,629.23 L50,628.58 L50.15,629.54 L50.3,629.89 L50.45,628.64 L50.59,629.33 L50.74,630.6 L50.89,629.25 L51.04,628.99 L51.18,630.62 L51.33,629.68 L51.48,628.42 L51.63,629.12 L51.78,628.09 L51.92,629.16 L52.07,628.07 L52.22,629.51 L52.37,628.61 L52.51,629.75 L52.66,629.28 L52.81,628.96 L52.96,628.91 L53.11,629.3 L53.25,630.43 L53.4,630.47 L53.55,628.89 L53.7,629.93 L53.84,629.24 L53.99,629.82 L54.14,629.45 L54.29,628.98 L54.43,629.36 L54.58,629.53 L54.73,629.72 L54.88,628.95 L55.03,628.56 L55.17,628.52 L55.32,627.98 L55.47,630.59 L55.62,629.1 L55.76,629.38 L55.91,628.58 L56.06,629.14 L56.21,630.3 L56.36,629.66 L56.5,629.51 L56.65,629.05 L56.8,629.18 L56.95,628.74 L57.09,629.01 L57.24,629.68 L57.39,628.82 L57.54,628.84 L57.69,628.48 L57.83,627.89 L57.98,629.15 L58.13,630.13 L58.28,630.25 L58.42,628.15 L58.57,629.68 L58.72,630.27 L58.87,629.14 L59.01,629.3 L59.16,628.42 L59.31,628.54 L59.46,628.6 L59.61,629.29 L59.75,628.75 L59.9,630.59 L60.05,628.4 L60.2,629.41 L60.34,628.79 L60.49,629.5 L60.64,629.21 L60.79,629.2 L60.94,629.46 L61.08,630.09 L61.23,628.27 L61.38,629.77 L61.53,628.19 L61.67,628.44 L61.82,628.93 L61.97,628.79 L62.12,629.47 L62.27,629.51 L62.41,629.24 L62.56,629.51 L62.71,628.05 L62.86,629.18 L63,629.92 L63.15,628.88 L63.3,629.33 L63.45,628.37 L63.59,629.66 L63.74,628.66 L63.89,628.72 L64.04,628.68 L64.19,629.39 L64.33,628.32 L64.48,629.83 L64.63,629.39 L64.78,628.39 L64.92,628.65 L65.07,629.69 L65.22,628.35 L65.37,629.16 L65.52,629.57 L65.66,628.37 L65.81,629.78 L65.96,629.63 L66.11,628.43 L66.25,629.39 L66.4,628.91 L66.55,629.8 L66.7,629.42 L66.85,629.09 L66.99,630.33 L67.14,629.71 L67.29,628.96 L67.44,628.39 L67.58,628.24 L67.73,628.9 L67.88,628.83 L68.03,629.93 L68.18,628.63 L68.32,629.47 L68.47,629.52 L68.62,629.23 L68.77,627.92 L68.91,628.36 L69.06,628.59 L69.21,630.09 L69.36,628.71 L69.5,629.31 L69.65,628.17 L69.8,629.96 L69.95,628.39 L70.1,628.63 L70.24,629.18 L70.39,629.68 L70.54,628.09 L70.69,628.53 L70.83,628.6 L70.98,628.95 L71.13,628.43 L71.28,628.69 L71.43,629.84 L71.57,628.86 L71.72,628.64 L71.87,628.48 L72.02,628.97 L72.16,629.86 L72.31,629.26 L72.46,627.75 L72.61,627.84 L72.76,627.42 L72.9,629.39 L73.05,629.48 L73.2,629.18 L73.35,628.54 L73.49,629.55 L73.64,629.18 L73.79,629.64 L73.94,628.51 L74.08,629 L74.23,628.82 L74.38,629.2 L74.53,629.3 L74.68,627.44 L74.82,628.37 L74.97,629.17 L75.12,628.49 L75.27,629.48 L75.41,629.3 L75.56,629.93 L75.71,628.29 L75.86,630.16 L76.01,629.12 L76.15,628.69 L76.3,628.44 L76.45,627.63 L76.6,629.14 L76.74,629.59 L76.89,629.51 L77.04,629.25 L77.19,630.3 L77.34,627.95 L77.48,628.75 L77.63,627.85 L77.78,629.65 L77.93,628.81 L78.07,629.15 L78.22,628.56 L78.37,629.33 L78.52,628.11 L78.66,629.24 L78.81,629.2 L78.96,629.79 L79.11,629 L79.26,629.55 L79.4,629.13 L79.55,628.84 L79.7,628.68 L79.85,628.93 L79.99,629.94 L80.14,627.91 L80.29,630.19 L80.44,629.07 L80.59,628.85 L80.73,629.73 L80.88,627.8 L81.03,629.94 L81.18,628.09 L81.32,629.68 L81.47,628.7 L81.62,628.44 L81.77,628.91 L81.92,629.52 L82.06,629.16 L82.21,629.39 L82.36,629.73 L82.51,628.64 L82.65,629.4 L82.8,629.38 L82.95,628.42 L83.1,629.63 L83.25,628.31 L83.39,627.79 L83.54,628.75 L83.69,629.02 L83.84,628.11 L83.98,629.47 L84.13,630.16 L84.28,629.71 L84.43,629.9 L84.57,630.07 L84.72,630.09 L84.87,628.65 L85.02,629.41 L85.17,628.31 L85.31,629.2 L85.46,628.73 L85.61,628.86 L85.76,628.77 L85.9,630.74 L86.05,629.91 L86.2,628.65 L86.35,629.24 L86.5,629.04 L86.64,629.44 L86.79,628.82 L86.94,627.83 L87.09,629.8 L87.23,629.93 L87.38,628.48 L87.53,629.03 L87.68,629.05 L87.83,630.42 L87.97,629.4 L88.12,629.8 L88.27,628.61 L88.42,629.31 L88.56,629.74 L88.71,629.69 L88.86,628.92 L89.01,628.7 L89.15,629.86 L89.3,628.52 L89.45,628.67 L89.6,630.11 L89.75,629.81 L89.89,628.93 L90.04,628.65 L90.19,627.97 L90.34,629.64 L90.48,629.12 L90.63,628.61 L90.78,628.57 L90.93,629.04 L91.08,629.05 L91.22,629.64 L91.37,628.91 L91.52,629.66 L91.67,628.98 L91.81,630.38 L91.96,629.02 L92.11,629.31 L92.26,626.84 L92.41,628.9 L92.55,628.85 L92.7,628.45 L92.85,629.05 L93,629.38 L93.14,630.1 L93.29,628.61 L93.44,629.02 L93.59,628.55 L93.74,628.74 L93.88,629.43 L94.03,629.41 L94.18,628.02 L94.33,628.93 L94.47,629.13 L94.62,628.96 L94.77,628.56 L94.92,628.07 L95.06,628.66 L95.21,628.81 L95.36,629.41 L95.51,629.45 L95.66,628 L95.8,629.36 L95.95,629.02 L96.1,629.54 L96.25,630.22 L96.39,628.94 L96.54,628.9 L96.69,629.39 L96.84,629.68 L96.99,629.73 L97.13,630.06 L97.28,628.88 L97.43,629.22 L97.58,628.19 L97.72,629.32 L97.87,628.77 L98.02,628.51 L98.17,629.69 L98.32,629.79 L98.46,629.52 L98.61,630.27 L98.76,628.64 L98.91,629.57 L99.05,629.06 L99.2,629.77 L99.35,628.34 L99.5,629.67 L99.64,629.07 L99.79,629.62 L99.94,628.66 L100.09,628.38 L100.24,628.41 L100.38,630.17 L100.53,628.27 L100.68,628.29 L100.83,629.45 L100.97,628.78 L101.12,628.96 L101.27,629.42 L101.42,628.47 L101.57,629.38 L101.71,628.87 L101.86,629.38 L102.01,629.5 L102.16,629.22 L102.3,629.79 L102.45,630.21 L102.6,629.72 L102.75,629.61 L102.9,628.81 L103.04,628.58 L103.19,629.64 L103.34,629.42 L103.49,630.21 L103.63,628.31 L103.78,627.8 L103.93,629.07 L104.08,629.33 L104.22,628.59 L104.37,629.96 L104.52,629.74 L104.67,629.48 L104.82,628.37 L104.96,628.44 L105.11,628.79 L105.26,628.63 L105.41,630.46 L105.55,629.44 L105.7,629.4 L105.85,628.89 L106,629.19 L106.15,628.48 L106.29,629 L106.44,628.55 L106.59,629.15 L106.74,628.55 L106.88,629.17 L107.03,628.61 L107.18,628.81 L107.33,629.25 L107.48,628.76 L107.62,630.37 L107.77,628.66 L107.92,628.47 L108.07,628.8 L108.21,628.62 L108.36,629.63 L108.51,628.61 L108.66,629.9 L108.81,629.73 L108.95,629.54 L109.1,629.72 L109.25,630.23 L109.4,629.18 L109.54,629.52 L109.69,629.18 L109.84,628.87 L109.99,628.84 L110.13,629.14 L110.28,628.39 L110.43,628.4 L110.58,629.82 L110.73,629.15 L110.87,628.52 L111.02,629.41 L111.17,628.65 L111.32,627.98 L111.46,629.41 L111.61,628.91 L111.76,627.78 L111.91,628.41 L112.06,628.21 L112.2,630.18 L112.35,628.03 L112.5,628.3 L112.65,629.85 L112.79,629.77 L112.94,629.62 L113.09,629.26 L113.24,628.23 L113.39,628.45 L113.53,626.48 L113.68,624.39 L113.83,622.88 L113.98,627.74 L114.12,632 L114.27,636.55 L114.42,634.17 L114.57,631.85 L114.71,628.55 L114.86,627.98 L115.01,628.47 L115.16,628.4 L115.31,628.88 L115.45,628.58 L115.6,626.55 L115.75,629.93 L115.9,628.87 L116.04,629.07 L116.19,628.75 L116.34,628.68 L116.49,629.05 L116.64,624.96 L116.78,628.73 L116.93,630.71 L117.08,628.58 L117.23,630.7 L117.37,631.54 L117.52,630.24 L117.67,629.69 L117.82,628.66 L117.97,633.68 L118.11,627.56 L118.26,627.28 L118.41,631.52 L118.56,625.96 L118.7,635.1 L118.85,629.56 L119,624.62 L119.15,630.58 L119.29,627.37 L119.44,628.99 L119.59,630.83 L119.74,630.61 L119.89,629.57 L120.03,628.24 L120.18,627.56 L120.33,628.08 L120.48,628.25 L120.62,628.77 L120.77,628.33 L120.92,629.32 L121.07,629.49 L121.22,629.58 L121.36,629.74 L121.51,626.45 L121.66,629.07 L121.81,631.14 L121.95,629.5 L122.1,631.23 L122.25,635.58 L122.4,629.34 L122.55,627.69 L122.69,629.65 L122.84,629.6 L122.99,631.7 L123.14,628.98 L123.28,627.98 L123.43,627.23 L123.58,629.12 L123.73,626.66 L123.88,631.53 L124.02,629.48 L124.17,630.95 L124.32,627.9 L124.47,627.07 L124.61,629.69 L124.76,625.36 L124.91,629.36 L125.06,627.15 L125.2,633.5 L125.35,627.33 L125.5,628.86 L125.65,629.06 L125.8,622.84 L125.94,631.41 L126.09,626.55 L126.24,627.96 L126.39,633.37 L126.53,627.63 L126.68,623.54 L126.83,632.56 L126.98,625.92 L127.13,632.22 L127.27,631.31 L127.42,627.61 L127.57,627.79 L127.72,629.61 L127.86,628.13 L128.01,625.51 L128.16,629.92 L128.31,630.12 L128.46,630.83 L128.6,628.38 L128.75,631.64 L128.9,638.34 L129.05,642.21 L129.19,640.28 L129.34,638 L129.49,629.5 L129.64,624.76 L129.78,628.56 L129.93,626.91 L130.08,628.91 L130.23,627.14 L130.38,627.01 L130.52,626.15 L130.67,631.99 L130.82,629.13 L130.97,628.63 L131.11,625.62 L131.26,631.65 L131.41,631.95 L131.56,634.5 L131.71,629.95 L131.85,629.6 L132,635.54 L132.15,623.95 L132.3,630.04 L132.44,627.09 L132.59,630.66 L132.74,627.16 L132.89,630.74 L133.04,629.96 L133.18,627.5 L133.33,630.35 L133.48,628.49 L133.63,629.51 L133.77,629.95 L133.92,629.17 L134.07,628.89 L134.22,625.48 L134.36,625.99 L134.51,632.09 L134.66,629.39 L134.81,631.28 L134.96,628.44 L135.1,633.3 L135.25,628.61 L135.4,630.41 L135.55,627.72 L135.69,623.59 L135.84,630.65 L135.99,629.26 L136.14,625.32 L136.29,632.62 L136.43,628.35 L136.58,633.12 L136.73,632.14 L136.88,631.33 L137.02,626.62 L137.17,626.74 L137.32,628.2 L137.47,627.06 L137.62,630.2 L137.76,629.75 L137.91,626.66 L138.06,628.9 L138.21,628.01 L138.35,627.58 L138.5,628.89 L138.65,632.62 L138.8,633.25 L138.95,630.27 L139.09,633.84 L139.24,627.42 L139.39,627.19 L139.54,630.47 L139.68,630.13 L139.83,627.59 L139.98,628.62 L140.13,633.16 L140.27,628.86 L140.42,625.47 L140.57,631.79 L140.72,625.07 L140.87,623.76 L141.01,615.22 L141.16,624.88 L141.31,626.5 L141.46,627.54 L141.6,631.38 L141.75,628.05 L141.9,628.61 L142.05,629.13 L142.2,629.58 L142.34,629.42 L142.49,623.46 L142.64,626.83 L142.79,625.28 L142.93,619.95 L143.08,618.08 L143.23,621.25 L143.38,632.53 L143.53,633.25 L143.67,632 L143.82,625.55 L143.97,632.31 L144.12,628.98 L144.26,631.11 L144.41,629.03 L144.56,622.04 L144.71,618.51 L144.85,618.81 L145,617.88 L145.15,629.43 L145.3,632.52 L145.45,629.05 L145.59,628.96 L145.74,628.35 L145.89,626.48 L146.04,631.77 L146.18,628.01 L146.33,623.5 L146.48,617.15 L146.63,622.12 L146.78,624.67 L146.92,627.1 L147.07,630.69 L147.22,631.57 L147.37,628.16 L147.51,627.11 L147.66,628.61 L147.81,628.75 L147.96,634.67 L148.11,629.76 L148.25,622.44 L148.4,623.89 L148.55,630.47 L148.7,632.25 L148.84,627.79 L148.99,629.09 L149.14,629.46 L149.29,625.91 L149.44,628.48 L149.58,631.15 L149.73,628.83 L149.88,631.49 L150.03,629.95 L150.17,631.23 L150.32,632.52 L150.47,628.75 L150.62,625.39 L150.76,629.26 L150.91,629.94 L151.06,631.86 L151.21,624.88 L151.36,629.03 L151.5,629.94 L151.65,628.51 L151.8,628.62 L151.95,630.75 L152.09,633.12 L152.24,628.67 L152.39,632.12 L152.54,628.08 L152.69,630.72 L152.83,632.45 L152.98,638.82 L153.13,636.19 L153.28,637.34 L153.42,630.07 L153.57,629.71 L153.72,629.4 L153.87,631.25 L154.02,629.89 L154.16,630.46 L154.31,631.21 L154.46,632.29 L154.61,628.43 L154.75,621.01 L154.9,620.72 L155.05,621.84 L155.2,623.75 L155.34,633.34 L155.49,629.52 L155.64,626.87 L155.79,625.94 L155.94,628.3 L156.08,625.31 L156.23,628.45 L156.38,620.28 L156.53,626.89 L156.67,628.8 L156.82,630.15 L156.97,627.51 L157.12,630.96 L157.27,629.37 L157.41,628.17 L157.56,626.39 L157.71,630.08 L157.86,628.63 L158,625.23 L158.15,631.95 L158.3,629.85 L158.45,630.12 L158.6,626.72 L158.74,632.17 L158.89,628.66 L159.04,626.32 L159.19,627.96 L159.33,627.1 L159.48,626.14 L159.63,619.56 L159.78,629.29 L159.92,626.78 L160.07,625.42 L160.22,633.79 L160.37,632.46 L160.52,628.17 L160.66,626 L160.81,628.83 L160.96,626.01 L161.11,627.31 L161.25,630.68 L161.4,627.78 L161.55,626.59 L161.7,631.6 L161.85,632.4 L161.99,629.35 L162.14,626.18 L162.29,632.42 L162.44,633.34 L162.58,628.7 L162.73,623.1 L162.88,628.19 L163.03,630.03 L163.18,624.62 L163.32,629.47 L163.47,626.51 L163.62,621.72 L163.77,615.18 L163.91,624.57 L164.06,627.99 L164.21,629.12 L164.36,630.08 L164.51,631.81 L164.65,632.16 L164.8,624.18 L164.95,627.44 L165.1,632.38 L165.24,629.56 L165.39,629.61 L165.54,630.59 L165.69,626.39 L165.83,627.54 L165.98,628.02 L166.13,628.3 L166.28,633.21 L166.43,631.47 L166.57,627.63 L166.72,625.09 L166.87,627.79 L167.02,623.62 L167.16,628.73 L167.31,630.68 L167.46,628.24 L167.61,629.97 L167.76,626.1 L167.9,629.53 L168.05,626.77 L168.2,627.28 L168.35,630.34 L168.49,630.26 L168.64,635.45 L168.79,627.84 L168.94,630.39 L169.09,626.16 L169.23,628.24 L169.38,632.2 L169.53,642.73 L169.68,636.28 L169.82,629.85 L169.97,627.18 L170.12,630.85 L170.27,631.82 L170.41,627.2 L170.56,626.23 L170.71,630.96 L170.86,634.61 L171.01,628.41 L171.15,633.7 L171.3,633.23 L171.45,627.91 L171.6,631.91 L171.74,631.73 L171.89,633.12 L172.04,632.1 L172.19,626.44 L172.34,631.74 L172.48,630.95 L172.63,626.16 L172.78,631.17 L172.93,626.18 L173.07,629.33 L173.22,627.46 L173.37,629.92 L173.52,630.44 L173.67,626.61 L173.81,631.85 L173.96,627.61 L174.11,632.6 L174.26,631.69 L174.4,626.68 L174.55,631.16 L174.7,625.76 L174.85,633.45 L174.99,624.07 L175.14,628.89 L175.29,630.14 L175.44,631.94 L175.59,633.05 L175.73,624.47 L175.88,627.37 L176.03,630.38 L176.18,625.67 L176.32,629.95 L176.47,624.04 L176.62,626.3 L176.77,619.64 L176.92,623.41 L177.06,620.7 L177.21,625.17 L177.36,628.87 L177.51,627.93 L177.65,632.54 L177.8,633.96 L177.95,628.21 L178.1,632.28 L178.25,630.86 L178.39,630.38 L178.54,625.48 L178.69,628.86 L178.84,630.36 L178.98,628.71 L179.13,629.45 L179.28,629.59 L179.43,627.18 L179.58,630.69 L179.72,627.65 L179.87,628.37 L180.02,629.28 L180.17,629.05 L180.31,628.85 L180.46,626.01 L180.61,623.07 L180.76,621.13 L180.9,625.45 L181.05,627.78 L181.2,628.73 L181.35,623.43 L181.5,630.15 L181.64,627.96 L181.79,626.36 L181.94,630.26 L182.09,629.25 L182.23,625.94 L182.38,629.15 L182.53,632.39 L182.68,631.47 L182.83,629.39 L182.97,632.03 L183.12,629.2 L183.27,626.98 L183.42,630.56 L183.56,628.55 L183.71,633.79 L183.86,630.77 L184.01,627.87 L184.16,630.48 L184.3,632.46 L184.45,631.32 L184.6,634.16 L184.75,629.09 L184.89,627.92 L185.04,630.65 L185.19,631.43 L185.34,635.08 L185.48,622.04 L185.63,630.06 L185.78,634.01 L185.93,632.97 L186.08,631.84 L186.22,625.46 L186.37,628.53 L186.52,630.83 L186.67,630.39 L186.81,629.79 L186.96,632.84 L187.11,630.96 L187.26,633.54 L187.41,637.52 L187.55,635.67 L187.7,627.81 L187.85,626.88 L188,628.46 L188.14,626.83 L188.29,629.96 L188.44,631.08 L188.59,629.37 L188.74,623.81 L188.88,628.45 L189.03,626.15 L189.18,628.1 L189.33,631.63 L189.47,629.44 L189.62,630.79 L189.77,630.1 L189.92,630.21 L190.07,627.86 L190.21,630.6 L190.36,626.33 L190.51,630.8 L190.66,626.21 L190.8,627.19 L190.95,629.85 L191.1,622.47 L191.25,632.61 L191.39,631.09 L191.54,632.36 L191.69,625.76 L191.84,628.05 L191.99,627.65 L192.13,626.19 L192.28,628.28 L192.43,627.94 L192.58,630.35 L192.72,629.95 L192.87,629.46 L193.02,630.12 L193.17,627.69 L193.32,628.21 L193.46,627.25 L193.61,633.47 L193.76,629.71 L193.91,623.25 L194.05,623.84 L194.2,625.29 L194.35,630.52 L194.5,626.59 L194.65,628.04 L194.79,629.16 L194.94,625.56 L195.09,627.09 L195.24,626.15 L195.38,627.73 L195.53,628.71 L195.68,630.62 L195.83,626.52 L195.97,631.08 L196.12,631.73 L196.27,632.44 L196.42,632.91 L196.57,631.31 L196.71,626.44 L196.86,630.04 L197.01,628.19 L197.16,630.04 L197.3,628.09 L197.45,629.25 L197.6,630.46 L197.75,628.56 L197.9,627.68 L198.04,631.68 L198.19,628.84 L198.34,625.89 L198.49,631.35 L198.63,634.48 L198.78,630.65 L198.93,626.29 L199.08,631.91 L199.23,627.38 L199.37,634.49 L199.52,630.45 L199.67,626.85 L199.82,629.8 L199.96,630.51 L200.11,626.03 L200.26,625.54 L200.41,630.12 L200.55,626.18 L200.7,627.43 L200.85,628.37 L201,633 L201.15,628.1 L201.29,628.95 L201.44,629.88 L201.59,624.83 L201.74,628.18 L201.88,631.36 L202.03,628.79 L202.18,630.92 L202.33,631.95 L202.48,628.52 L202.62,626.28 L202.77,628.71 L202.92,624.81 L203.07,635.47 L203.21,630.91 L203.36,627.46 L203.51,627.41 L203.66,626.05 L203.81,631.72 L203.95,627.09 L204.1,630.69 L204.25,622.02 L204.4,627.12 L204.54,632.35 L204.69,624.15 L204.84,626.9 L204.99,626.22 L205.14,624.81 L205.28,626.37 L205.43,634.23 L205.58,626.38 L205.73,629.06 L205.87,628.2 L206.02,630.27 L206.17,625.11 L206.32,626.99 L206.46,630.1 L206.61,626.33 L206.76,626.59 L206.91,634.8 L207.06,629.77 L207.2,624.96 L207.35,626.42 L207.5,627.6 L207.65,627.57 L207.79,621.83 L207.94,628.79 L208.09,626.2 L208.24,625.34 L208.39,628.69 L208.53,631.43 L208.68,626.36 L208.83,628.8 L208.98,630.2 L209.12,633.09 L209.27,630.15 L209.42,631.2 L209.57,631.6 L209.72,631.04 L209.86,630.95 L210.01,631.82 L210.16,628.86 L210.31,628.36 L210.45,627.63 L210.6,628.16 L210.75,629.39 L210.9,626.29 L211.04,631.75 L211.19,633.22 L211.34,628.88 L211.49,628.68 L211.64,628.58 L211.78,625.53 L211.93,625.92 L212.08,630.26 L212.23,631.96 L212.37,627.79 L212.52,628.16 L212.67,628.21 L212.82,629.39 L212.97,629.36 L213.11,628.02 L213.26,628.29 L213.41,628.71 L213.56,630.83 L213.7,630.19 L213.85,628.3 L214,627.51 L214.15,631.05 L214.3,632.63 L214.44,628.53 L214.59,628.29 L214.74,628.88 L214.89,630.62 L215.03,627.11 L215.18,626.84 L215.33,629.68 L215.48,629.95 L215.62,628.83 L215.77,628.51 L215.92,629.85 L216.07,629.65 L216.22,629.71 L216.36,628.42 L216.51,628.9 L216.66,627.74 L216.81,628.1 L216.95,629.41 L217.1,626.87 L217.25,629.98 L217.4,627.78 L217.55,627.93 L217.69,628.28 L217.84,631.13 L217.99,630.94 L218.14,627.6 L218.28,629.34 L218.43,631.46 L218.58,630.49 L218.73,627.92 L218.88,629.5 L219.02,629.44 L219.17,629.25 L219.32,631.02 L219.47,628.22 L219.61,628.63 L219.76,629.9 L219.91,627.93 L220.06,630 L220.21,629.97 L220.35,629.85 L220.5,628.77 L220.65,629.49 L220.8,629.63 L220.94,630.19 L221.09,629.29 L221.24,629.43 L221.39,628.93 L221.53,628.88 L221.68,629.56 L221.83,628.22 L221.98,629.03 L222.13,629.01 L222.27,629.39 L222.42,628.54 L222.57,627.66 L222.72,628.84 L222.86,629.22 L223.01,629.59 L223.16,628.91 L223.31,628.98 L223.46,630.55 L223.6,630.51 L223.75,629.89 L223.9,629.23 L224.05,630.69 L224.19,630.06 L224.34,629.29 L224.49,628.54 L224.64,630.17 L224.79,629.93 L224.93,629.65 L225.08,628.9 L225.23,629.58 L225.38,629 L225.52,628.36 L225.67,629.07 L225.82,629.07 L225.97,628.99 L226.11,629.93 L226.26,630.63 L226.41,628.66 L226.56,630.46 L226.71,629.35 L226.85,629.69 L227,631.06 L227.15,628.53 L227.3,629.26 L227.44,627.96 L227.59,629.01 L227.74,628.4 L227.89,628.19 L228.04,629.39 L228.18,629.49 L228.33,629.24 L228.48,627.38 L228.63,629.99 L228.77,628.06 L228.92,628.52 L229.07,629.61 L229.22,630.14 L229.37,627.83 L229.51,629.09 L229.66,629.46 L229.81,628.65 L229.96,629.19 L230.1,628.98 L230.25,629.06 L230.4,629.65 L230.55,629.03 L230.69,629.23 L230.84,628.49 L230.99,629.15 L231.14,628.71 L231.29,630.65 L231.43,628.42 L231.58,629.36 L231.73,629.9 L231.88,628.7 L232.02,628.36 L232.17,627.69 L232.32,629.63 L232.47,628.18 L232.62,629.44 L232.76,629.17 L232.91,629.58 L233.06,628.83 L233.21,628.76 L233.35,629.14 L233.5,628.81 L233.65,629.16 L233.8,628.56 L233.95,629.08 L234.09,628.35 L234.24,629.22 L234.39,629.06 L234.54,629.79 L234.68,628.65 L234.83,629.96 L234.98,629.09 L235.13,629.17 L235.28,629.27 L235.42,629.1 L235.57,628.9 L235.72,629.84 L235.87,629.35 L236.01,629.88 L236.16,628.56 L236.31,628.63 L236.46,629.08 L236.6,628.66 L236.75,628.21 L236.9,629.08 L237.05,629.44 L237.2,629.5 L237.34,629.31 L237.49,628.44 L237.64,628.12 L237.79,629.9 L237.93,629.91 L238.08,628.12 L238.23,628.54 L238.38,629.27 L238.53,628.82 L238.67,629.72 L238.82,628.11 L238.97,628.91 L239.12,629.86 L239.26,629.03 L239.41,629.2 L239.56,629.37 L239.71,628.99 L239.86,629.37 L240,629.66 L240.15,628.95 L240.3,629.81 L240.45,629.23 L240.59,628.77 L240.74,629.5 L240.89,629.76 L241.04,629.15 L241.18,629.17 L241.33,629.3 L241.48,628.95 L241.63,628.72 L241.78,627.75 L241.92,629.68 L242.07,629.25 L242.22,630.12 L242.37,628.58 L242.51,629.43 L242.66,628.1 L242.81,629.12 L242.96,628.81 L243.11,629.28 L243.25,628.86 L243.4,628.3 L243.55,629.82 L243.7,628.07 L243.84,628.81 L243.99,628.29 L244.14,629.17 L244.29,628.92 L244.44,628.62 L244.58,629.09 L244.73,628.14 L244.88,627.99 L245.03,629.04 L245.17,628.81 L245.32,629.44 L245.47,628.55 L245.62,630.82 L245.77,628.93 L245.91,628.27 L246.06,629.54 L246.21,628.63 L246.36,630.83 L246.5,630.25 L246.65,627.13 L246.8,627.62 L246.95,630.3 L247.09,634.89 L247.24,625.29 L247.39,625.2 L247.54,631.35 L247.69,629.93 L247.83,625.61 L247.98,632.47 L248.13,628.58 L248.28,629.17 L248.42,628.97 L248.57,630.98 L248.72,628.33 L248.87,628.77 L249.02,628.7 L249.16,629.36 L249.31,629.52 L249.46,624.88 L249.6,629 L250.4,553.7 L251.2,600 L251.9,680.3 L252.6,629 L252.71,631.43 L252.86,631.78 L253,625.41 L253.15,629.42 L253.3,626.88 L253.45,630.09 L253.6,634.04 L253.74,632.06 L253.89,628.11 L254.04,627.67 L254.19,631.74 L254.33,628.69 L254.48,633.16 L254.63,629.22 L254.78,627.93 L254.93,629.41 L255.07,628 L255.22,629.52 L255.37,633.32 L255.52,629.31 L255.66,628.59 L255.81,625.69 L255.96,630.7 L256.11,630.25 L256.25,629.07 L256.4,625.83 L256.55,631.88 L256.7,629.04 L256.85,631.89 L256.99,628.54 L257.14,630.91 L257.29,626.89 L257.44,624.93 L257.58,626.11 L257.73,628.7 L257.88,628.04 L258.03,629.69 L258.18,628.53 L258.32,628.78 L258.47,629.35 L258.62,629.27 L258.77,628.57 L258.91,629.59 L259.06,627.78 L259.21,628.75 L259.36,628.61 L259.51,629.9 L259.65,627.96 L259.8,628.85 L259.95,628.29 L260.1,627.97 L260.24,629.33 L260.39,629.49 L260.54,629.49 L260.69,627.67 L260.84,629.27 L260.98,629.24 L261.13,629.16 L261.28,629.09 L261.43,628.67 L261.57,629.05 L261.72,629.62 L261.87,629.03 L262.02,628.45 L262.16,629.37 L262.31,629.31 L262.46,629.24 L262.61,629.4 L262.76,629.45 L262.9,628.52 L263.05,628.96 L263.2,628.37 L263.35,629.05 L263.49,628.81 L263.64,629.04 L263.79,629.11 L263.94,629.7 L264.09,628.25 L264.23,630.04 L264.38,629.56 L264.53,629.1 L264.68,628.91 L264.82,629.18 L264.97,628.79 L265.12,629.61 L265.27,628.45 L265.42,629.15 L265.56,628.48 L265.71,629.08 L265.86,629.54 L266.01,629.47 L266.15,628.56 L266.3,629.98 L266.45,629.51 L266.6,628.78 L266.74,629.24 L266.89,628.54 L267.04,629.89 L267.19,629 L267.34,628.24 L267.48,628.82 L267.63,628.76 L267.78,629.63 L267.93,628.68 L268.07,628.77 L268.22,629.32 L268.37,629.77 L268.52,629.63 L268.67,629.41 L268.81,628.53 L268.96,629.58 L269.11,628.93 L269.26,628.27 L269.4,628.95 L269.55,628.15 L269.7,628.42 L269.85,630.25 L270,628.77 L270.14,629.38 L270.29,629.29 L270.44,628.75 L270.59,629.12 L270.73,629.04 L270.88,628.59 L271.03,629.42 L271.18,628.75 L271.32,629.41 L271.47,629 L271.62,628.84 L271.77,628.99 L271.92,628.54 L272.06,629.42 L272.21,630 L272.36,629.79 L272.51,628.86 L272.65,629.67 L272.8,629.22 L272.95,629.37 L273.1,628.72 L273.25,629.18 L273.39,630.15 L273.54,629.8 L273.69,629.52 L273.84,629.42 L273.98,629.91 L274.13,628.91 L274.28,628.39 L274.43,629.23 L274.58,629.68 L274.72,629.79 L274.87,629.3 L275.02,628.76 L275.17,629.13 L275.31,629.07 L275.46,629.36 L275.61,628.92 L275.76,628.78 L275.91,628.06 L276.05,630.43 L276.2,629.36 L276.35,628.36 L276.5,629.76 L276.64,629.16 L276.79,630.29 L276.94,628.94 L277.09,629.28 L277.23,629.3 L277.38,628.96 L277.53,628.93 L277.68,629.99 L277.83,630 L277.97,629.72 L278.12,629.98 L278.27,629.43 L278.42,628.87 L278.56,628.82 L278.71,629.32 L278.86,628.65 L279.01,629.87 L279.16,629.5 L279.3,629.04 L279.45,629.52 L279.6,629.62 L279.75,627.68 L279.89,628.48 L280.04,629.43 L280.19,630.37 L280.34,628.58 L280.49,628.63 L280.63,629.64 L280.78,629.4 L280.93,628.86 L281.08,630.77 L281.22,629.54 L281.37,628.27 L281.52,628.43 L281.67,629.26 L281.81,628.71 L281.96,629 L282.11,628.44 L282.26,628.8 L282.41,629.07 L282.55,629.84 L282.7,629.81 L282.85,629.86 L283,628.95 L283.14,629.3 L283.29,629.69 L283.44,629 L283.59,629.97 L283.74,628.96 L283.88,629.46 L284.03,629.16 L284.18,629.92 L284.33,628.33 L284.47,629.33 L284.62,629.66 L284.77,629.95 L284.92,629.39 L285.07,629.94 L285.21,627.5 L285.36,628.97 L285.51,629.26 L285.66,628.83 L285.8,629.56 L285.95,627.95 L286.1,629.35 L286.25,628.19 L286.39,627.59 L286.54,629.78 L286.69,629.39 L286.84,629.97 L286.99,629.52 L287.13,628.33 L287.28,628.65 L287.43,630.27 L287.58,629.26 L287.72,628.93 L287.87,628.52 L288.02,629.5 L288.17,630.11 L288.32,629.27 L288.46,628.84 L288.61,629.3 L288.76,629.24 L288.91,630 L289.05,628.89 L289.2,629.7 L289.35,628.81 L289.5,628.87 L289.65,628.96 L289.79,629.43 L289.94,628.51 L290.09,629.4 L290.24,629.36 L290.38,629.37 L290.53,629.69 L290.68,628.57 L290.83,628.74 L290.98,629.35 L291.12,629.06 L291.27,630 L291.42,628.62 L291.57,628.92 L291.71,629.33 L291.86,628.77 L292.01,629.69 L292.16,628.61 L292.3,628.74 L292.45,629.59 L292.6,629.13 L292.75,629.24 L292.9,629.69 L293.04,628.88 L293.19,630.87 L293.34,628.55 L293.49,629.8 L293.63,629.56 L293.78,629.15 L293.93,629.63 L294.08,628 L294.23,628.35 L294.37,629.54 L294.52,628.49 L294.67,628.61 L294.82,630.65 L294.96,628.63 L295.11,628.96 L295.26,628.78 L295.41,629.08 L295.56,627.95 L295.7,628.4 L295.85,628.26 L296,628.02 L296.15,628.05 L296.29,629.25 L296.44,629.43 L296.59,629.62 L296.74,628.52 L296.88,627.81 L297.03,628.78 L297.18,628.69 L297.33,628.63 L297.48,630.78 L297.62,628.27 L297.77,629.15 L297.92,628.8 L298.07,629.16 L298.21,629.44 L298.36,629.17 L298.51,628.37 L298.66,629.03 L298.81,628.63 L298.95,629.73 L299.1,628.26 L299.25,629.25 L299.4,629.92 L299.54,629.93 L299.69,628.79 L299.84,629.19 L299.99,629.33 L300.14,629.3 L300.28,628.73 L300.43,629.07 L300.58,629.79 L300.73,629.83 L300.87,629.76 L301.02,629.69 L301.17,627.72 L301.32,629.35 L301.47,629.86 L301.61,630.39 L301.76,629.39 L301.91,629.88 L302.06,628.27 L302.2,629.35 L302.35,628.32 L302.5,628.73 L302.65,628.11 L302.79,629.27 L302.94,629.4 L303.09,629.69 L303.24,629.68 L303.39,628.39 L303.53,629.21 L303.68,629.59 L303.83,629.6 L303.98,629.19 L304.12,629.18 L304.27,629.12 L304.42,629.01 L304.57,629.35 L304.72,628.82 L304.86,628.27 L305.01,628.77 L305.16,629.02 L305.31,628.85 L305.45,629.43 L305.6,628.36 L305.75,629.92 L305.9,629.85 L306.05,628.93 L306.19,629.54 L306.34,628.89 L306.49,630.88 L306.64,628.37 L306.78,628.95 L306.93,629.2 L307.08,628.35 L307.23,629.6 L307.37,629.85 L307.52,629.57 L307.67,628.45 L307.82,629.72 L307.97,628.03 L308.11,628.87 L308.26,629.54 L308.41,628.57 L308.56,628.29 L308.7,628.12 L308.85,629.34 L309,629.4 L309.15,629.4 L309.3,628.36 L309.44,628.15 L309.59,630.23 L309.74,628.86 L309.89,628.52 L310.03,629.49 L310.18,629.21 L310.33,628.16 L310.48,629.31 L310.63,628.57 L310.77,628.89 L310.92,628.74 L311.07,629.17 L311.22,629.34 L311.36,630.03 L311.51,628.69 L311.66,628.86 L311.81,629.6 L311.95,628.15 L312.1,629.24 L312.25,629.47 L312.4,628.7 L312.55,629.1 L312.69,628.5 L312.84,628.92 L312.99,628.6 L313.14,628.84 L313.28,630.1 L313.43,630.04 L313.58,628.77 L313.73,628.32 L313.88,628.54 L314.02,629.02 L314.17,628.63 L314.32,629.44 L314.47,628.04 L314.61,628.92 L314.76,628.96 L314.91,629.66 L315.06,629.35 L315.21,628.83 L315.35,629.88 L315.5,628.9 L315.65,628.09 L315.8,628.27 L315.94,629.69 L316.09,628.73 L316.24,629.33 L316.39,629.69 L316.54,628.48 L316.68,629.09 L316.83,628.78 L316.98,630.9 L317.13,629.34 L317.27,629.58 L317.42,629.28 L317.57,628.92 L317.72,629.17 L317.86,629.88 L318.01,629.11 L318.16,629.92 L318.31,628.45 L318.46,629.71 L318.6,629.35 L318.75,629.28 L318.9,630.52 L319.05,629.02 L319.19,628.39 L319.34,629.81 L319.49,628.97 L319.64,628.86 L319.79,630.34 L319.93,628.62 L320.08,628.58 L320.23,628.27 L320.38,629.24 L320.52,629.46 L320.67,629.5 L320.82,629.32 L320.97,629.27 L321.12,628.59 L321.26,629.72 L321.41,628.01 L321.56,629.28 L321.71,628.63 L321.85,629.19 L322,629.65 L322.15,628.77 L322.3,629.39 L322.44,629.44 L322.59,629.62 L322.74,628.93 L322.89,628.62 L323.04,628.38 L323.18,629.36 L323.33,629.82 L323.48,629.09 L323.63,628.78 L323.77,630.04 L323.92,629.23 L324.07,629.43 L324.22,629.04 L324.37,629.85 L324.51,629.65 L324.66,629.45 L324.81,629.26 L324.96,627.96 L325.1,629.23 L325.25,629 L325.4,628.41 L325.55,629.51 L325.7,629.5 L325.84,629.35 L325.99,628.92 L326.14,628.84 L326.29,628.66 L326.43,630.45 L326.58,627.89 L326.73,629.64 L326.88,628.59 L327.02,628.71 L327.17,629.01 L327.32,629.12 L327.47,629.04 L327.62,628.78 L327.76,629.62 L327.91,628.64 L328.06,629.34 L328.21,628.73 L328.35,629.55 L328.5,629.11 L328.65,629.44 L328.8,628.68 L328.95,628.55 L329.09,628.78 L329.24,629.07 L329.39,628.85 L329.54,629.57 L329.68,629.23 L329.83,629.1 L329.98,628.91 L330.13,628.55 L330.28,630.45 L330.42,628.68 L330.57,628.76 L330.72,630.34 L330.87,629.86 L331.01,629.2 L331.16,627.55 L331.31,629.16 L331.46,629.18 L331.61,629.7 L331.75,629.07 L331.9,629.12 L332.05,627.56 L332.2,629.04 L332.34,629.18 L332.49,629.33 L332.64,628.13 L332.79,629.03 L332.93,629.55 L333.08,629.2 L333.23,628.96 L333.38,630.05 L333.53,629.98 L333.67,629.19 L333.82,629.57 L333.97,630.44 L334.12,630.19 L334.26,628.97 L334.41,629.63 L334.56,629.48 L334.71,629.09 L334.86,629.87 L335,629.4 L335.15,628.69 L335.3,630.01 L335.45,628.72 L335.59,628.16 L335.74,627.58 L335.89,629.56 L336.04,628.22 L336.19,628.98 L336.33,629.03 L336.48,629.04 L336.63,630.08 L336.78,629.39 L336.92,628.53 L337.07,630.1 L337.22,629.21 L337.37,628.23 L337.51,629.24 L337.66,629.35 L337.81,629.39 L337.96,629.14 L338.11,630.15 L338.25,629.93 L338.4,628.89 L338.55,628.83 L338.7,628.89 L338.84,628.95 L338.99,628.93 L339.14,628.6 L339.29,629.29 L339.44,629.11 L339.58,629.25 L339.73,629.98 L339.88,629.23 L340.03,629.74 L340.17,630.02 L340.32,629.58 L340.47,627.5 L340.62,630.5 L340.77,629.22 L340.91,629.03 L341.06,629.12 L341.21,628.22 L341.36,628.84 L341.5,628.29 L341.65,628.26 L341.8,629.44 L341.95,629.42 L342.09,629.49 L342.24,629.77 L342.39,630.62 L342.54,628.65 L342.69,628.38 L342.83,629.23 L342.98,629.97 L343.13,628.76 L343.28,627.87 L343.42,630.13 L343.57,629.26 L343.72,629.03 L343.87,629.65 L344.02,629.21 L344.16,628.43 L344.31,629.33 L344.46,629.89 L344.61,629.68 L344.75,628.19 L344.9,629.51 L345.05,629.54 L345.2,628.41 L345.35,627.39 L345.49,628.77 L345.64,629.05 L345.79,628.61 L345.94,629.74 L346.08,628.21 L346.23,627.88 L346.38,628.93 L346.53,628.41 L346.68,628.85 L346.82,629.04 L346.97,628.99 L347.12,630.08 L347.27,628.65 L347.41,628.5 L347.56,629.64 L347.71,628.95 L347.86,628.68 L348,630.06 L348.15,628.37 L348.3,630.61 L348.45,628.79 L348.6,629.36 L348.74,629.24 L348.89,628.32 L349.04,628.53 L349.19,629.11 L349.33,629.37 L349.48,629.47 L349.63,628.61 L349.78,629.07 L349.93,628.61 L350.07,629.23 L350.22,629.31 L350.37,627.98 L350.52,629.67 L350.66,628.83 L350.81,628.92 L350.96,628.67 L351.11,629.41 L351.26,628.91 L351.4,628.73 L351.55,629.72 L351.7,629.79 L351.85,628.86 L351.99,629.5 L352.14,630.01 L352.29,629.52 L352.44,628.57 L352.58,629.41 L352.73,629.25 L352.88,629.79 L353.03,630.21 L353.18,629.41 L353.32,628.44 L353.47,628.55 L353.62,628.21 L353.77,629.46 L353.91,629.36 L354.06,628.98 L354.21,628.59 L354.36,629.75 L354.51,630.03 L354.65,629.57 L354.8,629.93 L354.95,629.04 L355.1,629.56 L355.24,629.45 L355.39,629.5 L355.54,629.68 L355.69,628.87 L355.84,628.51 L355.98,629.18 L356.13,629.38 L356.28,628.48 L356.43,628.24 L356.57,629.81 L356.72,628.46 L356.87,629.49 L357.02,629.42 L357.17,629.52 L357.31,629.9 L357.46,630.19 L357.61,629.2 L357.76,629.8 L357.9,629.14 L358.05,629.77 L358.2,628.63 L358.35,628.97 L358.49,628.4 L358.64,627.76 L358.79,628.88 L358.94,628.43 L359.09,630.62 L359.23,628.68 L359.38,629.26 L359.53,628.84 L359.68,628.49 L359.82,628.74 L359.97,629.53 L360.12,630.03 L360.27,629.64 L360.42,631.04 L360.56,629.96 L360.71,629.46 L360.86,628.74 L361.01,629.18 L361.15,628.31 L361.3,628.46 L361.45,628.2 L361.6,627.87 L361.75,628.2 L361.89,628.83 L362.04,628.73 L362.19,628.77 L362.34,629.21 L362.48,628.62 L362.63,629.37 L362.78,629.64 L362.93,629.47 L363.07,628.51 L363.22,629.55 L363.37,628.98 L363.52,629.11 L363.67,629.98 L363.81,629.1 L363.96,629.06 L364.11,630.53 L364.26,628.43 L364.4,629.87 L364.55,629.32 L364.7,630.74 L364.85,629.55 L365,629.76 L365.14,629.79 L365.29,629.46 L365.44,628.96 L365.59,629.44 L365.73,629.31 L365.88,628.69 L366.03,628.07 L366.18,629.41 L366.33,629.88 L366.47,628.95 L366.62,628.26 L366.77,628.85 L366.92,628.73 L367.06,629.92 L367.21,628.49 L367.36,630.57 L367.51,627.97 L367.65,629.57 L367.8,629.58 L367.95,629.11 L368.1,628.43 L368.25,629.55 L368.39,629.34 L368.54,628.82 L368.69,629.04 L368.84,629.72 L368.98,628.71 L369.13,629.32 L369.28,629.36 L369.43,628.72 L369.58,629.4 L369.72,628.86 L369.87,629.2 L370.02,629.12 L370.17,628.25 L370.31,629.81 L370.46,628.78 L370.61,629.08 L370.76,629.9 L370.91,627.99 L371.05,628.67 L371.2,629.53 L371.35,629.11 L371.5,629.99 L371.64,629.74 L371.79,629.76 L371.94,628.98 L372.09,629.45 L372.24,630.19 L372.38,628.88 L372.53,629.92 L372.68,628.83 L372.83,629.3 L372.97,628.79 L373.12,628.59 L373.27,628.7 L373.42,627.83 L373.56,628.89 L373.71,628.3 L373.86,629.42 L374.01,629.51 L374.16,629.01 L374.3,629.76 L374.45,628.71 L374.5,629.8" stroke="#e0104a" stroke-width="0.75"/>
<path d="M374.5,629.8 L387.5,484.5 L399.7,629.8" stroke="#e0104a" stroke-width="0.5"/>
<path d="M399.7,629.8 L399.72,629.54 L399.86,629.53 L400.01,628.45 L400.16,628.89 L400.31,628.03 L400.45,630.28 L400.6,629.23 L400.75,628.02 L400.9,628.97 L401.05,629.71 L401.19,629.2 L401.34,628.55 L401.49,629.05 L401.64,628.98 L401.78,627.99 L401.93,629.1 L402.08,629.66 L402.23,630.72 L402.38,628.84 L402.52,631.07 L402.67,630.16 L402.82,629.18 L402.97,628.44 L403.11,630.16 L403.26,629.59 L403.41,630.08 L403.56,629.23 L403.7,628.61 L403.85,628.82 L404,628.5 L404.15,628.46 L404.3,629.65 L404.44,629.27 L404.59,629.67 L404.74,628.99 L404.89,631.4 L405.03,629.58 L405.18,628.92 L405.33,629.1 L405.48,630.03 L405.63,629.52 L405.77,629.05 L405.92,629.45 L406.07,629.27 L406.22,629.44 L406.36,628.97 L406.51,628.83 L406.66,629.21 L406.81,629.46 L406.96,629.86 L407.1,629.86 L407.25,628.23 L407.4,627.99 L407.55,630.43 L407.69,629.95 L407.84,628.76 L407.99,628.96 L408.14,629.85 L408.28,628.83 L408.43,628.83 L408.58,629.72 L408.73,629.14 L408.88,628.92 L409.02,629.73 L409.17,629.05 L409.32,629.09 L409.47,628.42 L409.61,629.86 L409.76,630.06 L409.91,629.51 L410.06,628.69 L410.21,629 L410.35,628.45 L410.5,628.37 L410.65,629.36 L410.8,629 L410.94,628.52 L411.09,629.41 L411.24,629.04 L411.39,628.64 L411.54,630.15 L411.68,628.63 L411.83,630.11 L411.98,630.99 L412.13,628.97 L412.27,628.65 L412.42,630.07 L412.57,629.11 L412.72,628.71 L412.87,630.01 L413.01,629.58 L413.16,628.6 L413.31,628.97 L413.46,630.09 L413.6,628.9 L413.75,629.24 L413.9,630.18 L414.05,628.42 L414.19,628.89 L414.34,628.2 L414.49,629.3 L414.64,629.58 L414.79,628.21 L414.93,629.11 L415.08,629.03 L415.23,629.63 L415.38,630.38 L415.52,629.56 L415.67,628.7 L415.82,628.55 L415.97,627.91 L416.12,628.66 L416.26,630.37 L416.41,628.75 L416.56,629.43 L416.71,628.91 L416.85,628.72 L417,628.68 L417.15,628.1 L417.3,629.91 L417.45,629.33 L417.59,629.41 L417.74,629.6 L417.89,629.34 L418.04,629.46 L418.18,629.67 L418.33,629.09 L418.48,628.96 L418.63,628.33 L418.77,629.52 L418.92,628.4 L419.07,629.59 L419.22,629.28 L419.37,629.15 L419.51,629.24 L419.66,629.69 L419.81,629.63 L419.96,629.18 L420.1,629.37 L420.25,629.85 L420.4,628.75 L420.55,629.46 L420.7,629.3 L420.84,629.01 L420.99,630.29 L421.14,629.49 L421.29,628.84 L421.43,629.77 L421.58,630.49 L421.73,629.5 L421.88,629.7 L422.03,629.49 L422.17,629.47 L422.32,628.68 L422.47,628.44 L422.62,628.8 L422.76,628.54 L422.91,629.49 L423.06,629.51 L423.21,628.81 L423.35,629.34 L423.5,629.5 L423.65,630.15 L423.8,629.21 L423.95,628.86 L424.09,629.11 L424.24,629.47 L424.39,628.83 L424.54,629.52 L424.68,629.47 L424.83,630.87 L424.98,629.26 L425.13,628.06 L425.28,630.29 L425.42,630.4 L425.57,628.51 L425.72,628.83 L425.87,628.71 L426.01,627.98 L426.16,629.78 L426.31,628.81 L426.46,628.55 L426.61,628.76 L426.75,629.42 L426.9,628.74 L427.05,629.35 L427.2,628.62 L427.34,628.76 L427.49,629.32 L427.64,627.95 L427.79,629.37 L427.94,629.08 L428.08,629.53 L428.23,628.99 L428.38,629.3 L428.53,628.58 L428.67,629.86 L428.82,629.09 L428.97,630.15 L429.12,629.22 L429.26,628.88 L429.41,628.69 L429.56,627.88 L429.71,629.7 L429.86,629.58 L430,628.8 L430.15,629.21 L430.3,629.35 L430.45,628.27 L430.59,628.33 L430.74,629.45 L430.89,629.12 L431.04,629.69 L431.19,629.08 L431.33,629.29 L431.48,628.55 L431.63,630.5 L431.78,629.06 L431.92,629.68 L432.07,630.6 L432.22,629.36 L432.37,629.98 L432.52,629.85 L432.66,628.41 L432.81,628.87 L432.96,629.46 L433.11,629.38 L433.25,628.6 L433.4,629.27 L433.55,629.05 L433.7,629.16 L433.84,629.55 L433.99,629.39 L434.14,629.2 L434.29,630.63 L434.44,629.47 L434.58,628.65 L434.73,629.83 L434.88,630.08 L435.03,628.87 L435.17,628.97 L435.32,629.34 L435.47,629.35 L435.62,629.08 L435.77,629.04 L435.91,629.23 L436.06,629.22 L436.21,629.91 L436.36,628.98 L436.5,629.11 L436.65,629.49 L436.8,629.36 L436.95,628.6 L437.1,628.82 L437.24,629.15 L437.39,629.49 L437.54,629.53 L437.69,628.98 L437.83,628.63 L437.98,628.91 L438.13,629.92 L438.28,628.69 L438.42,629.03 L438.57,629.83 L438.72,629.38 L438.87,630.32 L439.02,628.92 L439.16,628.6 L439.31,628.89 L439.46,630.08 L439.61,629.29 L439.75,628.89 L439.9,629.25 L440.05,629.06 L440.2,629.86 L440.35,629.5 L440.49,628.96 L440.64,629.06 L440.79,629.22 L440.94,628.12 L441.08,629.55 L441.23,629.88 L441.38,628.89 L441.53,630.02 L441.68,630.05 L441.82,629.37 L441.97,628.94 L442.12,630.31 L442.27,629.16 L442.41,629.62 L442.56,628.4 L442.71,629.24 L442.86,629.12 L443.01,629.76 L443.15,628.72 L443.3,629.03 L443.45,630.17 L443.6,629.18 L443.74,629.32 L443.89,628.84 L444.04,628.62 L444.19,629.74 L444.33,629.04 L444.48,628.33 L444.63,629.59 L444.78,629.16 L444.93,629.29 L445.07,629.51 L445.22,628.14 L445.37,630.29 L445.52,628.48 L445.66,629.24 L445.81,628.93 L445.96,629.26 L446.11,630.35 L446.26,628.65 L446.4,628.7 L446.55,628.13 L446.7,628.9 L446.85,628.41 L446.99,629.62 L447.14,628.86 L447.29,629.29 L447.44,628.34 L447.59,629.81 L447.73,629.19 L447.88,629.5 L448.03,629.26 L448.18,628.91 L448.32,629.11 L448.47,628.77 L448.62,628.04 L448.77,629.55 L448.91,628.46 L449.06,629.99 L449.21,629.7 L449.36,628.09 L449.51,629.57 L449.65,629.06 L449.8,628.89 L449.95,629.08 L450.1,629.33 L450.24,629.61 L450.39,628.15 L450.54,629.15 L450.69,629.62 L450.84,628.74 L450.98,629.36 L451.13,628.98 L451.28,630.12 L451.43,629.23 L451.57,628.43 L451.72,628.36 L451.87,629.85 L452.02,628.62 L452.17,629.57 L452.31,629.43 L452.46,629.4 L452.61,629.09 L452.76,628.08 L452.9,628.63 L453.05,629.58 L453.2,629.35 L453.35,629.36 L453.5,628.94 L453.64,628.18 L453.79,629.16 L453.94,629 L454.09,628.24 L454.23,628.23 L454.38,629.09 L454.53,629.36 L454.68,628.79 L454.82,628.81 L454.97,629.11 L455.12,629.04 L455.27,629.53 L455.42,628.46 L455.56,628.11 L455.71,630.21 L455.86,629.62 L456.01,630.29 L456.15,628.69 L456.3,628.83 L456.45,629.47 L456.6,629.24 L456.75,628.01 L456.89,629.84 L457.04,627.71 L457.19,629.55 L457.34,628.46 L457.48,629.77 L457.63,629.67 L457.78,629.25 L457.93,628.55 L458.08,628.55 L458.22,629.3 L458.37,629.22 L458.52,628.34 L458.67,630.05 L458.81,629.53 L458.96,629.45 L459.11,628.74 L459.26,629.71 L459.4,629.88 L459.55,629.26 L459.7,629.66 L459.85,629.45 L460,628.84 L460.14,628.36 L460.29,627.96 L460.44,629.7 L460.59,628.75 L460.73,630.08 L460.88,628.21 L461.03,630.12 L461.18,629.33 L461.33,629.34 L461.47,629.02 L461.62,629.25 L461.77,629.71 L461.92,628.14 L462.06,628.9 L462.21,629.23 L462.36,630.29 L462.51,628.57 L462.66,629.53 L462.8,629.97 L462.95,628.99 L463.1,630.55 L463.25,630.3 L463.39,629.34 L463.54,629.95 L463.69,630.02 L463.84,629.25 L463.98,629.8 L464.13,629.76 L464.28,629.9 L464.43,629.1 L464.58,629.25 L464.72,627.78 L464.87,629.93 L465.02,629.75 L465.17,630.15 L465.31,628.36 L465.46,629.15 L465.61,629.84 L465.76,628.49 L465.91,630.48 L466.05,629.54 L466.2,628.13 L466.35,628.66 L466.5,629.65 L466.64,629.07 L466.79,628.16 L466.94,629.42 L467.09,629.24 L467.24,628.58 L467.38,628.79 L467.53,628.59 L467.68,629.33 L467.83,629.42 L467.97,628.6 L468.12,629.49 L468.27,628.98 L468.42,629.49 L468.57,628.88 L468.71,629.01 L468.86,628.97 L469.01,629.39 L469.16,629.24 L469.3,629.73 L469.45,629.24 L469.6,629.36 L469.75,630.16 L469.89,629.01 L470.04,629.23 L470.19,629.59 L470.34,629.9 L470.49,629.06 L470.63,629.34 L470.78,629.98 L470.93,629.11 L471.08,629.14 L471.22,629.3 L471.37,629.23 L471.52,628.38 L471.67,629 L471.82,629.42 L471.96,629.09 L472.11,629.09 L472.26,628.87 L472.41,629.01 L472.55,629.65 L472.7,628.77 L472.85,628.03 L473,629.47 L473.15,629.66 L473.29,629.03 L473.44,628.27 L473.59,628.76 L473.74,629.57 L473.88,627.74 L474.03,629.04 L474.18,628.81 L474.33,630.32 L474.47,630.33 L474.62,628.06 L474.77,628.77 L474.92,629.21 L475.07,629.92 L475.21,628.24 L475.36,630.43 L475.51,628.62 L475.66,628.55 L475.8,628.86 L475.95,628.59 L476.1,628.93 L476.25,629.42 L476.4,629.92 L476.54,630.02 L476.69,629.64 L476.84,628.73 L476.99,627.57 L477.13,628.75 L477.28,629.15 L477.43,629.92 L477.58,629.35 L477.73,629.12 L477.87,629.99 L478.02,630.26 L478.17,629.79 L478.32,628.72 L478.46,630.04 L478.61,628.36 L478.76,630.71 L478.91,628.96 L479.05,628.8 L479.2,628.98 L479.35,630.34 L479.5,630.67 L479.65,628.13 L479.79,630.26 L479.94,629.67 L480.09,629.5 L480.24,629.98 L480.38,629.19 L480.53,630.38 L480.68,629.55 L480.83,629.05 L480.98,628.83 L481.12,629.66 L481.27,628.96 L481.42,629.26 L481.57,628.96 L481.71,629.49 L481.86,628.77 L482.01,629.23 L482.16,629.47 L482.31,629.18 L482.45,628.53 L482.6,629.59 L482.75,629.86 L482.9,629.17 L483.04,628.6 L483.19,629.31 L483.34,629.46 L483.49,629.23 L483.64,629.48 L483.78,629.4 L483.93,628.27 L484.08,629.36 L484.23,629.16 L484.37,630.28 L484.52,628.85 L484.67,628.17 L484.82,630.28 L484.96,628.84 L485.11,628.82 L485.26,629.21 L485.41,629.14 L485.56,628.13 L485.7,628.93 L485.85,629.86 L486,628.77 L486.15,628.71 L486.29,628.36 L486.44,628.93 L486.59,629.12 L486.74,629 L486.89,630.17 L487.03,627.86 L487.18,629.05 L487.33,629.89 L487.48,628.29 L487.62,628.19 L487.77,630.72 L487.92,628.61 L488.07,628.11 L488.22,628.22 L488.36,629.29 L488.51,630.09 L488.66,629.78 L488.81,629.34 L488.95,629.34 L489.1,629.23 L489.25,629.5 L489.4,628.57 L489.54,629.88 L489.69,630.2 L489.84,628.4 L489.99,629.18 L490.14,629.17 L490.28,628.14 L490.43,629.17 L490.58,627.97 L490.73,628.58 L490.87,629.49 L491.02,628.26 L491.17,629.17 L491.32,628.37 L491.47,629.48 L491.61,628.72 L491.76,628.22 L491.91,629.32 L492.06,628.57 L492.2,629.24 L492.35,629.66 L492.5,629.36 L492.65,629.27 L492.8,629.52 L492.94,628.76 L493.09,628.87 L493.24,628.67 L493.39,630.06 L493.53,629.18 L493.68,630.39 L493.83,629.96 L493.98,628.63 L494.12,630.71 L494.27,629.62 L494.42,628.93 L494.57,627.72 L494.72,629.65 L494.86,629.13 L495.01,630.01 L495.16,629.33 L495.31,629.96 L495.45,629.53 L495.6,628.42 L495.75,629.29 L495.9,629.34 L496.05,629.44 L496.19,628.86 L496.34,629.62 L496.49,629.84 L496.64,628.4 L496.78,629.72 L496.93,629.83 L497.08,628.78 L497.23,629.06 L497.38,628.6 L497.52,628.64 L497.67,628.51 L497.82,628.7 L497.97,629.17 L498.11,628.61 L498.26,629.13 L498.41,630.99 L498.56,628.11 L498.71,628.74 L498.85,630.05 L499,629.12 L499.15,628.29 L499.3,629.26 L499.44,628.88 L499.59,629.3 L499.74,628.78 L499.89,628.84 L500.03,628.74 L500.18,628.75 L500.33,629.23 L500.48,630.19 L500.63,628.63 L500.77,629.16 L500.92,629.49 L501.07,629.47 L501.22,628.62 L501.36,628.61 L501.51,628.41 L501.66,628.91 L501.81,629.39 L501.96,630.2 L502.1,628.19 L502.25,629.25 L502.4,628.95 L502.55,629.12 L502.69,627.92 L502.84,629.2 L502.99,629.75 L503.14,628.17 L503.29,628.97 L503.43,630.68 L503.58,628.93 L503.73,628.85 L503.88,628.96 L504.02,629.71 L504.17,628.08 L504.32,629.87 L504.47,629.17 L504.61,629.47 L504.76,629.4 L504.91,629.13 L505.06,628.6 L505.21,629.62 L505.35,628.94 L505.5,628.57 L505.65,628.83 L505.8,628.02 L505.94,628.41 L506.09,629 L506.24,628.88 L506.39,629.11 L506.54,629.66 L506.68,628.69 L506.83,629.73 L506.98,628.12 L507.13,629.07 L507.27,629.39 L507.42,628.88 L507.57,628.82 L507.72,628.54 L507.87,628.61 L508.01,629.78 L508.16,629.5 L508.31,629.17 L508.46,629.44 L508.6,629.12 L508.75,629.64 L508.9,628.4 L509.05,628.9 L509.2,629.32 L509.34,628.3 L509.49,629.65 L509.64,629.44 L509.79,629.06 L509.93,629.32 L510.08,629.09 L510.23,629.14 L510.38,629.65 L510.52,628.68 L510.67,628.86 L510.82,629.92 L510.97,629.95 L511.12,629.69 L511.26,630.33 L511.41,629.8 L511.56,628.98 L511.71,629.57 L511.85,629.43 L512,629.28 L512.15,629.44 L512.3,628.73 L512.45,629.49 L512.59,629.97 L512.74,629.68 L512.89,629.58 L513.04,630.33 L513.18,628.63 L513.33,628.77 L513.48,628.46 L513.63,628.73 L513.78,629.37 L513.92,630.3 L514.07,628.68 L514.22,629.19 L514.37,628.79 L514.51,629.01 L514.66,627.42 L514.81,628.92 L514.96,629.24 L515.1,629.67 L515.25,629.13 L515.4,628.08 L515.55,628.65 L515.7,629.12 L515.84,629.62 L515.99,629.14 L516.14,629.3 L516.29,630.16 L516.43,630.56 L516.58,628.12 L516.73,629.04 L516.88,630.47 L517.03,629.54 L517.17,628.66 L517.32,628.92 L517.47,629.18 L517.62,628.7 L517.76,629.25 L517.91,629.24 L518.06,628.92 L518.21,629.73 L518.36,628.3 L518.5,628.93 L518.65,629.27 L518.8,629.73 L518.95,628.3 L519.09,628.65 L519.24,628.9 L519.39,628.34 L519.54,629.15 L519.68,630.36 L519.83,629.6 L519.98,629.12 L520.13,628.65 L520.28,627.44 L520.42,629.56 L520.57,628.48 L520.72,629.41 L520.87,629.75 L521.01,628.66 L521.16,630.12 L521.31,629.7 L521.46,628.9 L521.61,628.27 L521.75,629.02 L521.9,629.02 L522.05,628.38 L522.2,629.5 L522.34,629.62 L522.49,628.54 L522.64,628.71 L522.79,628.9 L522.94,628.76 L523.08,628.73 L523.23,629.84 L523.38,629.11 L523.53,629.93 L523.67,629.69 L523.82,628.85 L523.97,629.48 L524.12,629.77 L524.27,629.38 L524.41,629.7 L524.56,628.63 L524.71,628.64 L524.86,629.86 L525,630.29 L525.15,630.02 L525.3,628.64 L525.45,628.6 L525.59,628.79 L525.74,629.11 L525.89,629.05 L526.04,628.07 L526.19,629.76 L526.33,628.72 L526.48,628.47 L526.63,628.06 L526.78,629.05 L526.92,628.48 L527.07,629.16 L527.22,628.53 L527.37,628.96 L527.52,629.13 L527.66,629.11 L527.81,629.11 L527.96,629.07 L528.11,628.19 L528.25,628.92 L528.4,629.21 L528.55,629.04 L528.7,628.63 L528.85,628.1 L528.99,628.42 L529.14,627.97 L529.29,628.6 L529.44,629.07 L529.58,629.46 L529.73,628.68 L529.88,628.38 L530.03,628.6 L530.17,629.09 L530.32,629.01 L530.47,628.08 L530.62,628.55 L530.77,628.12 L530.91,628.89 L531.06,629.38 L531.21,629.78 L531.36,628 L531.5,629.72 L531.65,629.01 L531.8,627.87 L531.95,629.23 L532.1,628 L532.24,628.66 L532.39,629.57 L532.54,629.95 L532.69,628.78 L532.83,628.18 L532.98,629.21 L533.13,629.07 L533.28,627.93 L533.43,628.66 L533.57,629.56 L533.72,629.59 L533.87,628.78 L534.02,628.69 L534.16,628.04 L534.31,629.95 L534.46,630.4 L534.61,628.9 L534.75,628.85 L534.9,628.28 L535.05,628.66 L535.2,630.14 L535.35,628.64 L535.49,629.1 L535.64,628.59 L535.79,628.01 L535.94,628.7 L536.08,628.42 L536.23,627.98 L536.38,628.11 L536.53,627.68 L536.68,628.36 L536.82,629.72 L536.97,629.55 L537.12,629.2 L537.27,628.74 L537.41,629.03 L537.56,629 L537.71,628.02 L537.86,628.47 L538.01,628.98 L538.15,628.79 L538.3,628.75 L538.45,628.17 L538.6,627.6 L538.74,628.22 L538.89,628.1 L539.04,627.76 L539.19,629.02 L539.34,627.37 L539.48,628.62 L539.63,628.93 L539.78,629.16 L539.93,629.45 L540.07,628.24 L540.22,628.14 L540.37,627.61 L540.52,628.13 L540.66,628.6 L540.81,627.68 L540.96,629.52 L541.11,628.58 L541.26,628.11 L541.4,627.39 L541.55,627.52 L541.7,628.45 L541.85,627.06 L541.99,628.82 L542.14,627.75 L542.29,627.15 L542.44,628.14 L542.59,626.85 L542.73,628.45 L542.88,627.42 L543.03,628.87 L543.18,629.15 L543.32,628.65 L543.47,627.75 L543.62,627.88 L543.77,628.81 L543.92,627.99 L544.06,628.26 L544.21,627.74 L544.36,629.54 L544.51,628.78 L544.65,628.36 L544.8,626.86 L544.95,627.4 L545.1,629.11 L545.24,628.24 L545.39,628.24 L545.54,627.87 L545.69,627.95 L545.84,628.65 L545.98,628.43 L546.13,627.93 L546.28,629.16 L546.43,628.09 L546.57,628.61 L546.72,628.7 L546.87,628.93 L547.02,628.12 L547.17,627.57 L547.31,627.59 L547.46,628.03 L547.61,628.12 L547.76,629.36 L547.9,628.23 L548.05,627.75 L548.2,628.55 L548.35,628.71 L548.5,626.87 L548.64,628.46 L548.79,627.19 L548.94,627.2 L549.09,627.42 L549.23,628.28 L549.38,627.97 L549.53,627.69 L549.68,627.75 L549.82,627.48 L549.97,626.65 L550.12,627.45 L550.27,628.47 L550.42,628.02 L550.56,628.13 L550.71,628.1 L550.86,628.6 L551.01,627.22 L551.15,628.51 L551.3,629.24 L551.45,627.82 L551.6,627.98 L551.75,628.2 L551.89,627.65 L552.04,627.51 L552.19,628.43 L552.34,628.76 L552.48,628.09 L552.63,627.7 L552.78,628.12 L552.93,628.53 L553.08,628.6 L553.22,627.64 L553.37,627.71 L553.52,626.98 L553.67,627.73 L553.81,627.48 L553.96,628.98 L554.11,626.37 L554.26,627.74 L554.41,627.37 L554.55,627.02 L554.7,628.12 L554.85,627.35 L555,626.57 L555.14,627.67 L555.29,628.82 L555.44,628.19 L555.59,627.47 L555.73,628.29 L555.88,628.18 L556.03,628.25 L556.18,628.69 L556.33,627.34 L556.47,628.83 L556.62,626.87 L556.77,627.26 L556.92,628.54 L557.06,627.12 L557.21,627.51 L557.36,626.56 L557.51,627.71 L557.66,627.37 L557.8,628.06 L557.95,627.95 L558.1,627 L558.25,627.11 L558.39,627.93 L558.54,627.46 L558.69,628 L558.84,627.83 L558.99,628.67 L559.13,627.65 L559.28,628.36 L559.43,628.08 L559.58,627.71 L559.72,628.92 L559.87,628.15 L560.02,627.9 L560.17,627.64 L560.31,626.69 L560.46,627.27 L560.61,626.76 L560.76,627.56 L560.91,628.01 L561.05,627.53 L561.2,627.21 L561.35,626.53 L561.5,627.27 L561.64,627.02 L561.79,627.04 L561.94,627.19 L562.09,627.43 L562.24,627.56 L562.38,626.57 L562.53,627.17 L562.68,627.99 L562.83,627.29 L562.97,627.41 L563.12,627.38 L563.27,627.07 L563.42,627.03 L563.57,627.59 L563.71,627.84 L563.86,626.53 L564.01,627.21 L564.16,628.44 L564.3,627.22 L564.45,627.7 L564.6,626.71 L564.75,627.24 L564.9,627.64 L565.04,626.86 L565.19,627.22 L565.34,627.17 L565.49,627.41 L565.63,626.77 L565.78,628.1 L565.93,627.77 L566.08,627.11 L566.22,626.83 L566.37,626.67 L566.52,627.6 L566.67,627.19 L566.82,626.41 L566.96,626.56 L567.11,627.23 L567.26,627.18 L567.41,628.7 L567.55,627.03 L567.7,626.98 L567.85,626.87 L568,626.88 L568.15,626.57 L568.29,627.14 L568.44,628.19 L568.59,627.86 L568.74,627.26 L568.88,626.47 L569.03,626.84 L569.18,627.7 L569.33,627.42 L569.48,626.98 L569.62,626.89 L569.77,627 L569.92,626.85 L570.07,626.65 L570.21,626.71 L570.36,626.92 L570.51,627.71 L570.66,626.84 L570.8,626.66 L570.95,627.34 L571.1,628.12 L571.25,627.81 L571.4,627.55 L571.54,627.28 L571.69,627.29 L571.84,627.75 L571.99,627.29 L572.13,626.93 L572.28,627.32 L572.43,626.4 L572.58,626.38 L572.73,628.66 L572.87,627.65 L573.02,626.11 L573.17,625.83 L573.32,627.29 L573.46,626.77 L573.61,627.07 L573.76,627.82 L573.91,627.32 L574.06,626.92 L574.2,627.18 L574.35,626.58 L574.5,625.98 L574.65,626.45 L574.79,627.16 L574.94,627.1 L575.09,626.42 L575.24,626.89 L575.38,627.37 L575.53,626.41 L575.68,626.59 L575.83,626.4 L575.98,627.26 L576.12,625.92 L576.27,627.25 L576.42,625.88 L576.57,627.11 L576.71,625.43 L576.86,627.78 L577.01,626.16 L577.16,625.87 L577.31,627.13 L577.45,626.78 L577.6,626.34 L577.75,626.43 L577.9,626.92 L578.04,627.04 L578.19,625.68 L578.34,627.26 L578.49,627.19 L578.64,627.29 L578.78,626.98 L578.93,625.7 L579.08,627.21 L579.23,626.44 L579.37,627.61 L579.52,626.72 L579.67,627.15 L579.82,627.12 L579.97,626.19 L580.11,626.1 L580.26,625.91 L580.41,625.93 L580.56,626.68 L580.7,626.37 L580.85,625.79 L581,626.71 L581.15,626.65 L581.29,627.08 L581.44,626.92 L581.59,626.91 L581.74,626.81 L581.89,626.14 L582.03,625.13 L582.18,625.79 L582.33,625.46 L582.48,625.34 L582.62,627.08 L582.77,626.21 L582.92,625.35 L583.07,625.8 L583.22,626.52 L583.36,627.25 L583.51,626.7 L583.66,626.32 L583.81,626.65 L583.95,626.99 L584.1,626.19 L584.25,625.71 L584.4,625.73 L584.55,625.12 L584.69,626.03 L584.84,624.97 L584.99,626.9 L585.14,625.53 L585.28,625.45 L585.43,626.74 L585.58,627.08 L585.73,625.42 L585.87,626.37 L586.02,626 L586.17,625.94 L586.32,625.95 L586.47,626.07 L586.61,626.32 L586.76,625.45 L586.91,626.91 L587.06,626.22 L587.2,626.19 L587.35,626.37 L587.5,624.76 L587.65,626.42 L587.8,625.19 L587.94,626.43 L588.09,625.94 L588.24,625.72 L588.39,625.39 L588.53,627 L588.68,626.32 L588.83,625.79 L588.98,626.56 L589.13,625.67 L589.27,625.99 L589.42,626.4 L589.57,626.39 L589.72,625.93 L589.86,625.67 L590.01,626.19 L590.16,625.5 L590.31,627.24 L590.45,626.96 L590.6,625.9 L590.75,624.77 L590.9,626.57 L591.05,625.37 L591.19,626.86 L591.34,625.29 L591.49,626.48 L591.64,627.38 L591.78,625.69 L591.93,625.49 L592.08,626.31 L592.23,626.67 L592.38,625.13 L592.52,625.59 L592.67,625.48 L592.82,625.76 L592.97,626.19 L593.11,626.81 L593.26,625.99 L593.41,624.62 L593.56,625.45 L593.71,626.79 L593.85,626.17 L594,626.43 L594.15,627.66 L594.3,625.88 L594.44,627.07 L594.59,626.24 L594.74,625.85 L594.89,625.75 L595.04,626.34 L595.18,624.31 L595.33,627.02 L595.48,625.28 L595.63,625.44 L595.77,625.5 L595.92,625.64 L596.07,626.32 L596.22,626.28 L596.36,625.6 L596.51,625.11 L596.66,626.45 L596.81,627.08 L596.96,625.2 L597.1,627.06 L597.25,626.43 L597.4,625.52 L597.55,627.14 L597.69,625.32 L597.84,626.11 L597.99,625.59 L598.14,626.57 L598.29,625.83 L598.43,626.53 L598.58,626.99 L598.73,625.62 L598.88,626.05 L599.02,627.47 L599.17,626.35 L599.32,626.92 L599.47,626.97 L599.62,625.17 L599.76,625.35 L599.91,625.96 L600.06,625.82 L600.21,626.5 L600.35,624.75 L600.5,625.94 L600.65,626.84 L600.8,626.03 L600.94,625.25 L601.09,625.38 L601.24,626.74 L601.39,625.9 L601.54,628.23 L601.68,626.68 L601.83,626.2 L601.98,626.37 L602.13,626.91 L602.27,627.04 L602.42,626.9 L602.57,626.19 L602.72,626.24 L602.87,627.13 L603.01,626.47 L603.16,626.56 L603.31,626.64 L603.46,626.49 L603.6,625.97 L603.75,626.24 L603.9,625.31 L604.05,626.79 L604.2,626.54 L604.34,626.98 L604.49,626.96 L604.64,626.87 L604.79,627.39 L604.93,626.62 L605.08,627.69 L605.23,625.76 L605.38,626.16 L605.53,627.33 L605.67,626.1 L605.82,626.49 L605.97,627.4 L606.12,626.67 L606.26,627.44 L606.41,626.65 L606.56,626.79 L606.71,625.98 L606.85,626.49 L607,626.58 L607.15,627.26 L607.3,626.38 L607.45,627.16 L607.59,626.59 L607.74,627 L607.89,626.68 L608.04,626.8 L608.18,627.61 L608.33,627.71 L608.48,626.85 L608.63,626.81 L608.78,626.71 L608.92,625.97 L609.07,627.26 L609.22,626.51 L609.37,627.63 L609.51,626.57 L609.66,626.9 L609.81,625.28 L609.96,627.63 L610.11,627.53 L610.25,627.45 L610.4,626.7 L610.55,626.21 L610.7,626.99 L610.84,627.35 L610.99,627.71 L611.14,626.98 L611.29,626.33 L611.43,627.64 L611.58,626.83 L611.73,626.65 L611.88,626.74 L612.03,627.2 L612.17,627.28 L612.32,627.07 L612.47,625.6 L612.62,627.82 L612.76,628.27 L612.91,627.65 L613.06,627.19 L613.21,627.41 L613.36,627.12 L613.5,629.13 L613.65,627.91 L613.8,626.52 L613.95,627.05 L614.09,626.95 L614.24,626.97 L614.39,626.95 L614.54,627.39 L614.69,626.99 L614.83,627.49 L614.98,628.18 L615.13,628.08 L615.28,626.74 L615.42,627.33 L615.57,627.13 L615.72,627.02 L615.87,626.74 L616.01,627.45 L616.16,626.97 L616.31,628.6 L616.46,627.4 L616.61,627.88 L616.75,627.51 L616.9,626.99 L617.05,627.47 L617.2,627.77 L617.34,627.66 L617.49,627.6 L617.64,627.12 L617.79,628.37 L617.94,628.77 L618.08,628.23 L618.23,628.04 L618.38,626.99 L618.53,627.76 L618.67,627.69 L618.82,628.19 L618.97,628.2 L619.12,628.19 L619.27,627.98 L619.41,627.45 L619.56,627.19 L619.71,627.17 L619.86,627.6 L620,627.37 L620.15,628.82 L620.3,628.1 L620.45,628.55 L620.6,628.65 L620.74,627.32 L620.89,627.69 L621.04,628.05 L621.19,628.41 L621.33,628.31 L621.48,627.57 L621.63,626.74 L621.78,628.84 L621.92,628.85 L622.07,628.76 L622.22,628.49 L622.37,627.44 L622.52,629.1 L622.66,628.35 L622.81,628 L622.96,628.27 L623.11,628.34 L623.25,627.3 L623.4,628.42 L623.55,628.18 L623.7,628.15 L623.85,628.64 L623.99,627.96 L624.14,628.65 L624.29,627.96 L624.44,628.27 L624.58,627.78 L624.73,628.85 L624.88,627.25 L625.03,628.17 L625.18,629.49 L625.32,628.93 L625.47,628.53 L625.62,627.2 L625.77,628.13 L625.91,628.52 L626.06,628.85 L626.21,627.72 L626.36,629.48 L626.5,629.28 L626.65,628.79 L626.8,628.75 L626.95,627.55 L627.1,628.39 L627.24,627.71 L627.39,628.54 L627.54,627.96 L627.69,628.93 L627.83,627.69 L627.98,628.43 L628.13,628.15 L628.28,627.42 L628.43,628.78 L628.57,628.77 L628.72,629.01 L628.87,628.48 L629.02,628.89 L629.16,628.95 L629.31,627.76 L629.46,627.53 L629.61,629.18 L629.76,628.59 L629.9,628.57 L630.05,629.31 L630.2,629.09 L630.35,628.72 L630.49,627.82 L630.64,629.72 L630.79,630 L630.94,628.63 L631.08,628.31 L631.23,628.93 L631.38,628.09 L631.53,628.4 L631.68,628.61 L631.82,628.28 L631.97,628.74 L632.12,628.95 L632.27,629.08 L632.41,629 L632.56,628.47 L632.71,628.13 L632.86,628.31 L633.01,629.09 L633.15,630.83 L633.3,628.42 L633.45,629.32 L633.6,628.62 L633.74,628.96 L633.89,629.42 L634.04,627.64 L634.19,629.3 L634.34,629.18 L634.48,629.31 L634.63,629.36 L634.78,629.18 L634.93,629.56 L635.07,629.54 L635.22,629.87 L635.37,628.1 L635.52,629.36 L635.67,629.46 L635.81,629.52 L635.96,630.07 L636.11,628.41 L636.26,628.77 L636.4,629.21 L636.55,629.31 L636.7,627.89 L636.85,629.32 L636.99,629.64 L637.14,630.48 L637.29,630.87 L637.44,630.52 L637.59,628.6 L637.73,628.61 L637.88,629.29 L638.03,630.97 L638.18,628.25 L638.32,628.94 L638.47,628.13 L638.62,629.32 L638.77,628.55 L638.92,627.83 L639.06,628.55 L639.21,628.62 L639.36,629.34 L639.51,628.48 L639.65,629.32 L639.8,629.59 L639.95,628.44 L640.1,629.64 L640.25,629.15 L640.39,629.76 L640.54,629.37 L640.69,629.94 L640.84,629.04 L640.98,628.75 L641.13,629.28 L641.28,628.31 L641.43,629.75 L641.57,629.36 L641.72,629.59 L641.87,629.39 L642.02,627.62 L642.17,628.75 L642.31,629.1 L642.46,629.25 L642.61,629.88 L642.76,628.73 L642.9,629.56 L643.05,629.65 L643.2,628.91 L643.35,628.94 L643.5,629.06 L643.64,630.31 L643.79,628.55 L643.94,629.14 L644.09,628.88 L644.23,628.99 L644.38,629.27 L644.53,628.94 L644.68,628.89 L644.83,628.97 L644.97,627.53 L645.12,629.17 L645.27,629.54 L645.42,630.4 L645.56,629.83 L645.71,629.31 L645.86,628.83 L646.01,629.21 L646.15,628.51 L646.3,629.7 L646.45,630.34 L646.6,629.31 L646.75,629.53 L646.89,628.67 L647.04,630.06 L647.19,628.72 L647.34,629.4 L647.48,629.14 L647.63,629.3 L647.78,628.9 L647.93,629.2 L648.08,630.02 L648.22,628.59 L648.37,629.16 L648.52,629.32 L648.67,628.68 L648.81,628.24 L648.96,629.6 L649.11,628.85 L649.26,630.15 L649.41,629.02 L649.55,629.43 L649.7,629.43 L649.85,629.03 L650,628.92 L650.14,628.72 L650.29,630.42 L650.44,629.06 L650.59,629.72 L650.74,629.09 L650.88,629.23 L651.03,630.11 L651.18,629.42 L651.33,629.05 L651.47,629.15 L651.62,628.99 L651.77,629.72 L651.92,628.28 L652.06,629.58 L652.21,630.16 L652.36,629.3 L652.51,628.16 L652.66,628.82 L652.8,629.04 L652.95,628.98 L653.1,627.81 L653.25,628.18 L653.39,628.71 L653.54,628.8 L653.69,629.92 L653.84,630.15 L653.99,629.01 L654.13,627.38 L654.28,628.68 L654.43,629.85 L654.58,629.72 L654.72,628.69 L654.87,628.78 L655.02,629.82 L655.17,628.49 L655.32,630.04 L655.46,628.26 L655.61,628.78 L655.76,628.86 L655.91,628.6 L656.05,628.97 L656.2,629.07 L656.35,629.43 L656.5,628.77 L656.64,630.16 L656.79,629.54 L656.94,628.34 L657.09,629.51 L657.24,628.89 L657.38,629.63 L657.53,628.78 L657.68,628.81 L657.83,628.89 L657.97,628.15 L658.12,629.51 L658.27,629.77 L658.42,628.13 L658.57,628.67 L658.71,628.74 L658.86,629.82 L659.01,628.56 L659.16,629.15 L659.3,629.67 L659.45,629.82 L659.6,628.47 L659.75,628.71 L659.9,628.87 L660.04,628.73 L660.19,629.83 L660.34,629.48 L660.49,629.4 L660.63,629.97 L660.78,628.89 L660.93,629.98 L661.08,628.36 L661.23,629.58 L661.37,628.46 L661.52,630.45 L661.67,630.2 L661.82,628.7 L661.96,630.05 L662.11,629.06 L662.26,628.56 L662.41,630.03 L662.55,629.53 L662.7,628.77 L662.85,628.95 L663,629.6 L663.15,629.33 L663.29,630.08 L663.44,628.18 L663.59,627.86 L663.74,629.21 L663.88,629.66 L664.03,628.23 L664.18,628.86 L664.33,629.02 L664.48,629.26 L664.62,629.64 L664.77,628.92 L664.92,628.42 L665.07,629.32 L665.21,629.13 L665.36,629.88 L665.51,630.5 L665.66,629.33 L665.81,628.46 L665.95,629.99 L666.1,629.12 L666.25,629.87 L666.4,629.13 L666.54,629.07 L666.69,628.52 L666.84,627.84 L666.99,629.6 L667.13,629.12 L667.28,628.33 L667.43,629.82 L667.58,630.01 L667.73,629.34 L667.87,629.53 L668.02,628.38 L668.17,628.98 L668.32,629.61 L668.46,628.87 L668.61,629.14 L668.76,628.93 L668.91,629.17 L669.06,628.13 L669.2,628.05 L669.35,628.75 L669.5,628.84 L669.65,629.29 L669.79,628.49 L669.94,629.33 L670.09,627.76 L670.24,628.97 L670.39,629.14 L670.53,629.6 L670.68,629.5 L670.83,629.84 L670.98,629.28 L671.12,629.31 L671.27,628.49 L671.42,628.11 L671.57,629.65 L671.71,628.47 L671.86,630.26 L672.01,628.81 L672.16,628.5 L672.31,630.55 L672.45,630.18 L672.6,628.63 L672.75,628.69 L672.9,628.71 L673.04,628.66 L673.19,629.5 L673.34,629.93 L673.49,629.18 L673.64,630.2 L673.78,629.06 L673.93,629.44 L674.08,630.4 L674.23,629.23 L674.37,629.32 L674.52,630.05 L674.67,629.06 L674.82,630.22 L674.97,629.76 L675.11,628.49 L675.26,628.89 L675.41,629.16 L675.56,628.74 L675.7,629.28 L675.85,629.4 L676,629.02 L676.15,628.99 L676.3,629.81 L676.44,628.61 L676.59,628.91 L676.74,629.15 L676.89,627.74 L677.03,629.01 L677.18,630.59 L677.33,628.58 L677.48,627.32 L677.62,629.24 L677.77,629.69 L677.92,628.82 L678.07,627.88 L678.22,629.55 L678.36,629.31 L678.51,629.8 L678.66,629.44 L678.81,629.13 L678.95,629.49 L679.1,629.65 L679.25,629.05 L679.4,629.91 L679.55,628.67 L679.69,629.31 L679.84,629.58 L679.99,630.9 L680.14,628.82 L680.28,629.57 L680.43,629.43 L680.58,629.21 L680.73,627.96 L680.88,628.38 L681.02,629.61 L681.17,628.11 L681.32,629.48 L681.47,629.87 L681.61,628.44 L681.76,628.85 L681.91,629.1 L682.06,628.61 L682.2,629.47 L682.35,629.49 L682.5,627.99 L682.65,628.01 L682.8,629.11 L682.94,630.7 L683.09,627.88 L683.24,629.59 L683.39,629.27 L683.53,628.25 L683.68,628.99 L683.83,628.65 L683.98,630.01 L684.13,629.39 L684.27,628.85 L684.42,629.74 L684.57,628.9 L684.72,629.51 L684.86,629.71 L685.01,629.44 L685.16,629.57 L685.31,629.98 L685.46,629.53 L685.6,628.34 L685.75,629.77 L685.9,628.89 L686.05,629.37 L686.19,629.82 L686.34,628.49 L686.49,630.3 L686.64,629.67 L686.78,629.19 L686.93,629.66 L687.08,629.86 L687.23,628.49 L687.38,629.57 L687.52,628.42 L687.67,628.8 L687.82,628.45 L687.97,628.81 L688.11,629.59 L688.26,628.53 L688.41,628.96 L688.56,628.58 L688.71,629.08 L688.85,629.85 L689,629.46 L689.15,628.13 L689.3,628.99 L689.44,629.8 L689.59,629.83 L689.74,628.64 L689.89,629.53 L690.04,628.4 L690.18,630.36 L690.33,629.31 L690.48,628.8 L690.63,629.37 L690.77,628.51 L690.92,629.4 L691.07,629.6 L691.22,629.69 L691.37,629.52 L691.51,628.56 L691.66,628.12 L691.81,628.19 L691.96,629.11 L692.1,629.6 L692.25,629.61 L692.4,629.89 L692.55,628.9 L692.69,629.59 L692.84,628.12 L692.99,629.76 L693.14,627.87 L693.29,628.64 L693.43,629.49 L693.58,629.67 L693.73,630.03 L693.88,629.57 L694.02,629.55 L694.17,629.93 L694.32,629.28 L694.47,629.04 L694.62,629.4 L694.76,629.47 L694.91,628.69 L695.06,629.27 L695.21,628.39 L695.35,629.26 L695.5,628.91 L695.65,628.64 L695.8,628.48 L695.95,629.23 L696.09,628.86 L696.24,628.91 L696.39,628.71 L696.54,628.78 L696.68,628.04 L696.83,629.03 L696.98,630.39 L697.13,629.61 L697.27,629.16 L697.42,628.97 L697.57,628.78 L697.72,630.13 L697.87,629.08 L698.01,629.62 L698.16,629.31 L698.31,628.68 L698.46,628.86 L698.6,628.9 L698.75,629.89 L698.9,629.92 L699.05,628.95 L699.2,628.19 L699.34,628.93 L699.49,628.18 L699.64,629.49 L699.79,627.67 L699.93,628.95 L700.08,629.28 L700.23,628.57 L700.38,629.28 L700.53,628.77 L700.67,629.83 L700.82,628.45 L700.97,629.09 L701.12,630.11 L701.26,629.7 L701.41,628.46 L701.56,629.57 L701.71,628.94 L701.85,629.14 L702,628.97 L702.15,630.33 L702.3,629.81 L702.45,627.88 L702.59,629.02 L702.74,629.61 L702.89,629.72 L703.04,630.08 L703.18,628.97 L703.33,628.13 L703.48,629.59 L703.63,629.16 L703.78,629.79 L703.92,628.94 L704.07,627.9 L704.22,629.56 L704.37,629.33 L704.51,628.26 L704.66,629.38 L704.81,629.65 L704.96,629.25 L705.11,629.78 L705.25,628.11 L705.4,628.7 L705.55,628.29 L705.7,629.72 L705.84,629.42 L705.99,628.76 L706.14,628.62 L706.29,629.23 L706.44,630.23 L706.58,628.28 L706.73,628.9 L706.88,627.83 L707.03,628.59 L707.17,629.03 L707.32,629.45 L707.47,629.88 L707.62,628.81 L707.76,629.4 L707.91,629.5 L708.06,629.15 L708.21,629.71 L708.36,629.34 L708.5,629.03 L708.65,629 L708.8,629.9 L708.95,629.99 L709.09,629.99 L709.24,629.61 L709.39,628.52 L709.54,630.03 L709.69,629.74 L709.83,629.12 L709.98,629.46 L710.13,629.4 L710.28,629.17 L710.42,628.42 L710.57,628.73 L710.72,629.58 L710.87,629.97 L711.02,629.49 L711.16,629.2 L711.31,628.9 L711.46,628.85 L711.61,628.69 L711.75,629.09 L711.9,629.89 L712.05,629.26 L712.2,629.16 L712.34,628.11 L712.49,628.07 L712.64,629.1 L712.79,629.21 L712.94,630.02 L713.08,628.95 L713.23,629.11 L713.38,629.87 L713.53,628.45 L713.67,629.34 L713.82,628.99 L713.97,629.05 L714.12,630.02 L714.27,628.84 L714.41,629.78 L714.56,630.9 L714.71,628.87 L714.86,629.76 L715,628.17 L715.15,629.22 L715.3,628.78 L715.45,629.33 L715.6,629.41 L715.74,629.53 L715.89,629.07 L716.04,628.66 L716.19,629.01 L716.33,628.7 L716.48,629.8 L716.63,628.87 L716.78,628.46 L716.93,628.59 L717.07,628.18 L717.22,629.24 L717.37,629.2 L717.52,629.21" stroke="#e0104a" stroke-width="0.75"/>
<path d="M30.5,628.75 L30.65,628.24 L30.8,628.31 L30.94,629.03 L31.09,629.18 L31.24,628.16 L31.39,628.07 L31.53,627.42 L31.68,628.36 L31.83,630.1 L31.98,628.29 L32.13,627.4 L32.27,629.17 L32.42,628.1 L32.57,628.81 L32.72,628.33 L32.86,627.76 L33.01,627.69 L33.16,627.92 L33.31,628.44 L33.45,627.56 L33.6,627.77 L33.75,627.66 L33.9,630.35 L34.05,628.6 L34.19,629.51 L34.34,628.7 L34.49,628.42 L34.64,629.47 L34.78,628.32 L34.93,627.85 L35.08,627.07 L35.23,629.34 L35.38,628.06 L35.52,627.51 L35.67,629.48 L35.82,628.59 L35.97,628.51 L36.11,628.22 L36.26,629.4 L36.41,627.38 L36.56,628.78 L36.71,628.82 L36.85,627.88 L37,628.89 L37.15,627.69 L37.3,629.98 L37.44,629.58 L37.59,628.7 L37.74,629.32 L37.89,628.58 L38.04,629.42 L38.18,627.67 L38.33,628.15 L38.48,627.64 L38.63,628.34 L38.77,629.08 L38.92,629.06 L39.07,628.6 L39.22,629.26 L39.36,628.32 L39.51,628.43 L39.66,629.37 L39.81,628.19 L39.96,627.34 L40.1,627.96 L40.25,629.51 L40.4,629.34 L40.55,628.83 L40.69,628.61 L40.84,628.98 L40.99,628.31 L41.14,629.52 L41.29,627.24 L41.43,628.94 L41.58,628.03 L41.73,628.29 L41.88,628.02 L42.02,628.8 L42.17,626.67 L42.32,627.95 L42.47,628.54 L42.62,627.79 L42.76,628.75 L42.91,627.62 L43.06,628.18 L43.21,627.53 L43.35,629.45 L43.5,627.85 L43.65,629.33 L43.8,628.94 L43.94,626.86 L44.09,629.64 L44.24,627.84 L44.39,627.85 L44.54,628.31 L44.68,627.57 L44.83,629.46 L44.98,628.43 L45.13,628.77 L45.27,628.14 L45.42,628.14 L45.57,628.37 L45.72,627.57 L45.87,627.85 L46.01,627.52 L46.16,629.99 L46.31,630.21 L46.46,628.38 L46.6,627.63 L46.75,629.07 L46.9,627.28 L47.05,628.36 L47.2,628.57 L47.34,629.06 L47.49,628.01 L47.64,628.04 L47.79,629.05 L47.93,628.44 L48.08,628.97 L48.23,626.93 L48.38,628.99 L48.52,628.8 L48.67,629.79 L48.82,628.02 L48.97,629.4 L49.12,627.34 L49.26,628.41 L49.41,629.84 L49.56,628.14 L49.71,628.99 L49.85,627.3 L50,628.18 L50.15,629.14 L50.3,629.04 L50.45,628.97 L50.59,629.13 L50.74,627.59 L50.89,629.66 L51.04,626.92 L51.18,628.92 L51.33,627.61 L51.48,627.94 L51.63,628.98 L51.78,629.55 L51.92,627.61 L52.07,628.41 L52.22,629.36 L52.37,629.13 L52.51,630.06 L52.66,628.25 L52.81,629.45 L52.96,629.88 L53.11,629.17 L53.25,629.46 L53.4,627.6 L53.55,628.78 L53.7,628.97 L53.84,629.7 L53.99,627.78 L54.14,628.47 L54.29,628.66 L54.43,629.4 L54.58,628.42 L54.73,629.64 L54.88,627.26 L55.03,627.08 L55.17,628.32 L55.32,627.95 L55.47,629.87 L55.62,628.59 L55.76,627.83 L55.91,629.32 L56.06,629.14 L56.21,628.4 L56.36,628.33 L56.5,627.1 L56.65,626.18 L56.8,628.27 L56.95,629.66 L57.09,628.6 L57.24,628 L57.39,628.85 L57.54,628.2 L57.69,626.99 L57.83,626.76 L57.98,628.3 L58.13,628.93 L58.28,628.63 L58.42,628.59 L58.57,628.12 L58.72,629.44 L58.87,627.07 L59.01,628.4 L59.16,629.39 L59.31,628.62 L59.46,627.7 L59.61,628.51 L59.75,626.78 L59.9,628.12 L60.05,628.94 L60.2,627.93 L60.34,628.98 L60.49,627.97 L60.64,628.76 L60.79,629.4 L60.94,627.83 L61.08,629.25 L61.23,628.28 L61.38,629.28 L61.53,629.32 L61.67,627.92 L61.82,630.09 L61.97,629.49 L62.12,627.93 L62.27,627.83 L62.41,627.6 L62.56,628.36 L62.71,628.97 L62.86,628.66 L63,628.16 L63.15,628.71 L63.3,627 L63.45,629.21 L63.59,628.66 L63.74,627.91 L63.89,628.9 L64.04,628.03 L64.19,629.96 L64.33,627.71 L64.48,628.72 L64.63,629.05 L64.78,627.67 L64.92,627.39 L65.07,628.89 L65.22,628.8 L65.37,629.64 L65.52,627.99 L65.66,628.57 L65.81,629.14 L65.96,628.96 L66.11,628.99 L66.25,627.88 L66.4,627.98 L66.55,627.96 L66.7,628.44 L66.85,629.01 L66.99,628.54 L67.14,627.87 L67.29,629.56 L67.44,629.47 L67.58,628.36 L67.73,628.79 L67.88,628.79 L68.03,627.14 L68.18,627.69 L68.32,627.56 L68.47,627.79 L68.62,628.4 L68.77,629.73 L68.91,627.57 L69.06,628.4 L69.21,627.91 L69.36,628.59 L69.5,628.25 L69.65,628.85 L69.8,628.79 L69.95,629 L70.1,628.75 L70.24,628.63 L70.39,628.63 L70.54,629.29 L70.69,628.61 L70.83,629.29 L70.98,629.15 L71.13,627.64 L71.28,627.73 L71.43,628.97 L71.57,627.96 L71.72,629.15 L71.87,629.01 L72.02,629.5 L72.16,629.56 L72.31,628.44 L72.46,629.68 L72.61,627.69 L72.76,628.45 L72.9,629.31 L73.05,630.03 L73.2,628.48 L73.35,628.53 L73.49,629.97 L73.64,628.6 L73.79,628.69 L73.94,628.63 L74.08,627.89 L74.23,629.1 L74.38,628.58 L74.53,629.5 L74.68,629.13 L74.82,628.96 L74.97,629.15 L75.12,628.44 L75.27,629.22 L75.41,628.47 L75.56,629.63 L75.71,628.21 L75.86,628.84 L76.01,629.04 L76.15,628.81 L76.3,628.71 L76.45,629.32 L76.6,628.52 L76.74,628.11 L76.89,628.73 L77.04,628.28 L77.19,629.45 L77.34,628.64 L77.48,627.6 L77.63,629.19 L77.78,629.18 L77.93,630.06 L78.07,627.66 L78.22,628.08 L78.37,628.73 L78.52,628.97 L78.66,629.37 L78.81,628.36 L78.96,628.23 L79.11,628.23 L79.26,628.98 L79.4,629.86 L79.55,629.01 L79.7,628.34 L79.85,629.3 L79.99,626.68 L80.14,627.78 L80.29,628.62 L80.44,628.22 L80.59,628.74 L80.73,629.46 L80.88,627.51 L81.03,627.48 L81.18,627.61 L81.32,629.1 L81.47,627.18 L81.62,627.64 L81.77,629.47 L81.92,627.69 L82.06,629.83 L82.21,628.57 L82.36,627.94 L82.51,629.29 L82.65,627.15 L82.8,628.74 L82.95,628.95 L83.1,630.02 L83.25,627.95 L83.39,626.59 L83.54,629.16 L83.69,628.73 L83.84,629.18 L83.98,628.61 L84.13,629.81 L84.28,628.3 L84.43,627.81 L84.57,628.19 L84.72,629.5 L84.87,628.63 L85.02,628.18 L85.17,627.12 L85.31,628.17 L85.46,629.41 L85.61,627.87 L85.76,628.83 L85.9,628.35 L86.05,628.06 L86.2,627.88 L86.35,627.78 L86.5,629.41 L86.64,628.63 L86.79,627.88 L86.94,629.66 L87.09,629.55 L87.23,629.13 L87.38,628.38 L87.53,627.15 L87.68,628.01 L87.83,628.06 L87.97,629.64 L88.12,628.55 L88.27,627.57 L88.42,628.51 L88.56,629.41 L88.71,628.59 L88.86,628.56 L89.01,627.24 L89.15,629.19 L89.3,629.2 L89.45,629.31 L89.6,628.17 L89.75,628.39 L89.89,628.43 L90.04,628.39 L90.19,628.45 L90.34,628.17 L90.48,629.13 L90.63,627.66 L90.78,628.5 L90.93,629.32 L91.08,629.03 L91.22,628.05 L91.37,628.52 L91.52,629.2 L91.67,629.09 L91.81,627.68 L91.96,628.28 L92.11,629.51 L92.26,628.94 L92.41,629.19 L92.55,629.69 L92.7,628.34 L92.85,627.95 L93,627 L93.14,629.12 L93.29,628.76 L93.44,629.21 L93.59,628.46 L93.74,629.24 L93.88,627.63 L94.03,628.76 L94.18,628.11 L94.33,627.58 L94.47,628.67 L94.62,628.9 L94.77,628.66 L94.92,628.82 L95.06,628.09 L95.21,628.94 L95.36,629.32 L95.51,628.35 L95.66,628.34 L95.8,629.29 L95.95,628.82 L96.1,628.82 L96.25,629.03 L96.39,627.93 L96.54,627.93 L96.69,627.23 L96.84,627.86 L96.99,628.13 L97.13,627.22 L97.28,629.06 L97.43,628.49 L97.58,628.32 L97.72,627.35 L97.87,628.23 L98.02,628.28 L98.17,627.85 L98.32,629.44 L98.46,627.32 L98.61,628.37 L98.76,629 L98.91,627.33 L99.05,629.7 L99.2,628.95 L99.35,628.89 L99.5,629.9 L99.64,628.32 L99.79,630.3 L99.94,628.26 L100.09,630.43 L100.24,629.15 L100.38,627.81 L100.53,628.73 L100.68,629.31 L100.83,629.64 L100.97,628.41 L101.12,627.91 L101.27,628.68 L101.42,628.57 L101.57,628.43 L101.71,629.94 L101.86,628.36 L102.01,629.31 L102.16,628.24 L102.3,629.55 L102.45,628.99 L102.6,628.63 L102.75,627.76 L102.9,628.61 L103.04,628.64 L103.19,628.07 L103.34,628.66 L103.49,627.67 L103.63,629.56 L103.78,627.74 L103.93,629.21 L104.08,629.97 L104.22,629.45 L104.37,626.4 L104.52,628.09 L104.67,627.79 L104.82,629.05 L104.96,628.56 L105.11,629.79 L105.26,629.24 L105.41,628.6 L105.55,628.7 L105.7,628.05 L105.85,628.52 L106,629.26 L106.15,627.59 L106.29,627.51 L106.44,627.68 L106.59,628.73 L106.74,628.86 L106.88,626.79 L107.03,627.23 L107.18,627.36 L107.33,629.38 L107.48,627.66 L107.62,627.86 L107.77,628.24 L107.92,629.36 L108.07,628.54 L108.21,628.35 L108.36,629.21 L108.51,629.53 L108.66,628.66 L108.81,628.36 L108.95,628.44 L109.1,628.63 L109.25,629.05 L109.4,629.06 L109.54,626.83 L109.69,628.71 L109.84,629.29 L109.99,628.54 L110.13,628.07 L110.28,629.31 L110.43,629.26 L110.58,629.3 L110.73,627.4 L110.87,628.81 L111.02,628.1 L111.17,629.75 L111.32,626.63 L111.46,629.92 L111.61,628.27 L111.76,627.71 L111.91,629.57 L112.06,628.8 L112.2,629.47 L112.35,628.99 L112.5,629.41 L112.65,627.14 L112.79,627.65 L112.94,628.99 L113.09,629.37 L113.24,629.08 L113.39,627.51 L113.53,628.53 L113.68,628.64 L113.83,627.23 L113.98,629.71 L114.12,629.5 L114.27,629.49 L114.42,630.07 L114.57,628.56 L114.71,628.77 L114.86,628.99 L115.01,627.63 L115.16,627.27 L115.31,628.75 L115.45,628.08 L115.6,628.24 L115.75,628.22 L115.9,629.32 L116.04,629.82 L116.19,627.64 L116.34,627.89 L116.49,629.98 L116.64,629.52 L116.78,628.64 L116.93,628.24 L117.08,628.46 L117.23,628.57 L117.37,628.38 L117.52,627.02 L117.67,627.16 L117.82,628.01 L117.97,630.23 L118.11,628.93 L118.26,629.36 L118.41,629.11 L118.56,629.91 L118.7,629.12 L118.85,628.97 L119,627 L119.15,629.37 L119.29,628.11 L119.44,629.86 L119.59,628.7 L119.74,628.03 L119.89,627.14 L120.03,628.7 L120.18,626.48 L120.33,626.96 L120.48,629.29 L120.62,626.27 L120.77,627.63 L120.92,626.75 L121.07,627.7 L121.22,628.06 L121.36,627.85 L121.51,627.34 L121.66,630.55 L121.81,628.18 L121.95,628.98 L122.1,628.95 L122.25,628.5 L122.4,625.92 L122.55,629.26 L122.69,629.73 L122.84,627.2 L122.99,628.88 L123.14,629.68 L123.28,633.12 L123.43,627.64 L123.58,628.55 L123.73,628.75 L123.88,629.26 L124.02,627.51 L124.17,627.55 L124.32,628.76 L124.47,628.47 L124.61,629.73 L124.76,629.13 L124.91,627.44 L125.06,626.85 L125.2,630.83 L125.35,627.87 L125.5,629.07 L125.65,626.26 L125.8,626.39 L125.94,628.75 L126.09,628.02 L126.24,630.12 L126.39,627.04 L126.53,627.99 L126.68,627.77 L126.83,630.12 L126.98,629.27 L127.13,629.66 L127.27,628.89 L127.42,627.16 L127.57,627.83 L127.72,629.15 L127.86,628.85 L128.01,629.07 L128.16,629.5 L128.31,629.1 L128.46,627.83 L128.6,629.45 L128.75,629.19 L128.9,628.55 L129.05,628.07 L129.19,629.44 L129.34,629.11 L129.49,627.41 L129.64,628.5 L129.78,625.35 L129.93,630.23 L130.08,630.19 L130.23,628.9 L130.38,629.54 L130.52,628.79 L130.67,627.67 L130.82,629.75 L130.97,629.56 L131.11,628.78 L131.26,628.38 L131.41,627.93 L131.56,628.94 L131.71,626.79 L131.85,629.73 L132,628.67 L132.15,627.14 L132.3,627.86 L132.44,627.34 L132.59,629.33 L132.74,629.02 L132.89,629 L133.04,626.35 L133.18,627.24 L133.33,628.36 L133.48,634.04 L133.63,629.06 L133.77,629.51 L133.92,628.82 L134.07,628.23 L134.22,627.07 L134.36,628.81 L134.51,627.92 L134.66,626.96 L134.81,629.45 L134.96,627.58 L135.1,628.11 L135.25,629.77 L135.4,629.32 L135.55,627.94 L135.69,629.23 L135.84,628.24 L135.99,628.28 L136.14,629.42 L136.29,628.63 L136.43,630.17 L136.58,628.75 L136.73,630.71 L136.88,628.3 L137.02,627.33 L137.17,628.84 L137.32,628.54 L137.47,628.63 L137.62,625.55 L137.76,626.65 L137.91,630.15 L138.06,627.52 L138.21,629.36 L138.35,630.32 L138.5,628.48 L138.65,626.67 L138.8,629.41 L138.95,629.69 L139.09,625.86 L139.24,629.3 L139.39,629.47 L139.54,628.35 L139.68,631.33 L139.83,626.8 L139.98,627.7 L140.13,628.85 L140.27,628.79 L140.42,626.81 L140.57,627.72 L140.72,627.6 L140.87,628.45 L141.01,627.67 L141.16,628.56 L141.31,629.62 L141.46,627.76 L141.6,627.52 L141.75,628.06 L141.9,630.12 L142.05,629.28 L142.2,631.75 L142.34,627.92 L142.49,629.44 L142.64,626.77 L142.79,629.06 L142.93,629.28 L143.08,629.49 L143.23,627.5 L143.38,627.92 L143.53,628.67 L143.67,628.35 L143.82,630.85 L143.97,627.98 L144.12,628.97 L144.26,628.77 L144.41,627.58 L144.56,625.36 L144.71,629.24 L144.85,628.6 L145,627.98 L145.15,628.49 L145.3,628.61 L145.45,628.5 L145.59,628.13 L145.74,630.04 L145.89,627.78 L146.04,628.39 L146.18,628.91 L146.33,627.12 L146.48,626.88 L146.63,628.27 L146.78,629.22 L146.92,629.58 L147.07,628.32 L147.22,626.59 L147.37,625.89 L147.51,625.09 L147.66,628.72 L147.81,626.74 L147.96,628.16 L148.11,628.79 L148.25,629.98 L148.4,630.11 L148.55,628.92 L148.7,630.35 L148.84,626.84 L148.99,628.74 L149.14,626.26 L149.29,629.57 L149.44,628.46 L149.58,628.65 L149.73,627.45 L149.88,628.18 L150.03,627.6 L150.17,629.41 L150.32,627.46 L150.47,628.5 L150.62,626.14 L150.76,627.47 L150.91,627.99 L151.06,629.52 L151.21,629.83 L151.36,629.29 L151.5,628.45 L151.65,629.57 L151.8,630.54 L151.95,630.27 L152.09,627.04 L152.24,628.13 L152.39,626.69 L152.54,626.43 L152.69,629.14 L152.83,624.02 L152.98,629.86 L153.13,633.05 L153.28,638.97 L153.42,637.82 L153.57,632.94 L153.72,629.05 L153.87,629.9 L154.02,630.13 L154.16,635.11 L154.31,635.68 L154.46,632.66 L154.61,630.6 L154.75,628.44 L154.9,626.47 L155.05,628.54 L155.2,626.54 L155.34,627.69 L155.49,627.52 L155.64,626.06 L155.79,629.33 L155.94,628.08 L156.08,630.03 L156.23,629.82 L156.38,628.22 L156.53,630.06 L156.67,628.91 L156.82,628.08 L156.97,629.56 L157.12,630.03 L157.27,630.94 L157.41,628.79 L157.56,629.19 L157.71,629.46 L157.86,627.39 L158,626.37 L158.15,627.36 L158.3,628.95 L158.45,629.64 L158.6,628.42 L158.74,627.64 L158.89,627.22 L159.04,629.88 L159.19,627.13 L159.33,628.59 L159.48,629.42 L159.63,628.76 L159.78,628.13 L159.92,626.85 L160.07,629.74 L160.22,627.77 L160.37,628.39 L160.52,631.58 L160.66,627.89 L160.81,627.95 L160.96,629.97 L161.11,629.41 L161.25,629.31 L161.4,627.43 L161.55,629.9 L161.7,627.58 L161.85,630.24 L161.99,629.88 L162.14,628.6 L162.29,628.1 L162.44,626.94 L162.58,628.98 L162.73,628.25 L162.88,628.92 L163.03,628.35 L163.18,627.86 L163.32,628.52 L163.47,625.3 L163.62,629.08 L163.77,627.54 L163.91,630.2 L164.06,629.29 L164.21,627.82 L164.36,628.45 L164.51,629.23 L164.65,628.42 L164.8,629.32 L164.95,628.48 L165.1,628.99 L165.24,628.56 L165.39,628.33 L165.54,628.54 L165.69,629.72 L165.83,626.33 L165.98,627.94 L166.13,627.06 L166.28,628.59 L166.43,627.99 L166.57,627.32 L166.72,627.85 L166.87,629.9 L167.02,630.08 L167.16,629.26 L167.31,629.18 L167.46,627.57 L167.61,630 L167.76,627.84 L167.9,627.39 L168.05,626.95 L168.2,629.02 L168.35,628 L168.49,628.32 L168.64,631.02 L168.79,628.07 L168.94,627.4 L169.09,629.53 L169.23,627.33 L169.38,627.59 L169.53,628.64 L169.68,628.5 L169.82,631.76 L169.97,628.48 L170.12,630.2 L170.27,627.76 L170.41,628.98 L170.56,628.01 L170.71,626.09 L170.86,628.41 L171.01,628.38 L171.15,629.58 L171.3,628.95 L171.45,629.27 L171.6,627.25 L171.74,626.35 L171.89,628.94 L172.04,629.69 L172.19,628.79 L172.34,629.25 L172.48,631.1 L172.63,632.44 L172.78,631 L172.93,631.88 L173.07,627.99 L173.22,628.93 L173.37,629.18 L173.52,627.83 L173.67,627.77 L173.81,629.49 L173.96,627.15 L174.11,628.62 L174.26,629.23 L174.4,628 L174.55,629.49 L174.7,628.28 L174.85,627.65 L174.99,628.91 L175.14,629.31 L175.29,626.86 L175.44,629.74 L175.59,628.71 L175.73,629.17 L175.88,629.49 L176.03,628.45 L176.18,629.92 L176.32,630.68 L176.47,628.28 L176.62,629.27 L176.77,627.82 L176.92,629.66 L177.06,628.26 L177.21,629.46 L177.36,629.1 L177.51,627.08 L177.65,630.7 L177.8,629.56 L177.95,627.09 L178.1,626.75 L178.25,629.71 L178.39,629.16 L178.54,630.34 L178.69,627.75 L178.84,627.64 L178.98,627.37 L179.13,629.5 L179.28,629.39 L179.43,626.64 L179.58,626.43 L179.72,628.27 L179.87,629.24 L180.02,628.27 L180.17,627.46 L180.31,629.88 L180.46,629.02 L180.61,628.54 L180.76,629.12 L180.9,631.11 L181.05,629.93 L181.2,627.01 L181.35,627.54 L181.5,630.68 L181.64,629.5 L181.79,629.25 L181.94,628.95 L182.09,629.48 L182.23,627.53 L182.38,628.43 L182.53,627.75 L182.68,627.74 L182.83,628.13 L182.97,629.56 L183.12,628.36 L183.27,629.1 L183.42,626.62 L183.56,628.45 L183.71,628.18 L183.86,630.41 L184.01,629.83 L184.16,629.42 L184.3,630.33 L184.45,628.22 L184.6,628.59 L184.75,628.44 L184.89,627.33 L185.04,628.73 L185.19,626.56 L185.34,626.9 L185.48,629.19 L185.63,629.71 L185.78,628.62 L185.93,628.71 L186.08,630.06 L186.22,629.42 L186.37,629.26 L186.52,629.73 L186.67,629.36 L186.81,628.88 L186.96,627.29 L187.11,627.81 L187.26,628.64 L187.41,628.58 L187.55,627.26 L187.7,627.15 L187.85,628.38 L188,629.81 L188.14,628.56 L188.29,629.68 L188.44,626.82 L188.59,629.56 L188.74,630.45 L188.88,627.64 L189.03,627.12 L189.18,632.25 L189.33,625.62 L189.47,628.12 L189.62,624.92 L189.77,629.86 L189.92,629.3 L190.07,628.47 L190.21,629.04 L190.36,626.89 L190.51,630.31 L190.66,625.08 L190.8,618.33 L190.95,621.95 L191.1,625.76 L191.25,625.65 L191.39,626.85 L191.54,630.23 L191.69,632.52 L191.84,632.8 L191.99,632.06 L192.13,630.26 L192.28,629.03 L192.43,630.55 L192.58,628.98 L192.72,630.5 L192.87,630.72 L193.02,630.16 L193.17,624.49 L193.32,628.98 L193.46,629.03 L193.61,628.66 L193.76,628.33 L193.91,631.09 L194.05,627.26 L194.2,627.59 L194.35,628.07 L194.5,628.55 L194.65,626.71 L194.79,629.38 L194.94,626.88 L195.09,628.84 L195.24,628.65 L195.38,628.14 L195.53,627.86 L195.68,628.92 L195.83,629.32 L195.97,630.49 L196.12,627.77 L196.27,621.87 L196.42,628.51 L196.57,627.38 L196.71,630.3 L196.86,628.95 L197.01,627.72 L197.16,628.85 L197.3,629.22 L197.45,630.05 L197.6,628.76 L197.75,627.82 L197.9,629.32 L198.04,627.97 L198.19,628.97 L198.34,628.01 L198.49,626.84 L198.63,627.37 L198.78,627.99 L198.93,631.3 L199.08,629.54 L199.23,628.12 L199.37,623.82 L199.52,628.56 L199.67,627.6 L199.82,627.56 L199.96,627.34 L200.11,627.95 L200.26,629.81 L200.41,626.24 L200.55,628.1 L200.7,628.17 L200.85,628.16 L201,630.86 L201.15,629.69 L201.29,627.55 L201.44,628.44 L201.59,629.81 L201.74,627.49 L201.88,629.04 L202.03,631.39 L202.18,627.59 L202.33,628.15 L202.48,627.4 L202.62,629.46 L202.77,627.33 L202.92,626.98 L203.07,627.36 L203.21,629.16 L203.36,626.43 L203.51,633.06 L203.66,630.61 L203.81,627.94 L203.95,628.76 L204.1,625.49 L204.25,628.49 L204.4,628.06 L204.54,627.35 L204.69,626.8 L204.84,619.06 L204.99,628.69 L205.14,628.02 L205.28,630.9 L205.43,627.43 L205.58,628.19 L205.73,628.45 L205.87,628.23 L206.02,625.97 L206.17,628.81 L206.32,628.33 L206.46,630.35 L206.61,628.03 L206.76,629.61 L206.91,628.14 L207.06,626.85 L207.2,630.27 L207.35,630.33 L207.5,630.28 L207.65,627.15 L207.79,627.87 L207.94,627.93 L208.09,628.43 L208.24,627.63 L208.39,628.07 L208.53,627.82 L208.68,627.46 L208.83,627.96 L208.98,628.73 L209.12,627.53 L209.27,628.67 L209.42,627.09 L209.57,629.25 L209.72,628.56 L209.86,628.6 L210.01,627.76 L210.16,628.42 L210.31,625.63 L210.45,628.53 L210.6,627.47 L210.75,629.5 L210.9,629.03 L211.04,628.09 L211.19,628.41 L211.34,628.44 L211.49,627.95 L211.64,628.77 L211.78,628.16 L211.93,629.37 L212.08,627.68 L212.23,628.34 L212.37,628.13 L212.52,628.07 L212.67,629.46 L212.82,627.35 L212.97,627.71 L213.11,628.68 L213.26,627.12 L213.41,629.07 L213.56,628.31 L213.7,630.24 L213.85,628.15 L214,629.29 L214.15,628.6 L214.3,628.7 L214.44,628.35 L214.59,628.42 L214.74,627.4 L214.89,627.86 L215.03,628.91 L215.18,630.14 L215.33,628.94 L215.48,627.94 L215.62,627.36 L215.77,628.22 L215.92,628.1 L216.07,628.05 L216.22,629.06 L216.36,629.18 L216.51,625.95 L216.66,628.56 L216.81,628.26 L216.95,628.54 L217.1,625.88 L217.25,628.86 L217.4,629.2 L217.55,628.15 L217.69,627.99 L217.84,628.69 L217.99,628.56 L218.14,629.97 L218.28,627.99 L218.43,628.68 L218.58,627.53 L218.73,629.41 L218.88,628.03 L219.02,629.65 L219.17,628.01 L219.32,627.72 L219.47,628.57 L219.61,628.93 L219.76,628.02 L219.91,628.82 L220.06,627.41 L220.21,630.52 L220.35,629.36 L220.5,628.9 L220.65,629.36 L220.8,628.94 L220.94,629.01 L221.09,628.33 L221.24,628.87 L221.39,627.8 L221.53,628.83 L221.68,628.48 L221.83,627.53 L221.98,627.71 L222.13,627.97 L222.27,628.34 L222.42,629.06 L222.57,627.42 L222.72,629.09 L222.86,627.91 L223.01,628.77 L223.16,628.31 L223.31,627.79 L223.46,629.11 L223.6,628.52 L223.75,627.75 L223.9,628.23 L224.05,627.27 L224.19,628.24 L224.34,628.27 L224.49,628.93 L224.64,628.38 L224.79,627.34 L224.93,628.99 L225.08,630.2 L225.23,628.98 L225.38,628.82 L225.52,629.45 L225.67,627.77 L225.82,628.14 L225.97,629.62 L226.11,628.13 L226.26,627.74 L226.41,628 L226.56,629.05 L226.71,628.37 L226.85,627.91 L227,629.28 L227.15,629.57 L227.3,629.84 L227.44,629 L227.59,628.04 L227.74,629.03 L227.89,628.69 L228.04,628.61 L228.18,629.66 L228.33,629.33 L228.48,627.79 L228.63,627.84 L228.77,628.69 L228.92,627.38 L229.07,627.39 L229.22,628.9 L229.37,627.88 L229.51,628.1 L229.66,629.39 L229.81,628.87 L229.96,627.54 L230.1,628.89 L230.25,628.96 L230.4,629.61 L230.55,628.93 L230.69,628.35 L230.84,628.35 L230.99,626.83 L231.14,628.02 L231.29,628.71 L231.43,628.83 L231.58,627.79 L231.73,627.93 L231.88,628.08 L232.02,628.01 L232.17,628.11 L232.32,628.19 L232.47,628.03 L232.62,627.95 L232.76,629.35 L232.91,628.98 L233.06,627.88 L233.21,629.62 L233.35,629.39 L233.5,629.02 L233.65,628.75 L233.8,628.26 L233.95,628.12 L234.09,629.15 L234.24,627.67 L234.39,627.93 L234.54,629.52 L234.68,629.13 L234.83,628.59 L234.98,629.25 L235.13,628.72 L235.28,627.63 L235.42,628.83 L235.57,628.46 L235.72,628.15 L235.87,628.86 L236.01,628.08 L236.16,629.26 L236.31,628.33 L236.46,628.07 L236.6,627.85 L236.75,629.15 L236.9,629.71 L237.05,629.04 L237.2,628.32 L237.34,628.91 L237.49,628.1 L237.64,628.88 L237.79,628.43 L237.93,627.64 L238.08,628.61 L238.23,629.36 L238.38,628.2 L238.53,627.6 L238.67,628.01 L238.82,629.08 L238.97,628.92 L239.12,629.6 L239.26,628.74 L239.41,629.8 L239.56,628.27 L239.71,628.47 L239.86,627.29 L240,629.13 L240.15,627.55 L240.3,627.21 L240.45,628.09 L240.59,629.5 L240.74,628.32 L240.89,628.41 L241.04,628.42 L241.18,627.36 L241.33,627.93 L241.48,629.15 L241.63,628.57 L241.78,628.93 L241.92,628.22 L242.07,628.7 L242.22,628.8 L242.37,628.97 L242.51,627.32 L242.66,629.15 L242.81,629.67 L242.96,629.51 L243.11,629.11 L243.25,628.52 L243.4,627.6 L243.55,629.73 L243.7,628.71 L243.84,627.04 L243.99,629.13 L244.14,629.02 L244.29,629.26 L244.44,628.93 L244.58,628.31 L244.73,629.41 L244.88,628.99 L245.03,628.18 L245.17,629.15 L245.32,629.91 L245.47,628.06 L245.62,630.39 L245.77,628.98 L245.91,627.65 L246.06,628.61 L246.21,628.97 L246.36,627.97 L246.5,626.97 L246.65,627.14 L246.8,628.37 L246.95,629.79 L247.09,628.21 L247.24,628.55 L247.39,630.11 L247.54,629.7 L247.69,627.83 L247.83,627.86 L247.98,629.15 L248.13,631.49 L248.28,629.03 L248.42,630.08 L248.57,629.5 L248.72,624.96 L248.87,629.34 L249.02,630.96 L249.16,629.39 L249.31,629.08 L249.46,628.63 L249.61,627.4 L249.75,627.43 L249.9,629.98 L250.05,628.55 L250.2,629.46 L250.35,631.44 L250.49,629.61 L250.64,628.4 L250.79,629.86 L250.8,628.5 L251.6,616 L252.2,637 L252.8,629 L252.86,625.91 L253,627.69 L253.15,627.28 L253.3,629.62 L253.45,628.87 L253.6,625.82 L253.74,625.12 L253.89,627.12 L254.04,628.37 L254.19,628 L254.33,626.09 L254.48,628.57 L254.63,626.51 L254.78,629.43 L254.93,630.88 L255.07,628.2 L255.22,627.31 L255.37,629.95 L255.52,629.18 L255.66,626.57 L255.81,627.17 L255.96,627.34 L256.11,625.64 L256.25,629.62 L256.4,626.74 L256.55,629.11 L256.7,626.9 L256.85,625.36 L256.99,627.75 L257.14,629.77 L257.29,630.96 L257.44,630.99 L257.58,629.67 L257.73,628.45 L257.88,628.92 L258.03,629.24 L258.18,627.06 L258.32,629.43 L258.47,628.7 L258.62,626.76 L258.77,628.4 L258.91,627.72 L259.06,629.4 L259.21,628.21 L259.36,628.62 L259.51,626.53 L259.65,626.95 L259.8,628.6 L259.95,628.06 L260.1,628.23 L260.24,629.39 L260.39,628.03 L260.54,628.51 L260.69,628.05 L260.84,628.93 L260.98,629.11 L261.13,628.13 L261.28,628.85 L261.43,629.22 L261.57,629.15 L261.72,628.55 L261.87,627.79 L262.02,627.59 L262.16,626.91 L262.31,627.63 L262.46,627.86 L262.61,628.1 L262.76,628.43 L262.9,629.45 L263.05,630.32 L263.2,628.91 L263.35,628.33 L263.49,628.29 L263.64,628.81 L263.79,627.46 L263.94,628.09 L264.09,628.04 L264.23,627.55 L264.38,629.28 L264.53,628.44 L264.68,628.09 L264.82,628.01 L264.97,628.49 L265.12,627.74 L265.27,630.44 L265.42,628.22 L265.56,629 L265.71,626.19 L265.86,627.71 L266.01,628.68 L266.15,629.31 L266.3,628.68 L266.45,629.41 L266.6,630.56 L266.74,627.74 L266.89,629.27 L267.04,628.61 L267.19,628.73 L267.34,628.4 L267.48,628.92 L267.63,628.38 L267.78,627.81 L267.93,629.34 L268.07,629.5 L268.22,628.52 L268.37,628.47 L268.52,628.88 L268.67,627.94 L268.81,628.43 L268.96,627.48 L269.11,629.08 L269.26,628.38 L269.4,629.65 L269.55,628.91 L269.7,629.09 L269.85,628.43 L270,628.37 L270.14,628.18 L270.29,628.09 L270.44,630.26 L270.59,628.57 L270.73,626.83 L270.88,627.75 L271.03,628.48 L271.18,628.12 L271.32,629.13 L271.47,627.74 L271.62,627.6 L271.77,629.18 L271.92,627.78 L272.06,629.76 L272.21,628.49 L272.36,627.88 L272.51,629.89 L272.65,627.91 L272.8,628.23 L272.95,629.37 L273.1,627.65 L273.25,630.55 L273.39,629.67 L273.54,628.04 L273.69,629.07 L273.84,629.25 L273.98,629.14 L274.13,629.53 L274.28,629.06 L274.43,626.75 L274.58,628.73 L274.72,628.01 L274.87,627.34 L275.02,629.05 L275.17,628.64 L275.31,629.29 L275.46,628.3 L275.61,628.4 L275.76,629.76 L275.91,628.32 L276.05,627.77 L276.2,629.95 L276.35,628.93 L276.5,628.45 L276.64,628.31 L276.79,627.19 L276.94,628.35 L277.09,628.63 L277.23,627.9 L277.38,629.13 L277.53,629.07 L277.68,628.29 L277.83,627.17 L277.97,628.72 L278.12,628.78 L278.27,627.73 L278.42,628.42 L278.56,629.46 L278.71,628.98 L278.86,628.83 L279.01,627.33 L279.16,627.83 L279.3,628.75 L279.45,628.16 L279.6,628.55 L279.75,629.35 L279.89,627.82 L280.04,629.24 L280.19,628.72 L280.34,626.2 L280.49,630.3 L280.63,629.02 L280.78,629.18 L280.93,629.84 L281.08,628.53 L281.22,630.04 L281.37,628 L281.52,627.76 L281.67,630.81 L281.81,627.78 L281.96,629.11 L282.11,631 L282.26,628.7 L282.41,628.39 L282.55,628.9 L282.7,628.3 L282.85,628.9 L283,627.61 L283.14,628.88 L283.29,627.71 L283.44,629.19 L283.59,628.16 L283.74,628.54 L283.88,628.01 L284.03,629.31 L284.18,628.64 L284.33,629.5 L284.47,628.54 L284.62,630.14 L284.77,627.57 L284.92,627.25 L285.07,629.28 L285.21,628.55 L285.36,628.08 L285.51,629.33 L285.66,628.87 L285.8,630.65 L285.95,628.4 L286.1,629.32 L286.25,627.29 L286.39,629.57 L286.54,629.08 L286.69,628.49 L286.84,628.99 L286.99,628.63 L287.13,628.84 L287.28,628.89 L287.43,627.03 L287.58,628.02 L287.72,627.2 L287.87,628.65 L288.02,626.94 L288.17,628.05 L288.32,628.23 L288.46,627.33 L288.61,629.9 L288.76,629.9 L288.91,629.85 L289.05,628.83 L289.2,629.63 L289.35,628.28 L289.5,628.03 L289.65,629.35 L289.79,628.84 L289.94,627.75 L290.09,626.83 L290.24,627.88 L290.38,628.1 L290.53,628.21 L290.68,629.78 L290.83,627.58 L290.98,627.64 L291.12,628.87 L291.27,627.24 L291.42,628.94 L291.57,628.62 L291.71,627.5 L291.86,629.57 L292.01,629.51 L292.16,630.31 L292.3,628.01 L292.45,626.39 L292.6,628.24 L292.75,628.92 L292.9,629.21 L293.04,627.51 L293.19,628.16 L293.34,628.86 L293.49,629.82 L293.63,628.23 L293.78,625.96 L293.93,629.44 L294.08,627.78 L294.23,630.02 L294.37,629.13 L294.52,627.87 L294.67,629.3 L294.82,628.12 L294.96,628.13 L295.11,628.56 L295.26,628.87 L295.41,627.52 L295.56,627 L295.7,627.55 L295.85,629.45 L296,627.92 L296.15,627.33 L296.29,628.88 L296.44,628.76 L296.59,628.86 L296.74,628.2 L296.88,629.79 L297.03,628.1 L297.18,629 L297.33,626.86 L297.48,628.82 L297.62,629.36 L297.77,629.76 L297.92,628.62 L298.07,626.58 L298.21,629.14 L298.36,627.88 L298.51,628.93 L298.66,627.37 L298.81,628.57 L298.95,630.01 L299.1,628.58 L299.25,629.06 L299.4,628.35 L299.54,630.17 L299.69,629.89 L299.84,628.41 L299.99,628.79 L300.14,628.61 L300.28,628.48 L300.43,629.18 L300.58,628.68 L300.73,628.57 L300.87,627.63 L301.02,627.56 L301.17,627.78 L301.32,628.96 L301.47,628.89 L301.61,626.75 L301.76,629.26 L301.91,627.96 L302.06,629.21 L302.2,627.83 L302.35,627.15 L302.5,627.6 L302.65,629.84 L302.79,628.33 L302.94,628.19 L303.09,628.76 L303.24,628.28 L303.39,628.15 L303.53,629.23 L303.68,629.43 L303.83,628.17 L303.98,629.14 L304.12,629 L304.27,628.85 L304.42,628.6 L304.57,629.24 L304.72,628.67 L304.86,627.83 L305.01,629.33 L305.16,628.39 L305.31,628.47 L305.45,628.73 L305.6,627.42 L305.75,628.94 L305.9,628.65 L306.05,628.71 L306.19,627.59 L306.34,628.88 L306.49,628.27 L306.64,628.64 L306.78,627.4 L306.93,627.8 L307.08,628.75 L307.23,628 L307.37,628.89 L307.52,628.46 L307.67,629.96 L307.82,628.86 L307.97,628.25 L308.11,629.71 L308.26,629.48 L308.41,627.69 L308.56,628.16 L308.7,628.31 L308.85,628.29 L309,628.4 L309.15,627.84 L309.3,628.48 L309.44,628.14 L309.59,627.83 L309.74,628.29 L309.89,628.3 L310.03,628.17 L310.18,629.06 L310.33,627.81 L310.48,628.33 L310.63,627.24 L310.77,629.62 L310.92,628.58 L311.07,629.58 L311.22,628.61 L311.36,629.72 L311.51,627.57 L311.66,628.19 L311.81,628.55 L311.95,629.46 L312.1,628.47 L312.25,627.7 L312.4,627.9 L312.55,628.19 L312.69,628.98 L312.84,628.97 L312.99,627.67 L313.14,627.67 L313.28,628.76 L313.43,627.62 L313.58,628.87 L313.73,630.46 L313.88,629.32 L314.02,627.69 L314.17,628.69 L314.32,629.13 L314.47,629.69 L314.61,628.65 L314.76,629.58 L314.91,629.11 L315.06,628.86 L315.21,629.16 L315.35,627.42 L315.5,629.01 L315.65,628.31 L315.8,628.42 L315.94,627.83 L316.09,628.31 L316.24,629.51 L316.39,627.34 L316.54,629.28 L316.68,629.02 L316.83,627.66 L316.98,629.75 L317.13,627.49 L317.27,628.71 L317.42,628.7 L317.57,629.41 L317.72,628.56 L317.86,629.95 L318.01,628.23 L318.16,629.52 L318.31,629.65 L318.46,627.44 L318.6,628.77 L318.75,629.16 L318.9,628.35 L319.05,628.34 L319.19,627.63 L319.34,628.31 L319.49,629.49 L319.64,628.47 L319.79,628.78 L319.93,627.96 L320.08,627.96 L320.23,627.42 L320.38,629.14 L320.52,627.71 L320.67,628.38 L320.82,627.84 L320.97,628 L321.12,627.44 L321.26,629.31 L321.41,629.5 L321.56,627.58 L321.71,628.77 L321.85,629.05 L322,628.46 L322.15,627.97 L322.3,628.37 L322.44,629.03 L322.59,629.27 L322.74,628.48 L322.89,628.23 L323.04,629.07 L323.18,628.09 L323.33,628.03 L323.48,628.91 L323.63,627.76 L323.77,629.95 L323.92,628.22 L324.07,627.25 L324.22,627.84 L324.37,630.48 L324.51,628.44 L324.66,628.35 L324.81,628.74 L324.96,629.35 L325.1,629.33 L325.25,629.43 L325.4,630.04 L325.55,627.97 L325.7,629.11 L325.84,628.43 L325.99,627.58 L326.14,628.72 L326.29,628.82 L326.43,628.71 L326.58,627.02 L326.73,628.02 L326.88,628.8 L327.02,629.04 L327.17,628.22 L327.32,627.79 L327.47,628.54 L327.62,627.67 L327.76,627.78 L327.91,628.25 L328.06,629.6 L328.21,628.63 L328.35,628.61 L328.5,628.96 L328.65,628.41 L328.8,630.54 L328.95,628.73 L329.09,628.87 L329.24,628.63 L329.39,629.19 L329.54,628.68 L329.68,628.91 L329.83,628.96 L329.98,628.35 L330.13,629.41 L330.28,628.51 L330.42,628.81 L330.57,629.62 L330.72,629.26 L330.87,627.33 L331.01,628.15 L331.16,629.25 L331.31,629.03 L331.46,628.55 L331.61,627.1 L331.75,628.04 L331.9,628.78 L332.05,627.42 L332.2,628.85 L332.34,627.31 L332.49,628.21 L332.64,629.93 L332.79,629.72 L332.93,627.05 L333.08,628.74 L333.23,629.26 L333.38,629.25 L333.53,628.11 L333.67,628.55 L333.82,627.41 L333.97,628.62 L334.12,628.88 L334.26,627.86 L334.41,628.93 L334.56,629.43 L334.71,628.52 L334.86,629.42 L335,627.88 L335.15,627.73 L335.3,628.77 L335.45,628.46 L335.59,628.69 L335.74,629.76 L335.89,628.42 L336.04,628.81 L336.19,628.22 L336.33,627.9 L336.48,629.1 L336.63,628.01 L336.78,628.3 L336.92,629.68 L337.07,629.02 L337.22,628.57 L337.37,628.08 L337.51,628.72 L337.66,628.4 L337.81,628.37 L337.96,629.39 L338.11,628.63 L338.25,627.65 L338.4,627.61 L338.55,629.59 L338.7,627.97 L338.84,627.62 L338.99,627.87 L339.14,628.59 L339.29,629.11 L339.44,629.28 L339.58,628.61 L339.73,628.35 L339.88,629.79 L340.03,627.66 L340.17,628.5 L340.32,629.4 L340.47,626.22 L340.62,628.52 L340.77,629.02 L340.91,627.37 L341.06,630.36 L341.21,627.89 L341.36,628.78 L341.5,629.41 L341.65,626.64 L341.8,627.88 L341.95,630.9 L342.09,628.82 L342.24,629.65 L342.39,628.5 L342.54,629.23 L342.69,628.09 L342.83,628.98 L342.98,626.98 L343.13,628.4 L343.28,628.94 L343.42,628.88 L343.57,628.17 L343.72,629.68 L343.87,627.69 L344.02,629.98 L344.16,627.93 L344.31,628.62 L344.46,628.99 L344.61,629.41 L344.75,628.43 L344.9,629.36 L345.05,628.85 L345.2,628.13 L345.35,628.96 L345.49,629.25 L345.64,630.14 L345.79,629.4 L345.94,628.81 L346.08,627.6 L346.23,629.11 L346.38,627.32 L346.53,628.25 L346.68,629.55 L346.82,629.78 L346.97,629.01 L347.12,630.65 L347.27,627.72 L347.41,628.66 L347.56,628.51 L347.71,629.34 L347.86,628.23 L348,629.1 L348.15,629.58 L348.3,628.61 L348.45,628.86 L348.6,628 L348.74,628.27 L348.89,628.44 L349.04,629.1 L349.19,628.86 L349.33,629.55 L349.48,627.87 L349.63,627.11 L349.78,627.95 L349.93,628.6 L350.07,628.87 L350.22,630.05 L350.37,628.85 L350.52,627.89 L350.66,629.14 L350.81,628.05 L350.96,629.15 L351.11,627.7 L351.26,630.17 L351.4,627.81 L351.55,628.05 L351.7,627.47 L351.85,628.66 L351.99,628.58 L352.14,628.8 L352.29,629.1 L352.44,628.75 L352.58,628.72 L352.73,627.9 L352.88,628.49 L353.03,627.72 L353.18,629.2 L353.32,628.14 L353.47,628.32 L353.62,627.81 L353.77,628.78 L353.91,629.59 L354.06,630.18 L354.21,628.55 L354.36,628.13 L354.51,627.23 L354.65,628.17 L354.8,628.47 L354.95,628.17 L355.1,628.78 L355.24,628.23 L355.39,627.66 L355.54,629.52 L355.69,628.05 L355.84,628.25 L355.98,627.29 L356.13,629.92 L356.28,629.58 L356.43,628.53 L356.57,628.73 L356.72,627.95 L356.87,629.57 L357.02,629.62 L357.17,628.02 L357.31,629.52 L357.46,627.39 L357.61,626.85 L357.76,627.87 L357.9,628.2 L358.05,628.57 L358.2,628.25 L358.35,629.1 L358.49,627.7 L358.64,628.78 L358.79,628.08 L358.94,629.07 L359.09,628.8 L359.23,628.39 L359.38,628.24 L359.53,627.58 L359.68,627.64 L359.82,627.1 L359.97,628.55 L360.12,628.73 L360.27,627.87 L360.42,629.53 L360.56,628.47 L360.71,628.07 L360.86,627.74 L361.01,628.73 L361.15,628.4 L361.3,627.87 L361.45,628.97 L361.6,628.22 L361.75,628.76 L361.89,628.33 L362.04,628.49 L362.19,628.54 L362.34,629.52 L362.48,629.86 L362.63,628.86 L362.78,628.93 L362.93,629.23 L363.07,629.25 L363.22,629.25 L363.37,628.39 L363.52,628.54 L363.67,628.1 L363.81,629.42 L363.96,627.57 L364.11,629.73 L364.26,627.72 L364.4,628.94 L364.55,629.15 L364.7,628.25 L364.85,629.8 L365,628.47 L365.14,629.25 L365.29,628.32 L365.44,629.51 L365.59,627.84 L365.73,629.16 L365.88,627.21 L366.03,628.65 L366.18,628.77 L366.33,628.27 L366.47,629.82 L366.62,628.18 L366.77,628.93 L366.92,628.08 L367.06,628.61 L367.21,629.11 L367.36,627.88 L367.51,629.59 L367.65,628.78 L367.8,629 L367.95,628.06 L368.1,629.77 L368.25,628.42 L368.39,628.87 L368.54,629.46 L368.69,628.86 L368.84,627.9 L368.98,628.14 L369.13,628.8 L369.28,629.24 L369.43,628.88 L369.58,629.62 L369.72,628.45 L369.87,629.11 L370.02,628.62 L370.17,629.27 L370.31,628.07 L370.46,628.31 L370.61,629.69 L370.76,629.13 L370.91,628.26 L371.05,628.7 L371.2,628.6 L371.35,628.41 L371.5,628.34 L371.64,629.05 L371.79,627.25 L371.94,628.71 L372.09,628.14 L372.24,628.38 L372.38,629.94 L372.53,628.51 L372.68,628.73 L372.83,628.79 L372.97,629.04 L373.12,628.99 L373.27,627.3 L373.42,629.01 L373.56,628.85 L373.71,628.37 L373.86,628.71 L374.01,628.53 L374.16,628.44 L374.3,627.91 L374.45,628.34 L374.6,627.61 L374.75,627.86 L374.89,628.61 L375.04,628.61 L375.19,628.17 L375.34,628.34 L375.49,627.95 L375.63,628.66 L375.78,628.19 L375.93,628.63 L376.08,627.74 L376.22,629.02 L376.37,629.03 L376.52,628.22 L376.67,628.72 L376.82,628.73 L376.96,628.42 L377.11,629.27 L377.26,629.11 L377.41,627.48 L377.55,628.93 L377.7,627.88 L377.85,628.34 L378,627.49 L378.14,628.79 L378.29,630.23 L378.44,629.01 L378.59,629.47 L378.74,628.16 L378.88,629.32 L379.03,628.76 L379.18,627.86 L379.33,628.1 L379.47,629.46 L379.62,629.45 L379.77,627.36 L379.92,629.91 L380.07,628.75 L380.21,627.04 L380.36,628.35 L380.51,629.67 L380.66,628.76 L380.8,628.29 L380.95,628.58 L381.1,630.05 L381.25,627.86 L381.4,627.85 L381.54,628.93 L381.69,628.07 L381.84,628.24 L381.99,629.42 L382.13,629.09 L382.28,627.66 L382.43,627.64 L382.58,628.72 L382.72,628.93 L382.87,628.04 L383.02,628.32 L383.17,628.51 L383.32,629.41 L383.46,630.15 L383.61,629.25 L383.76,628.33 L383.91,629.17 L384.05,628.27 L384.2,627.49 L384.35,628.17 L384.5,628 L384.65,628.62 L384.79,629.05 L384.94,628.65 L385.09,628.73 L385.24,629.56 L385.38,629.2 L385.53,627.2 L385.68,629 L385.83,628.07 L385.98,629.41 L386.12,627.79 L386.27,629.02 L386.42,629.8 L386.57,626.84 L386.71,627.87 L386.86,629.16 L387.01,630.2 L387.16,627.4 L387.31,630.29 L387.45,627.82 L387.6,628.76 L387.75,628.34 L387.9,628.5 L388.04,627.7 L388.19,627.93 L388.34,629.06 L388.49,629.96 L388.63,628.92 L388.78,628.32 L388.93,627.29 L389.08,628.53 L389.23,629.94 L389.37,627.8 L389.52,628.98 L389.67,627.37 L389.82,628.49 L389.96,628.78 L390.11,630.43 L390.26,628.08 L390.41,628.43 L390.56,627.92 L390.7,628.11 L390.85,630.53 L391,627.93 L391.15,630.35 L391.29,627.36 L391.44,628.71 L391.59,627.32 L391.74,628.63 L391.89,629.48 L392.03,628.59 L392.18,628.9 L392.33,628.79 L392.48,627.62 L392.62,629.35 L392.77,627.66 L392.92,627.35 L393.07,628.62 L393.21,629.98 L393.36,628.42 L393.51,629.11 L393.66,628.8 L393.81,627.86 L393.95,628.84 L394.1,628.45 L394.25,628.93 L394.4,628.43 L394.54,629.59 L394.69,627.71 L394.84,628.21 L394.99,628.34 L395.14,629.42 L395.28,627.48 L395.43,628.2 L395.58,627.94 L395.73,629.86 L395.87,628.58 L396.02,629.45 L396.17,627.6 L396.32,628.69 L396.47,627.91 L396.61,627.68 L396.76,629.52 L396.91,628.13 L397.06,629.71 L397.2,627.56 L397.35,627.91 L397.5,628.36 L397.65,628.58 L397.8,628.27 L397.94,627.7 L398.09,627.48 L398.24,629.95 L398.39,629.55 L398.53,628.68 L398.68,630.52 L398.83,629.59 L398.98,629.14 L399.12,628.59 L399.27,628.73 L399.42,628.61 L399.57,628.57 L399.72,628.56 L399.86,628.18 L400.01,628.87 L400.16,628.81 L400.31,629.35 L400.45,629.69 L400.6,629.66 L400.75,627.67 L400.9,629.3 L401.05,629.39 L401.19,628.19 L401.34,627.57 L401.49,626.84 L401.64,627.13 L401.78,629.14 L401.93,629.58 L402.08,627.46 L402.23,627.96 L402.38,628.74 L402.52,628.91 L402.67,629.5 L402.82,628.5 L402.97,628.57 L403.11,629.62 L403.26,628.78 L403.41,628.28 L403.56,627.13 L403.7,628.79 L403.85,629.2 L404,626.89 L404.15,628.89 L404.3,628.69 L404.44,629.53 L404.59,629.56 L404.74,628.8 L404.89,628.61 L405.03,629.01 L405.18,627.5 L405.33,627.91 L405.48,627.71 L405.63,629.25 L405.77,628.5 L405.92,629.13 L406.07,629.12 L406.22,629.73 L406.36,628.13 L406.51,628.92 L406.66,629.41 L406.81,627.53 L406.96,628.9 L407.1,627.72 L407.25,628.91 L407.4,628.04 L407.55,629.95 L407.69,628.7 L407.84,628.75 L407.99,628.62 L408.14,628.58 L408.28,627.26 L408.43,628.65 L408.58,627.35 L408.73,626.74 L408.88,629.4 L409.02,627.48 L409.17,628.17 L409.32,628.04 L409.47,627.76 L409.61,628.33 L409.76,628.38 L409.91,629.22 L410.06,630.15 L410.21,627.63 L410.35,629.46 L410.5,629.16 L410.65,628.4 L410.8,628.37 L410.94,629.47 L411.09,627.79 L411.24,628.37 L411.39,628.74 L411.54,628.52 L411.68,628.41 L411.83,627.71 L411.98,628.68 L412.13,627.17 L412.27,627.83 L412.42,628.68 L412.57,627.93 L412.72,628.95 L412.87,627.69 L413.01,627.79 L413.16,629.68 L413.31,627.61 L413.46,628.61 L413.6,628.41 L413.75,628.74 L413.9,629.06 L414.05,628.36 L414.19,628.87 L414.34,629.55 L414.49,628.64 L414.64,629.36 L414.79,629.12 L414.93,628.29 L415.08,628.39 L415.23,627.47 L415.38,629.24 L415.52,627.57 L415.67,626.92 L415.82,628.32 L415.97,627.97 L416.12,628.17 L416.26,629.07 L416.41,627.51 L416.56,628.45 L416.71,627.87 L416.85,627.62 L417,627.93 L417.15,627.81 L417.3,628.95 L417.45,629.56 L417.59,627.84 L417.74,629.36 L417.89,629.84 L418.04,627.96 L418.18,627.95 L418.33,628.99 L418.48,629.45 L418.63,629.87 L418.77,629.25 L418.92,627.26 L419.07,629.34 L419.22,629.42 L419.37,629.91 L419.51,627.75 L419.66,628.18 L419.81,628.89 L419.96,629.27 L420.1,628.5 L420.25,627.4 L420.4,627.77 L420.55,628.56 L420.7,629.85 L420.84,628.01 L420.99,626.71 L421.14,627.82 L421.29,629.58 L421.43,628.73 L421.58,627.18 L421.73,628.28 L421.88,629 L422.03,628.44 L422.17,627.96 L422.32,628.08 L422.47,628 L422.62,628.03 L422.76,628.55 L422.91,628.42 L423.06,628.35 L423.21,629.41 L423.35,628.66 L423.5,627.92 L423.65,628.85 L423.8,628.58 L423.95,628.48 L424.09,628.76 L424.24,629.15 L424.39,628.67 L424.54,628.34 L424.68,626.61 L424.83,627.5 L424.98,628.33 L425.13,628.1 L425.28,630.01 L425.42,626.87 L425.57,628.36 L425.72,628.81 L425.87,629.55 L426.01,628.75 L426.16,628.18 L426.31,629.77 L426.46,629.49 L426.61,627.6 L426.75,627.89 L426.9,628.45 L427.05,629.12 L427.2,628.54 L427.34,630.41 L427.49,628.86 L427.64,628.7 L427.79,629.01 L427.94,627.14 L428.08,629.07 L428.23,627.15 L428.38,628.95 L428.53,629.28 L428.67,629.27 L428.82,627.66 L428.97,627.7 L429.12,627.05 L429.26,627.33 L429.41,628.96 L429.56,629.67 L429.71,627.75 L429.86,629.68 L430,627.54 L430.15,628.08 L430.3,627.9 L430.45,628.17 L430.59,629.78 L430.74,628.58 L430.89,628.67 L431.04,629.74 L431.19,628.65 L431.33,628.59 L431.48,629.12 L431.63,628.29 L431.78,628.42 L431.92,629.66 L432.07,629.35 L432.22,628.53 L432.37,628.8 L432.52,626.82 L432.66,628.04 L432.81,628.67 L432.96,628.73 L433.11,630.23 L433.25,627.74 L433.4,629.42 L433.55,628.56 L433.7,628.09 L433.84,627.81 L433.99,629.04 L434.14,630.18 L434.29,629.62 L434.44,628.54 L434.58,628.7 L434.73,628.99 L434.88,629.25 L435.03,628.07 L435.17,627.11 L435.32,627.51 L435.47,629.06 L435.62,629.02 L435.77,629.2 L435.91,629.01 L436.06,627.83 L436.21,629.62 L436.36,628.71 L436.5,628.06 L436.65,627.88 L436.8,628.75 L436.95,627.69 L437.1,626.52 L437.24,628.81 L437.39,626.9 L437.54,627.62 L437.69,628.46 L437.83,627.89 L437.98,629 L438.13,629.12 L438.28,629.34 L438.42,629.29 L438.57,627.41 L438.72,627.99 L438.87,629.06 L439.02,627.54 L439.16,628.98 L439.31,628.54 L439.46,627.78 L439.61,627.22 L439.75,629.5 L439.9,629.49 L440.05,627.61 L440.2,628.04 L440.35,627.07 L440.49,627.88 L440.64,630.24 L440.79,629.03 L440.94,627.77 L441.08,626.85 L441.23,629.96 L441.38,628.3 L441.53,628.89 L441.68,628.7 L441.82,627.86 L441.97,628.56 L442.12,629.64 L442.27,628.89 L442.41,627.27 L442.56,628.49 L442.71,626.88 L442.86,628.25 L443.01,628.95 L443.15,629.14 L443.3,629.06 L443.45,628.82 L443.6,627.96 L443.74,629.7 L443.89,629.51 L444.04,628.2 L444.19,627.3 L444.33,630.32 L444.48,629.25 L444.63,628.9 L444.78,628.36 L444.93,627.72 L445.07,630.06 L445.22,628.56 L445.37,629.33 L445.52,627.85 L445.66,629.06 L445.81,626.99 L445.96,627.55 L446.11,630.11 L446.26,629.25 L446.4,629.18 L446.55,627.57 L446.7,628.73 L446.85,628.5 L446.99,629.39 L447.14,628.46 L447.29,629.91 L447.44,627.7 L447.59,628.27 L447.73,627.16 L447.88,628.82 L448.03,629.17 L448.18,628.29 L448.32,630.45 L448.47,628.71 L448.62,627.49 L448.77,627.61 L448.91,628.59 L449.06,628.84 L449.21,628.45 L449.36,626.99 L449.51,628.41 L449.65,627.64 L449.8,628.41 L449.95,628.01 L450.1,628.57 L450.24,627.98 L450.39,628.76 L450.54,628.8 L450.69,628.4 L450.84,628.73 L450.98,627.43 L451.13,627.83 L451.28,628.12 L451.43,627.55 L451.57,629.25 L451.72,628.99 L451.87,628.18 L452.02,628.95 L452.17,629.26 L452.31,628.62 L452.46,629.15 L452.61,629.69 L452.76,628.54 L452.9,629.15 L453.05,630.03 L453.2,626.95 L453.35,628.55 L453.5,630.13 L453.64,629.04 L453.79,628.25 L453.94,627.44 L454.09,626.98 L454.23,628.94 L454.38,628.84 L454.53,628.39 L454.68,628.39 L454.82,627.36 L454.97,629.21 L455.12,629.53 L455.27,627.65 L455.42,628.92 L455.56,626.75 L455.71,629.29 L455.86,629.92 L456.01,627.93 L456.15,628.23 L456.3,628.12 L456.45,627 L456.6,629.04 L456.75,627.59 L456.89,629.05 L457.04,628.25 L457.19,628.88 L457.34,629.6 L457.48,629.29 L457.63,629.54 L457.78,629.6 L457.93,629.16 L458.08,627.95 L458.22,629.34 L458.37,628.74 L458.52,628.63 L458.67,628.46 L458.81,627.26 L458.96,628.32 L459.11,628.3 L459.26,627.42 L459.4,627.01 L459.55,627.94 L459.7,627.35 L459.85,628.16 L460,628.92 L460.14,628.07 L460.29,627.28 L460.44,629.83 L460.59,628.45 L460.73,627.99 L460.88,628.31 L461.03,627.33 L461.18,630.66 L461.33,628.27 L461.47,626.91 L461.62,628.76 L461.77,628.05 L461.92,628.94 L462.06,629.03 L462.21,627.86 L462.36,629.29 L462.51,629.91 L462.66,627.3 L462.8,628.79 L462.95,629.27 L463.1,627.73 L463.25,629.24 L463.39,629.05 L463.54,629.21 L463.69,628.55 L463.84,629.16 L463.98,629.37 L464.13,628.45 L464.28,628.41 L464.43,628.33 L464.58,629.05 L464.72,628.34 L464.87,627.86 L465.02,630.47 L465.17,628.63 L465.31,627.86 L465.46,630.15 L465.61,628.25 L465.76,627.6 L465.91,628.01 L466.05,628.25 L466.2,628.13 L466.35,628.45 L466.5,627.64 L466.64,628.29 L466.79,627.41 L466.94,628.18 L467.09,628.11 L467.24,628.25 L467.38,629.02 L467.53,627.25 L467.68,629.4 L467.83,628.52 L467.97,628.81 L468.12,628.44 L468.27,628.59 L468.42,630.1 L468.57,628.1 L468.71,628.92 L468.86,628.95 L469.01,628.48 L469.16,629.12 L469.3,629.42 L469.45,627.76 L469.6,628.14 L469.75,627.78 L469.89,627.95 L470.04,629.45 L470.19,628.87 L470.34,628.32 L470.49,630.31 L470.63,629.01 L470.78,628.6 L470.93,628.15 L471.08,629.43 L471.22,629 L471.37,627.59 L471.52,628.49 L471.67,628.76 L471.82,627.61 L471.96,627.89 L472.11,628.98 L472.26,628.84 L472.41,626.58 L472.55,628.9 L472.7,627.53 L472.85,628.31 L473,628.88 L473.15,629.36 L473.29,628.73 L473.44,629.84 L473.59,630.5 L473.74,628.97 L473.88,627.91 L474.03,628.14 L474.18,628.62 L474.33,630.35 L474.47,628.76 L474.62,628.55 L474.77,628.02 L474.92,629 L475.07,628.88 L475.21,627.54 L475.36,628.8 L475.51,629.28 L475.66,629.53 L475.8,628.18 L475.95,629.88 L476.1,628.57 L476.25,629.44 L476.4,629.64 L476.54,628.15 L476.69,628.72 L476.84,628.11 L476.99,628.38 L477.13,628.46 L477.28,628.13 L477.43,627.61 L477.58,629.24 L477.73,629.24 L477.87,629.12 L478.02,628.56 L478.17,628.93 L478.32,628.71 L478.46,628.43 L478.61,628.29 L478.76,627.52 L478.91,628.83 L479.05,628.46 L479.2,628.16 L479.35,628.56 L479.5,627.94 L479.65,627.29 L479.79,628.77 L479.94,629.09 L480.09,628.59 L480.24,628.45 L480.38,626.92 L480.53,628.55 L480.68,628.27 L480.83,628.41 L480.98,630.97 L481.12,629.44 L481.27,628.47 L481.42,627.56 L481.57,628.44 L481.71,629.04 L481.86,628.73 L482.01,627.43 L482.16,628.61 L482.31,628.93 L482.45,629.28 L482.6,627.54 L482.75,627.13 L482.9,627.92 L483.04,629.2 L483.19,627.37 L483.34,629.7 L483.49,627.94 L483.64,627.42 L483.78,629.26 L483.93,628.65 L484.08,628.07 L484.23,628.63 L484.37,629.03 L484.52,628.93 L484.67,628.74 L484.82,629.33 L484.96,628.86 L485.11,627.3 L485.26,629.16 L485.41,629.73 L485.56,629.29 L485.7,629.23 L485.85,630.92 L486,628.3 L486.15,628.1 L486.29,627.57 L486.44,628.66 L486.59,628.78 L486.74,629.23 L486.89,628.04 L487.03,629 L487.18,628.97 L487.33,628.14 L487.48,628.17 L487.62,626.87 L487.77,627.52 L487.92,629.18 L488.07,628.21 L488.22,627.53 L488.36,627.45 L488.51,628.28 L488.66,626.87 L488.81,628.84 L488.95,630.08 L489.1,628.71 L489.25,629.11 L489.4,628.35 L489.54,628.86 L489.69,627.82 L489.84,628.51 L489.99,628.22 L490.14,629.49 L490.28,629.03 L490.43,628.36 L490.58,629.37 L490.73,628.11 L490.87,628.15 L491.02,628.12 L491.17,628.81 L491.32,628.02 L491.47,628.11 L491.61,627.77 L491.76,630.46 L491.91,629.03 L492.06,627.77 L492.2,626.02 L492.35,628.13 L492.5,628.52 L492.65,627.56 L492.8,628.82 L492.94,628.83 L493.09,626.53 L493.24,628.61 L493.39,627.64 L493.53,627.28 L493.68,627.95 L493.83,628.83 L493.98,628.19 L494.12,627.85 L494.27,628.69 L494.42,628.85 L494.57,630.38 L494.72,628.75 L494.86,629.48 L495.01,628.18 L495.16,629.08 L495.31,628.66 L495.45,628.58 L495.6,628.44 L495.75,629.17 L495.9,628.98 L496.05,627.44 L496.19,628.64 L496.34,628.45 L496.49,628.51 L496.64,629.39 L496.78,627.29 L496.93,627.24 L497.08,629.12 L497.23,627.95 L497.38,628.17 L497.52,629.81 L497.67,628.41 L497.82,630.3 L497.97,628.16 L498.11,628.79 L498.26,628.97 L498.41,628.68 L498.56,627.4 L498.71,627.92 L498.85,629.46 L499,629 L499.15,628.9 L499.3,629.4 L499.44,628.51 L499.59,629.16 L499.74,628.54 L499.89,628.22 L500.03,626.73 L500.18,627.89 L500.33,626.67 L500.48,628.94 L500.63,628.17 L500.77,631.39 L500.92,628.56 L501.07,629.4 L501.22,629.6 L501.36,629.37 L501.51,629.7 L501.66,629.58 L501.81,628.87 L501.96,628.32 L502.1,627.97 L502.25,629.35 L502.4,628.06 L502.55,628.46 L502.69,628.98 L502.84,628.47 L502.99,628.28 L503.14,629.41 L503.29,627.28 L503.43,627.05 L503.58,629.24 L503.73,630 L503.88,627.59 L504.02,627.8 L504.17,628.47 L504.32,628.04 L504.47,628.36 L504.61,628.86 L504.76,628.38 L504.91,629.03 L505.06,629.19 L505.21,628.37 L505.35,629.06 L505.5,628.17 L505.65,628.69 L505.8,630.16 L505.94,629.31 L506.09,628.38 L506.24,629.32 L506.39,628.02 L506.54,628.58 L506.68,628.03 L506.83,627.61 L506.98,628.04 L507.13,629.62 L507.27,629.56 L507.42,627.27 L507.57,628.45 L507.72,628.28 L507.87,627.07 L508.01,628.4 L508.16,628.26 L508.31,629.35 L508.46,627.95 L508.6,627.94 L508.75,629.8 L508.9,628.57 L509.05,628.1 L509.2,628.17 L509.34,629.54 L509.49,628.68 L509.64,628.22 L509.79,628.28 L509.93,627.03 L510.08,630.96 L510.23,628.38 L510.38,629.06 L510.52,628.86 L510.67,628.12 L510.82,627.23 L510.97,628.82 L511.12,628.78 L511.26,629.19 L511.41,628.73 L511.56,629.35 L511.71,628.9 L511.85,627.33 L512,629.28 L512.15,628.3 L512.3,628.5 L512.45,628.21 L512.59,628.84 L512.74,628.59 L512.89,627.6 L513.04,628.39 L513.18,628.09 L513.33,629.59 L513.48,628.87 L513.63,628.73 L513.78,627.43 L513.92,628.19 L514.07,628.76 L514.22,628.84 L514.37,629.07 L514.51,628.19 L514.66,628.11 L514.81,627.83 L514.96,628.72 L515.1,629.26 L515.25,629.71 L515.4,629.01 L515.55,629.76 L515.7,629.14 L515.84,628.48 L515.99,628.15 L516.14,628.8 L516.29,628.95 L516.43,628.63 L516.58,628.35 L516.73,629.15 L516.88,629.24 L517.03,628.65 L517.17,627.53 L517.32,627.76 L517.47,628.46 L517.62,628.66 L517.76,627.64 L517.91,628.43 L518.06,628.37 L518.21,628.24 L518.36,629.5 L518.5,628.5 L518.65,629.54 L518.8,629.23 L518.95,628.33 L519.09,628.88 L519.24,628.37 L519.39,627.63 L519.54,628.15 L519.68,629.02 L519.83,629.46 L519.98,628.46 L520.13,628.96 L520.28,628.91 L520.42,628.12 L520.57,628.88 L520.72,627.83 L520.87,628.07 L521.01,628.31 L521.16,627.8 L521.31,629.46 L521.46,628.31 L521.61,628.92 L521.75,628.46 L521.9,629.31 L522.05,628.8 L522.2,628.79 L522.34,629.1 L522.49,628.34 L522.64,626.22 L522.79,627.91 L522.94,628.61 L523.08,628.61 L523.23,627.65 L523.38,628.21 L523.53,628.35 L523.67,628.55 L523.82,628.08 L523.97,628.35 L524.12,629.31 L524.27,629.4 L524.41,628.06 L524.56,629.45 L524.71,628.03 L524.86,629.58 L525,629.55 L525.15,627.27 L525.3,630.92 L525.45,630.02 L525.59,628.8 L525.74,628.47 L525.89,628.92 L526.04,629.99 L526.19,631.07 L526.33,629.87 L526.48,630.55 L526.63,630.87 L526.78,630.24 L526.92,631.17 L527.07,632.02 L527.22,631.32 L527.37,631.6 L527.52,632.32 L527.66,631.78 L527.81,632.47 L527.96,631.89 L528.11,633.32 L528.25,632.87 L528.4,632.03 L528.55,633.1 L528.7,632.49 L528.85,632.8 L528.99,632.42 L529.14,632.95 L529.29,633.74 L529.44,634.44 L529.58,633.84 L529.73,633.83 L529.88,634.01 L530.03,634.79 L530.17,633.97 L530.32,633.95 L530.47,633.14 L530.62,635.47 L530.77,633.16 L530.91,635.45 L531.06,636.15 L531.21,635.56 L531.36,636.28 L531.5,636.49 L531.65,636.82 L531.8,636.7 L531.95,635.51 L532.1,635.46 L532.24,638.45 L532.39,636.39 L532.54,637.15 L532.69,636.66 L532.83,635.81 L532.98,636.5 L533.13,636.74 L533.28,637.83 L533.43,636.13 L533.57,637.48 L533.72,639.3 L533.87,638.51 L534.02,638.15 L534.16,638.3 L534.31,637.48 L534.46,640.11 L534.61,638.12 L534.75,639.82 L534.9,640.75 L535.05,639.35 L535.2,639.42 L535.35,638.46 L535.49,640.03 L535.64,638.74 L535.79,641.1 L535.94,640.7 L536.08,641.29 L536.23,641.39 L536.38,640.96 L536.53,639.61 L536.68,639.98 L536.82,641.86 L536.97,641.45 L537.12,641.16 L537.27,641.09 L537.41,641.05 L537.56,642.59 L537.71,642.09 L537.86,642.37 L538.01,641 L538.15,643.01 L538.3,643.29 L538.45,643.22 L538.6,643.86 L538.74,643.48 L538.89,644.17 L539.04,644.72 L539.19,643.69 L539.34,644.4 L539.48,644.4 L539.63,645.6 L539.78,645.65 L539.93,645.81 L540.07,645.1 L540.22,645.44 L540.37,645.07 L540.52,645.68 L540.66,645.11 L540.81,647.36 L540.96,646.09 L541.11,645.78 L541.26,647.4 L541.4,647.7 L541.55,645.54 L541.7,646.62 L541.85,647.43 L541.99,645.75 L542.14,647.74 L542.29,647.92 L542.44,647.24 L542.59,647.1 L542.73,646.49 L542.88,647.86 L543.03,647.47 L543.18,648.32 L543.32,647.96 L543.47,647.86 L543.62,649.5 L543.77,649.08 L543.92,649.59 L544.06,648.77 L544.21,649.62 L544.36,650.23 L544.51,649.91 L544.65,648.87 L544.8,650.96 L544.95,647.99 L545.1,650.9 L545.24,651.69 L545.39,650.86 L545.54,649.62 L545.69,652.47 L545.84,650.84 L545.98,652.32 L546.13,650.71 L546.28,650.57 L546.43,652.87 L546.57,651.04 L546.72,652.55 L546.87,651.69 L547.02,652.67 L547.17,652.83 L547.31,651.81 L547.46,654.44 L547.61,653.01 L547.76,652.9 L547.9,653.15 L548.05,652.58 L548.2,653.88 L548.35,653.75 L548.5,652.8 L548.64,655.63 L548.79,655.72 L548.94,655.03 L549.09,654.2 L549.23,654.7 L549.38,655.13 L549.53,655.39 L549.68,656.01 L549.82,655.11 L549.97,654.25 L550.12,654.82 L550.27,654.5 L550.42,656.59 L550.56,656.31 L550.71,656.23 L550.86,656.01 L551.01,656.89 L551.15,656.71 L551.3,656.08 L551.45,657.4 L551.6,658.13 L551.75,657.93 L551.89,658.16 L552.04,658.76 L552.19,658.24 L552.34,658.39 L552.48,656.96 L552.63,657.56 L552.78,658.83 L552.93,658.72 L553.08,660.09 L553.22,660.27 L553.37,659.27 L553.52,659.06 L553.67,659.51 L553.81,659.44 L553.96,660.49 L554.11,660.58 L554.26,661.37 L554.41,660.87 L554.55,659.55 L554.7,661.15 L554.85,659.74 L555,660.49 L555.14,663.49 L555.29,661.21 L555.44,661.62 L555.59,661.49 L555.73,662.2 L555.88,661.56 L556.03,661.22 L556.18,662.48 L556.33,662.33 L556.47,662.6 L556.62,663.91 L556.77,664.56 L556.92,663 L557.06,662.89 L557.21,663.02 L557.36,663.99 L557.51,662.96 L557.66,662.75 L557.8,663.3 L557.95,663.17 L558.1,663.04 L558.25,662.16 L558.39,661.86 L558.54,663.7 L558.69,662.16 L558.84,661.89 L558.99,662.6 L559.13,661.1 L559.28,662.57 L559.43,662.05 L559.58,661.53 L559.72,663.65 L559.87,662.16 L560.02,662.91 L560.17,663.53 L560.31,664.84 L560.46,664 L560.61,663.99 L560.76,664.53 L560.91,663.98 L561.05,663.37 L561.2,664.95 L561.35,663.89 L561.5,664.1 L561.64,664.15 L561.79,662.35 L561.94,661.82 L562.09,663.7 L562.24,663.72 L562.38,662.77 L562.53,662.62 L562.68,661.35 L562.83,662.54 L562.97,662.7 L563.12,660.71 L563.27,662.51 L563.42,662.84 L563.57,662.81 L563.71,662.98 L563.86,662.83 L564.01,662.75 L564.16,663.91 L564.3,663.22 L564.45,663.81 L564.6,663.15 L564.75,664.78 L564.9,663.57 L565.04,663.72 L565.19,664.18 L565.34,664.11 L565.49,665.12 L565.63,664.02 L565.78,663.56 L565.93,662.84 L566.08,663.93 L566.22,663.31 L566.37,663.92 L566.52,661.19 L566.67,660.99 L566.82,662.77 L566.96,662.45 L567.11,663.54 L567.26,663.04 L567.41,662.15 L567.55,663.76 L567.7,663 L567.85,662.5 L568,663.29 L568.15,663.76 L568.29,664.22 L568.44,663.87 L568.59,662.96 L568.74,664.34 L568.88,662.82 L569.03,663.2 L569.18,664.83 L569.33,662.86 L569.48,662.61 L569.62,663.79 L569.77,663.23 L569.92,664.21 L570.07,664.55 L570.21,663.13 L570.36,663.06 L570.51,662.46 L570.66,663.2 L570.8,662.52 L570.95,663.5 L571.1,661.49 L571.25,661.51 L571.4,661 L571.54,663.81 L571.69,662.87 L571.84,662.68 L571.99,663.99 L572.13,663.1 L572.28,663.55 L572.43,663.54 L572.58,665.09 L572.73,664.1 L572.87,664.66 L573.02,664.13 L573.17,664.3 L573.32,665.59 L573.46,664.57 L573.61,664.04 L573.76,664.17 L573.91,663.54 L574.06,662.8 L574.2,664.52 L574.35,663.48 L574.5,661.55 L574.65,663.5 L574.79,662.18 L574.94,662.67 L575.09,661.16 L575.24,662.01 L575.38,661.07 L575.53,663.87 L575.68,662.86 L575.83,663.75 L575.98,663.26 L576.12,664.04 L576.27,664.21 L576.42,664.02 L576.57,663.63 L576.71,664.94 L576.86,664.81 L577.01,663.99 L577.16,663.36 L577.31,665.05 L577.45,664.22 L577.6,663.29 L577.75,664.4 L577.9,663.75 L578.04,663.1 L578.19,663.24 L578.34,663.87 L578.49,663.42 L578.64,663.26 L578.78,662.3 L578.93,662.5 L579.08,663.12 L579.23,662.14 L579.37,662.8 L579.52,663.38 L579.67,663.92 L579.82,662.89 L579.97,663.81 L580.11,664.9 L580.26,664.17 L580.41,663.83 L580.56,663.94 L580.7,663.37 L580.85,664.13 L581,663.82 L581.15,664.35 L581.29,665.27 L581.44,663.59 L581.59,665.3 L581.74,662.82 L581.89,663.76 L582.03,664.61 L582.18,662.82 L582.33,663.36 L582.48,663.25 L582.62,663.8 L582.77,663.78 L582.92,663.22 L583.07,663.5 L583.22,662.98 L583.36,663.6 L583.51,664.65 L583.66,664.22 L583.81,661.68 L583.95,664.85 L584.1,663.69 L584.25,664.44 L584.4,664.24 L584.55,664.09 L584.69,664.12 L584.84,664.7 L584.99,664.52 L585.14,665.11 L585.28,664.24 L585.43,665.75 L585.58,664.27 L585.73,665.52 L585.87,664.26 L586.02,664.7 L586.17,664.25 L586.32,664.6 L586.47,662.7 L586.61,663.4 L586.76,662.67 L586.91,663.13 L587.06,662.63 L587.2,663.25 L587.35,663.29 L587.5,663.61 L587.65,663.03 L587.8,663.43 L587.94,664.76 L588.09,664.91 L588.24,664.79 L588.39,666.39 L588.53,666.39 L588.68,665.29 L588.83,664.01 L588.98,665.77 L589.13,664.2 L589.27,663.84 L589.42,664.5 L589.57,664.42 L589.72,664.19 L589.86,664.84 L590.01,665.59 L590.16,663.6 L590.31,664.56 L590.45,663.72 L590.6,662.76 L590.75,662.66 L590.9,664.49 L591.05,662.61 L591.19,664.54 L591.34,663.04 L591.49,662.96 L591.64,664.57 L591.78,663.28 L591.93,663.09 L592.08,665.27 L592.23,664.85 L592.38,665.54 L592.52,664.9 L592.67,666.38 L592.82,665.08 L592.97,665.47 L593.11,666.42 L593.26,665.61 L593.41,665.72 L593.56,665.96 L593.71,665.21 L593.85,663.91 L594,663.62 L594.15,663.92 L594.3,663.18 L594.44,663.39 L594.59,665.08 L594.74,663.94 L594.89,663.64 L595.04,663.7 L595.18,663.18 L595.33,663.9 L595.48,664.62 L595.63,663.12 L595.77,663.97 L595.92,664.27 L596.07,665.4 L596.22,666.5 L596.36,664.77 L596.51,664.08 L596.66,665.63 L596.81,664.71 L596.96,665.21 L597.1,664.7 L597.25,665.06 L597.4,662.6 L597.55,664.94 L597.69,665.14 L597.84,665.29 L597.99,664.46 L598.14,664.66 L598.29,663.06 L598.43,664.33 L598.58,664.13 L598.73,665.47 L598.88,663.5 L599.02,663.43 L599.17,663.03 L599.32,662.85 L599.47,663.84 L599.62,664.5 L599.76,665.25 L599.91,665.76 L600.06,666.19 L600.21,665.01 L600.35,664.41 L600.5,665.51 L600.65,665.13 L600.8,665.3 L600.94,666.53 L601.09,665.54 L601.24,665.55 L601.39,665.67 L601.54,665.58 L601.68,665.34 L601.83,663.73 L601.98,666.57 L602.13,665.45 L602.27,664.94 L602.42,664.96 L602.57,664.16 L602.72,662.76 L602.87,664.22 L603.01,664.15 L603.16,664.17 L603.31,662.9 L603.46,665.36 L603.6,666.56 L603.75,664.56 L603.9,664.23 L604.05,664.63 L604.2,664.22 L604.34,663.66 L604.49,664.02 L604.64,662.74 L604.79,662.99 L604.93,663.54 L605.08,662.06 L605.23,663.74 L605.38,662.72 L605.53,662.73 L605.67,662.02 L605.82,661.41 L605.97,662.56 L606.12,662.91 L606.26,661.77 L606.41,661.9 L606.56,662.36 L606.71,660.81 L606.85,661.96 L607,659.99 L607.15,661.83 L607.3,661.6 L607.45,659.21 L607.59,660.28 L607.74,660.73 L607.89,659.89 L608.04,660.64 L608.18,658.98 L608.33,660.32 L608.48,659.98 L608.63,660.44 L608.78,657.72 L608.92,660.19 L609.07,658.67 L609.22,658.18 L609.37,658.13 L609.51,658.54 L609.66,659.41 L609.81,657.72 L609.96,656.71 L610.11,659.63 L610.25,657.65 L610.4,658.07 L610.55,655.58 L610.7,657.31 L610.84,657.41 L610.99,656.66 L611.14,657.51 L611.29,655.5 L611.43,657.48 L611.58,656.2 L611.73,655.41 L611.88,655.16 L612.03,656.43 L612.17,656.25 L612.32,656.34 L612.47,653.87 L612.62,655.34 L612.76,655.09 L612.91,655.15 L613.06,655.33 L613.21,654.67 L613.36,655.02 L613.5,654.13 L613.65,653.28 L613.8,653.29 L613.95,653.95 L614.09,653.85 L614.24,654.2 L614.39,654.04 L614.54,653.19 L614.69,653.68 L614.83,653.34 L614.98,652.85 L615.13,651.39 L615.28,652.57 L615.42,651.65 L615.57,653.48 L615.72,651.06 L615.87,652.83 L616.01,652.45 L616.16,653.61 L616.31,651.37 L616.46,650.61 L616.61,650.31 L616.75,649.26 L616.9,649.57 L617.05,650.41 L617.2,650.08 L617.34,650.81 L617.49,650.44 L617.64,651.15 L617.79,649.7 L617.94,650.51 L618.08,648.34 L618.23,648.5 L618.38,649.78 L618.53,650.24 L618.67,648.43 L618.82,649.42 L618.97,649.74 L619.12,648.18 L619.27,648.98 L619.41,648.48 L619.56,647.51 L619.71,646.95 L619.86,648.81 L620,647.33 L620.15,645.63 L620.3,646.19 L620.45,647.22 L620.6,646.38 L620.74,646.06 L620.89,647.16 L621.04,645.98 L621.19,645 L621.33,646.47 L621.48,645.22 L621.63,645.35 L621.78,645.08 L621.92,644.81 L622.07,644.62 L622.22,644.82 L622.37,645.02 L622.52,643.43 L622.66,645.05 L622.81,642.84 L622.96,644.23 L623.11,642.5 L623.25,644.36 L623.4,643.81 L623.55,643.72 L623.7,643.57 L623.85,642.28 L623.99,644.81 L624.14,642.1 L624.29,642.83 L624.44,641.89 L624.58,642.46 L624.73,642.13 L624.88,641.82 L625.03,640.98 L625.18,641.39 L625.32,640.45 L625.47,642.61 L625.62,641.46 L625.77,641.1 L625.91,640.62 L626.06,641.31 L626.21,641.59 L626.36,641.22 L626.5,639.48 L626.65,640.93 L626.8,639.65 L626.95,640.04 L627.1,640.62 L627.24,640.01 L627.39,638.31 L627.54,640.07 L627.69,638.25 L627.83,639.41 L627.98,639.67 L628.13,638.44 L628.28,638.86 L628.43,640.35 L628.57,638.87 L628.72,639.18 L628.87,638.58 L629.02,636.88 L629.16,636.6 L629.31,637.23 L629.46,637.5 L629.61,636.97 L629.76,636.74 L629.9,637.92 L630.05,636.12 L630.2,635.06 L630.35,635.46 L630.49,636.14 L630.64,636.26 L630.79,637.15 L630.94,635.21 L631.08,636.56 L631.23,634.72 L631.38,634.37 L631.53,636.23 L631.68,634.97 L631.82,636.21 L631.97,634.8 L632.12,635.07 L632.27,635.21 L632.41,636.04 L632.56,635.34 L632.71,633.38 L632.86,633.01 L633.01,632.94 L633.15,634.36 L633.3,632.81 L633.45,633.69 L633.6,633.43 L633.74,633.58 L633.89,632.15 L634.04,633.5 L634.19,632.91 L634.34,632.7 L634.48,632.08 L634.63,631.98 L634.78,631.49 L634.93,630.54 L635.07,631.96 L635.22,631.28 L635.37,630.98 L635.52,630.34 L635.67,631.13 L635.81,631.15 L635.96,629.61 L636.11,630.38 L636.26,630.15 L636.4,630.12 L636.55,630.64 L636.7,629.88 L636.85,628.76 L636.99,629.34 L637.14,627.64 L637.29,628.99 L637.44,627.9 L637.59,628.29 L637.73,628.1 L637.88,628.18 L638.03,629.31 L638.18,627.46 L638.32,628.62 L638.47,629 L638.62,629.7 L638.77,628.74 L638.92,630.07 L639.06,628 L639.21,628.92 L639.36,628.91 L639.51,628.94 L639.65,628.77 L639.8,627.93 L639.95,628.86 L640.1,627.96 L640.25,628.07 L640.39,628.56 L640.54,628.39 L640.69,629.39 L640.84,628.09 L640.98,627.22 L641.13,628.41 L641.28,628.68 L641.43,627.92 L641.57,628.33 L641.72,627.91 L641.87,629.07 L642.02,628.11 L642.17,628.77 L642.31,629.06 L642.46,628.57 L642.61,628.97 L642.76,629.3 L642.9,627.51 L643.05,628.41 L643.2,628.93 L643.35,627.95 L643.5,628.35 L643.64,629.58 L643.79,629.97 L643.94,629.3 L644.09,627.84 L644.23,627.97 L644.38,628.4 L644.53,630.22 L644.68,628.83 L644.83,628.07 L644.97,628.83 L645.12,629.55 L645.27,629.34 L645.42,628.51 L645.56,627.39 L645.71,628.5 L645.86,628.92 L646.01,629.63 L646.15,628.7 L646.3,629.06 L646.45,629.08 L646.6,629.41 L646.75,627.97 L646.89,628.28 L647.04,628.11 L647.19,627.43 L647.34,628.56 L647.48,629.28 L647.63,629.91 L647.78,628.47 L647.93,627.76 L648.08,628.1 L648.22,627.21 L648.37,627.84 L648.52,628.91 L648.67,628.72 L648.81,627.68 L648.96,629.21 L649.11,627.44 L649.26,630.1 L649.41,628.38 L649.55,627.43 L649.7,629.13 L649.85,629.21 L650,627.61 L650.14,628.74 L650.29,628.94 L650.44,628.79 L650.59,627.5 L650.74,629.3 L650.88,628.82 L651.03,627.63 L651.18,627.45 L651.33,628.11 L651.47,628.71 L651.62,629.44 L651.77,627.77 L651.92,627.79 L652.06,627.8 L652.21,628.31 L652.36,627.43 L652.51,629 L652.66,628.06 L652.8,627.63 L652.95,628.27 L653.1,629.16 L653.25,628.46 L653.39,629.75 L653.54,627.58 L653.69,628.8 L653.84,628.5 L653.99,628.43 L654.13,628.89 L654.28,628.33 L654.43,628.12 L654.58,627.44 L654.72,628.63 L654.87,627.87 L655.02,629.54 L655.17,628.93 L655.32,630.28 L655.46,628.61 L655.61,628.26 L655.76,628.99 L655.91,627.61 L656.05,627.24 L656.2,629.06 L656.35,627.1 L656.5,629 L656.64,627.76 L656.79,628.99 L656.94,628.91 L657.09,628.37 L657.24,627.67 L657.38,627.63 L657.53,627.45 L657.68,628.9 L657.83,628.36 L657.97,629.61 L658.12,627.54 L658.27,627.85 L658.42,628.2 L658.57,628.42 L658.71,628.79 L658.86,626.11 L659.01,628.41 L659.16,628.25 L659.3,627.87 L659.45,628.81 L659.6,628.43 L659.75,628.08 L659.9,628.26 L660.04,628.68 L660.19,628.37 L660.34,628.39 L660.49,628.73 L660.63,628.19 L660.78,628.54 L660.93,626.9 L661.08,629.11 L661.23,629.78 L661.37,630.11 L661.52,629.16 L661.67,628.89 L661.82,629.36 L661.96,627.68 L662.11,627.88 L662.26,627 L662.41,629.15 L662.55,628.78 L662.7,629.27 L662.85,627.35 L663,628.38 L663.15,627.11 L663.29,628.54 L663.44,628.24 L663.59,629.12 L663.74,629.23 L663.88,629.54 L664.03,628.09 L664.18,628.18 L664.33,629.1 L664.48,628.16 L664.62,628.36 L664.77,629.56 L664.92,628.83 L665.07,628.27 L665.21,628.92 L665.36,628.71 L665.51,628.57 L665.66,628.28 L665.81,629.34 L665.95,629.26 L666.1,628.2 L666.25,628.15 L666.4,629.82 L666.54,629.25 L666.69,628.89 L666.84,627.49 L666.99,628.69 L667.13,627.67 L667.28,627.2 L667.43,627.41 L667.58,629.3 L667.73,630.07 L667.87,628.78 L668.02,628.79 L668.17,628.17 L668.32,630.15 L668.46,630.07 L668.61,627.73 L668.76,628.55 L668.91,628.62 L669.06,626.92 L669.2,628.56 L669.35,628.59 L669.5,629.18 L669.65,628.48 L669.79,628.53 L669.94,628.16 L670.09,627.87 L670.24,628.53 L670.39,627.91 L670.53,628.41 L670.68,629.41 L670.83,628.99 L670.98,629.67 L671.12,628.06 L671.27,627.71 L671.42,628.6 L671.57,628.28 L671.71,627.02 L671.86,628.31 L672.01,628.83 L672.16,630.11 L672.31,627.98 L672.45,629.1 L672.6,628.13 L672.75,628.28 L672.9,628.8 L673.04,628.83 L673.19,628.92 L673.34,629.27 L673.49,629.2 L673.64,628.86 L673.78,627.82 L673.93,628.11 L674.08,630.09 L674.23,628.57 L674.37,628.53 L674.52,629.04 L674.67,627.87 L674.82,627.8 L674.97,629.64 L675.11,629.04 L675.26,628.76 L675.41,628.92 L675.56,629.82 L675.7,628.63 L675.85,629.07 L676,629.3 L676.15,628.18 L676.3,628.12 L676.44,627.41 L676.59,628.53 L676.74,627.52 L676.89,630.09 L677.03,629.1 L677.18,628.75 L677.33,629.48 L677.48,627.7 L677.62,630.02 L677.77,628.14 L677.92,628.56 L678.07,627.84 L678.22,628.28 L678.36,628.96 L678.51,629.91 L678.66,629.13 L678.81,628.12 L678.95,627.39 L679.1,628.96 L679.25,628.9 L679.4,628.23 L679.55,626.93 L679.69,628.73 L679.84,628.2 L679.99,629.24 L680.14,628.5 L680.28,629.21 L680.43,628.87 L680.58,628.92 L680.73,629.19 L680.88,629.92 L681.02,627.96 L681.17,628.05 L681.32,628.95 L681.47,628.53 L681.61,628.05 L681.76,627.31 L681.91,627.41 L682.06,628.51 L682.2,628.77 L682.35,629.09 L682.5,629.46 L682.65,628.15 L682.8,627.53 L682.94,629.07 L683.09,628.27 L683.24,628.46 L683.39,628.38 L683.53,628.33 L683.68,628.78 L683.83,626.94 L683.98,628.16 L684.13,628.63 L684.27,628.74 L684.42,629.1 L684.57,629.43 L684.72,629.17 L684.86,629.19 L685.01,628.66 L685.16,629.55 L685.31,628.5 L685.46,627.92 L685.6,629.39 L685.75,627.55 L685.9,626.4 L686.05,629.51 L686.19,628.28 L686.34,628.03 L686.49,628.22 L686.64,627.91 L686.78,629.98 L686.93,627.37 L687.08,628.84 L687.23,627.66 L687.38,627.98 L687.52,627.65 L687.67,628.91 L687.82,628.07 L687.97,629.03 L688.11,628.04 L688.26,628.36 L688.41,629.21 L688.56,628.63 L688.71,629.21 L688.85,627.78 L689,629.42 L689.15,627.95 L689.3,628.53 L689.44,628.81 L689.59,629.41 L689.74,629.14 L689.89,627.58 L690.04,628.43 L690.18,627.59 L690.33,628.77 L690.48,628.98 L690.63,628.4 L690.77,629.62 L690.92,628.38 L691.07,628.4 L691.22,628.13 L691.37,629.11 L691.51,628.34 L691.66,629.23 L691.81,629.89 L691.96,627.38 L692.1,628.63 L692.25,628.3 L692.4,629.74 L692.55,629.9 L692.69,627.09 L692.84,627.55 L692.99,627.53 L693.14,626.89 L693.29,628.63 L693.43,630.07 L693.58,628.38 L693.73,629.2 L693.88,626.84 L694.02,629.26 L694.17,628.93 L694.32,629.48 L694.47,626.47 L694.62,629.26 L694.76,628.63 L694.91,628.94 L695.06,629.18 L695.21,629.16 L695.35,627.47 L695.5,628.57 L695.65,629.03 L695.8,627.81 L695.95,628.65 L696.09,627.51 L696.24,628.87 L696.39,629.39 L696.54,629.26 L696.68,628.24 L696.83,629.52 L696.98,629.23 L697.13,627.66 L697.27,629.95 L697.42,629.81 L697.57,627.2 L697.72,627.88 L697.87,629.05 L698.01,628.01 L698.16,627.56 L698.31,628.27 L698.46,628.11 L698.6,629.16 L698.75,628.33 L698.9,627.75 L699.05,629.28 L699.2,628.15 L699.34,628.42 L699.49,627.8 L699.64,628.32 L699.79,628.94 L699.93,627.88 L700.08,629.79 L700.23,627.77 L700.38,627.94 L700.53,629.64 L700.67,627.94 L700.82,628.19 L700.97,628.19 L701.12,627.65 L701.26,629.54 L701.41,628.04 L701.56,629.38 L701.71,628.9 L701.85,629.12 L702,626.8 L702.15,629.54 L702.3,628.66 L702.45,627.63 L702.59,628.52 L702.74,627.7 L702.89,629.55 L703.04,628.06 L703.18,626.75 L703.33,627.56 L703.48,630 L703.63,628.48 L703.78,627.49 L703.92,628.85 L704.07,629.51 L704.22,629.01 L704.37,628.29 L704.51,627.69 L704.66,628.57 L704.81,628.65 L704.96,628.04 L705.11,628.54 L705.25,629.19 L705.4,627.93 L705.55,628.38 L705.7,628.98 L705.84,627.62 L705.99,628.25 L706.14,627.68 L706.29,628.13 L706.44,629 L706.58,627.06 L706.73,628.53 L706.88,629.62 L707.03,628.55 L707.17,627.7 L707.32,627.49 L707.47,627.88 L707.62,627.88 L707.76,627.34 L707.91,628.56 L708.06,627.88 L708.21,627.84 L708.36,628.06 L708.5,628.52 L708.65,628.94 L708.8,627.72 L708.95,629.37 L709.09,628.9 L709.24,627.15 L709.39,629.65 L709.54,628.24 L709.69,628.25 L709.83,628.37 L709.98,627.99 L710.13,628.1 L710.28,627.98 L710.42,628.37 L710.57,628.61 L710.72,629.57 L710.87,628.14 L711.02,629.07 L711.16,628.26 L711.31,627.75 L711.46,629.19 L711.61,627.71 L711.75,629.01 L711.9,628.16 L712.05,628.3 L712.2,627.77 L712.34,628.54 L712.49,627.25 L712.64,628.48 L712.79,628.94 L712.94,628.77 L713.08,629.75 L713.23,628.99 L713.38,628.66 L713.53,628.83 L713.67,626.73 L713.82,627.52 L713.97,626.85 L714.12,629.09 L714.27,628.84 L714.41,627.47 L714.56,627.65 L714.71,630 L714.86,627.9 L715,628.09 L715.15,627.62 L715.3,629.74 L715.45,627.83 L715.6,628.07 L715.74,629.08 L715.89,628.83 L716.04,628.44 L716.19,627 L716.33,628.41 L716.48,628.81 L716.63,629.01 L716.78,627.49 L716.93,629.19 L717.07,627.65 L717.22,629.73 L717.37,628.08 L717.52,629.67" stroke="#1a1eac" stroke-width="0.95"/>
</g>
<path d="M30.5,742.9 L30.5,457.5 L717.6,457.5" fill="none" stroke="#8c8c8c" stroke-width="1"/>
<path d="M30,742.9 L717.6,742.9 L717.6,457" fill="none" stroke="#8c8c8c" stroke-width="1.5"/>
<text x="364.4" y="806" font-size="23.5" fill="#000" text-anchor="middle" font-family="'Liberation Serif', serif"><tspan font-size="25">(</tspan><tspan font-weight="bold" font-size="24.5">b</tspan><tspan font-size="25">)</tspan></text>
</svg>
</body></html>
